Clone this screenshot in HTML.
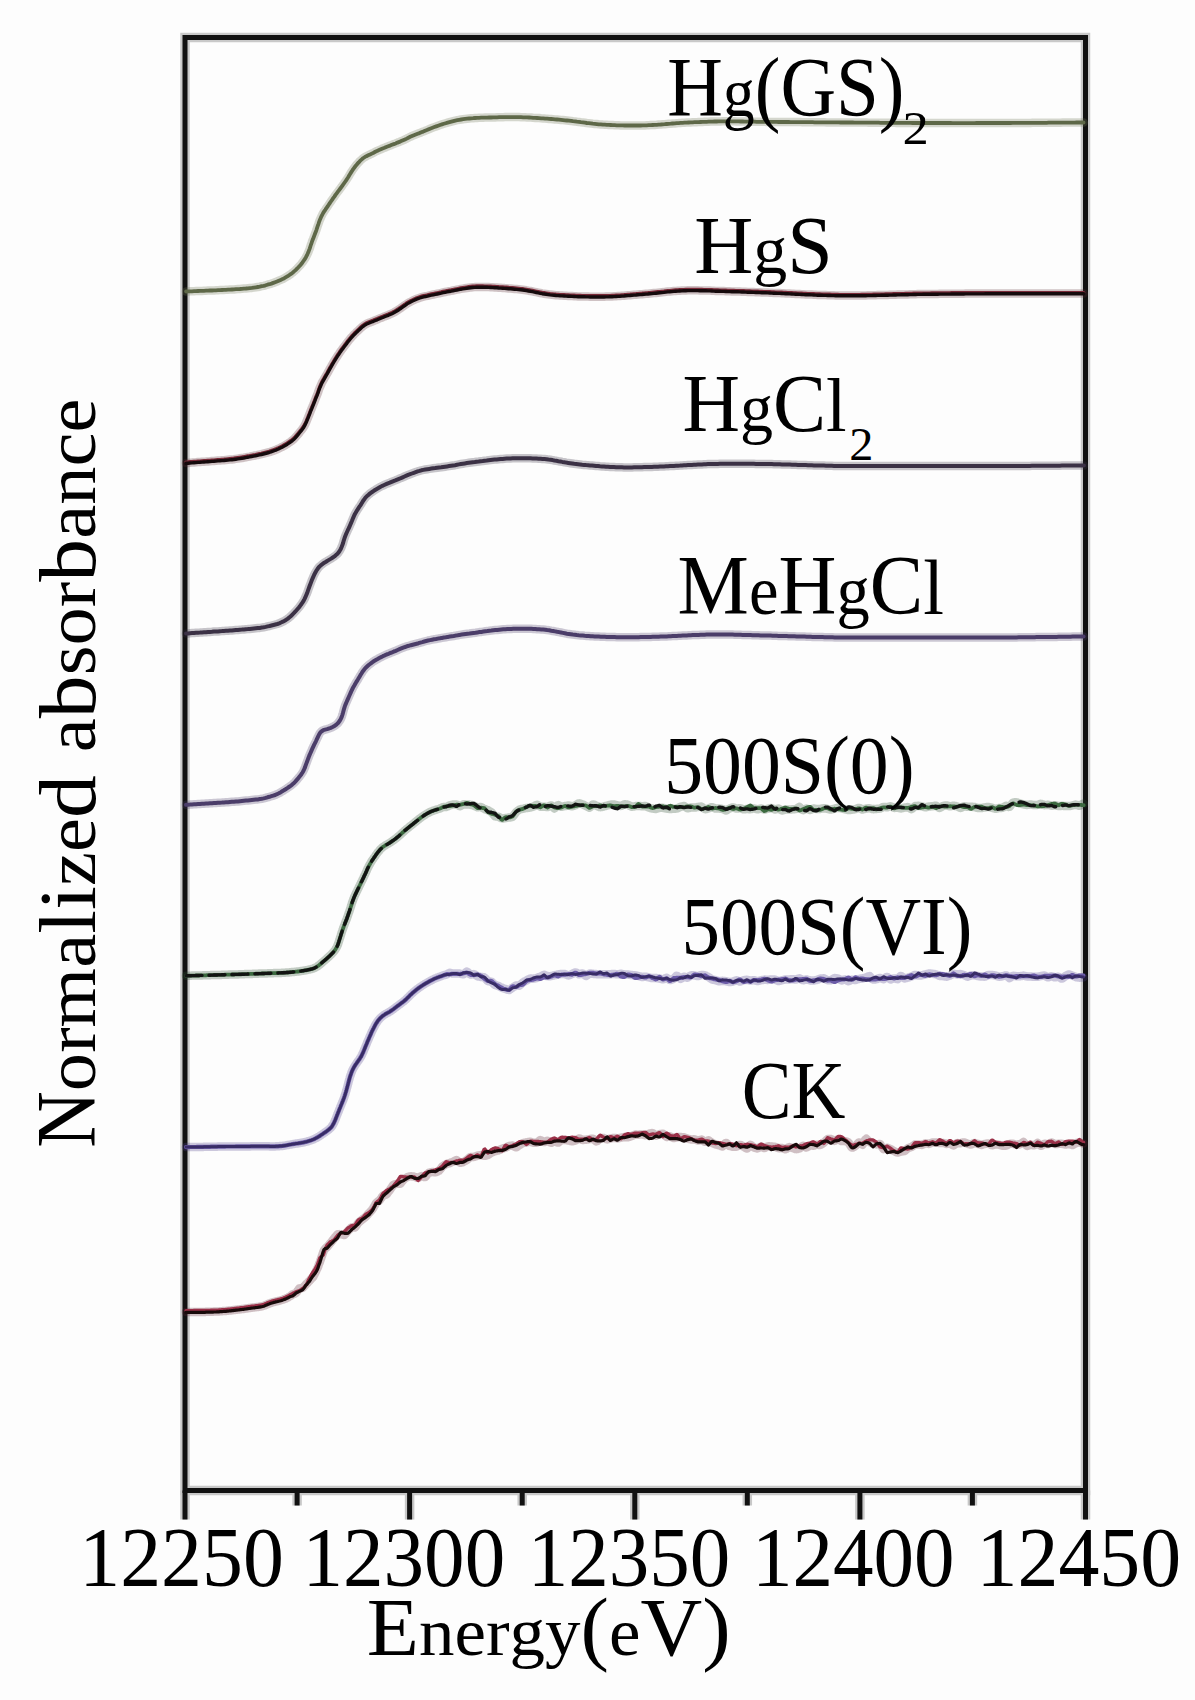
<!DOCTYPE html>
<html><head><meta charset="utf-8"><style>
html,body{margin:0;padding:0;background:#fff;}
svg{display:block;}
text{font-family:"Liberation Serif",serif;font-kerning:none;}
</style></head><body>
<svg width="1195" height="1700" viewBox="0 0 1195 1700">
<rect width="1195" height="1700" fill="#fdfdfd"/>
<g stroke="#111" stroke-width="9.5" opacity="0.22"><rect x="185" y="37.5" width="900.5" height="1453.0" fill="none"/><line x1="185.0" y1="1490.5" x2="185.0" y2="1519.5"/><line x1="297.1" y1="1490.5" x2="297.1" y2="1505.5"/><line x1="409.6" y1="1490.5" x2="409.6" y2="1519.5"/><line x1="522.2" y1="1490.5" x2="522.2" y2="1505.5"/><line x1="634.8" y1="1490.5" x2="634.8" y2="1519.5"/><line x1="747.3" y1="1490.5" x2="747.3" y2="1505.5"/><line x1="859.9" y1="1490.5" x2="859.9" y2="1519.5"/><line x1="972.4" y1="1490.5" x2="972.4" y2="1505.5"/><line x1="1085.5" y1="1490.5" x2="1085.5" y2="1519.5"/></g>
<g stroke="#111" stroke-width="5.0" opacity="1.0"><rect x="185" y="37.5" width="900.5" height="1453.0" fill="none"/><line x1="185.0" y1="1490.5" x2="185.0" y2="1519.5"/><line x1="297.1" y1="1490.5" x2="297.1" y2="1505.5"/><line x1="409.6" y1="1490.5" x2="409.6" y2="1519.5"/><line x1="522.2" y1="1490.5" x2="522.2" y2="1505.5"/><line x1="634.8" y1="1490.5" x2="634.8" y2="1519.5"/><line x1="747.3" y1="1490.5" x2="747.3" y2="1505.5"/><line x1="859.9" y1="1490.5" x2="859.9" y2="1519.5"/><line x1="972.4" y1="1490.5" x2="972.4" y2="1505.5"/><line x1="1085.5" y1="1490.5" x2="1085.5" y2="1519.5"/></g>
<path d="M186.0,291.5 L188.0,291.4 L190.0,291.3 L192.0,291.3 L194.0,291.2 L196.0,291.1 L198.0,291.0 L200.0,290.9 L202.0,290.9 L204.0,290.8 L206.0,290.7 L208.0,290.6 L210.0,290.5 L212.0,290.5 L214.0,290.4 L216.0,290.3 L218.0,290.2 L220.0,290.1 L222.0,290.0 L224.0,289.9 L226.0,289.8 L228.0,289.7 L230.0,289.6 L232.0,289.5 L234.0,289.4 L235.9,289.2 L237.9,289.1 L239.9,289.0 L241.9,288.8 L243.9,288.6 L245.9,288.5 L247.9,288.3 L249.9,288.1 L251.9,287.9 L253.9,287.6 L255.9,287.3 L257.8,287.0 L259.8,286.7 L261.7,286.2 L263.7,285.8 L265.6,285.3 L267.5,284.7 L269.5,284.2 L271.4,283.6 L273.3,282.9 L275.1,282.2 L277.0,281.5 L278.8,280.7 L280.7,279.9 L282.5,279.1 L284.3,278.2 L286.0,277.2 L287.7,276.2 L289.4,275.0 L291.0,273.9 L292.6,272.7 L294.1,271.4 L295.6,270.1 L297.0,268.7 L298.4,267.2 L299.8,265.7 L301.1,264.2 L302.3,262.7 L303.5,261.0 L304.6,259.4 L305.7,257.7 L306.6,255.9 L307.5,254.1 L308.3,252.3 L309.0,250.4 L309.7,248.6 L310.3,246.7 L310.9,244.8 L311.6,242.9 L312.2,241.0 L313.0,239.1 L313.7,237.3 L314.4,235.4 L315.1,233.5 L315.8,231.7 L316.5,229.8 L317.1,227.9 L317.7,226.0 L318.4,224.1 L319.0,222.2 L319.7,220.3 L320.5,218.5 L321.3,216.6 L322.2,214.8 L323.1,213.1 L324.2,211.4 L325.3,209.8 L326.4,208.1 L327.6,206.5 L328.7,204.8 L329.8,203.1 L330.9,201.5 L332.1,199.8 L333.2,198.2 L334.4,196.6 L335.5,194.9 L336.7,193.3 L337.9,191.7 L339.1,190.1 L340.3,188.5 L341.5,186.9 L342.6,185.3 L343.8,183.7 L345.0,182.0 L346.1,180.4 L347.2,178.7 L348.3,177.0 L349.3,175.3 L350.3,173.6 L351.4,171.9 L352.5,170.2 L353.6,168.6 L354.8,167.0 L356.0,165.4 L357.3,163.9 L358.7,162.4 L360.0,160.9 L361.5,159.6 L363.0,158.3 L364.6,157.2 L366.4,156.2 L368.2,155.3 L370.0,154.5 L371.8,153.6 L373.6,152.7 L375.3,151.8 L377.1,150.9 L379.0,150.1 L380.8,149.3 L382.6,148.5 L384.5,147.8 L386.3,147.0 L388.2,146.3 L390.1,145.6 L391.9,144.8 L393.8,144.1 L395.6,143.4 L397.5,142.6 L399.4,141.9 L401.2,141.1 L403.1,140.3 L404.9,139.5 L406.7,138.6 L408.4,137.7 L410.2,136.8 L412.0,136.0 L413.9,135.2 L415.7,134.5 L417.6,133.8 L419.5,133.1 L421.3,132.3 L423.2,131.6 L425.1,130.8 L426.9,130.1 L428.7,129.3 L430.6,128.5 L432.5,127.8 L434.3,127.1 L436.2,126.4 L438.1,125.7 L440.0,125.0 L441.9,124.4 L443.8,123.8 L445.7,123.2 L447.6,122.6 L449.5,122.1 L451.4,121.6 L453.4,121.1 L455.3,120.6 L457.3,120.2 L459.3,119.8 L461.2,119.5 L463.2,119.2 L465.2,118.9 L467.2,118.7 L469.2,118.5 L471.1,118.3 L473.1,118.2 L475.1,118.0 L477.1,117.9 L479.1,117.8 L481.1,117.7 L483.1,117.7 L485.1,117.6 L487.1,117.6 L489.1,117.5 L491.1,117.5 L493.1,117.4 L495.1,117.4 L497.1,117.3 L499.1,117.2 L501.1,117.2 L503.1,117.2 L505.1,117.1 L507.1,117.1 L509.1,117.1 L511.1,117.1 L513.1,117.1 L515.1,117.1 L517.1,117.1 L519.1,117.1 L521.1,117.2 L523.1,117.3 L525.1,117.3 L527.1,117.4 L529.1,117.5 L531.1,117.6 L533.1,117.8 L535.1,117.9 L537.1,118.0 L539.1,118.1 L541.1,118.3 L543.1,118.4 L545.1,118.6 L547.1,118.7 L549.1,118.9 L551.1,119.0 L553.1,119.2 L555.0,119.4 L557.0,119.5 L559.0,119.7 L561.0,119.9 L563.0,120.1 L565.0,120.3 L567.0,120.5 L569.0,120.7 L571.0,120.9 L573.0,121.2 L574.9,121.4 L576.9,121.7 L578.9,121.9 L580.9,122.2 L582.9,122.4 L584.9,122.7 L586.8,123.0 L588.8,123.2 L590.8,123.4 L592.8,123.7 L594.8,123.9 L596.8,124.1 L598.8,124.3 L600.8,124.4 L602.8,124.6 L604.8,124.7 L606.7,124.8 L608.7,124.9 L610.7,125.0 L612.7,125.1 L614.7,125.2 L616.7,125.3 L618.7,125.3 L620.7,125.4 L622.7,125.4 L624.7,125.5 L626.7,125.5 L628.7,125.5 L630.7,125.5 L632.7,125.5 L634.7,125.5 L636.7,125.5 L638.7,125.5 L640.7,125.5 L642.7,125.4 L644.7,125.4 L646.7,125.3 L648.7,125.2 L650.7,125.1 L652.7,125.0 L654.7,124.9 L656.7,124.8 L658.7,124.6 L660.7,124.5 L662.7,124.3 L664.7,124.2 L666.7,124.0 L668.7,123.8 L670.7,123.7 L672.7,123.5 L674.7,123.4 L676.7,123.2 L678.6,123.1 L680.6,122.9 L682.6,122.8 L684.6,122.7 L686.6,122.6 L688.6,122.5 L690.6,122.4 L692.6,122.3 L694.6,122.2 L696.6,122.2 L698.6,122.1 L700.6,122.0 L702.6,121.9 L704.6,121.8 L706.6,121.8 L708.6,121.7 L710.6,121.6 L712.6,121.6 L714.6,121.5 L716.6,121.5 L718.6,121.4 L720.6,121.4 L722.6,121.3 L724.6,121.3 L726.6,121.3 L728.6,121.3 L730.6,121.3 L732.6,121.3 L734.6,121.3 L736.6,121.4 L738.6,121.4 L740.6,121.5 L742.6,121.5 L744.6,121.6 L746.6,121.6 L748.6,121.6 L750.6,121.7 L752.6,121.7 L754.6,121.7 L756.6,121.8 L758.6,121.8 L760.6,121.8 L762.6,121.8 L764.6,121.8 L766.6,121.9 L768.6,121.9 L770.6,121.9 L772.6,121.9 L774.6,121.9 L776.6,121.9 L778.6,122.0 L780.6,122.0 L782.6,122.0 L784.6,122.0 L786.6,122.0 L788.6,122.0 L790.6,122.1 L792.6,122.1 L794.6,122.1 L796.6,122.1 L798.6,122.1 L800.6,122.1 L802.6,122.2 L804.6,122.2 L806.6,122.2 L808.6,122.2 L810.6,122.2 L812.6,122.2 L814.6,122.3 L816.6,122.3 L818.6,122.3 L820.6,122.3 L822.6,122.3 L824.6,122.3 L826.6,122.4 L828.6,122.4 L830.6,122.4 L832.6,122.4 L834.6,122.4 L836.6,122.4 L838.6,122.4 L840.6,122.5 L842.6,122.5 L844.6,122.5 L846.6,122.5 L848.6,122.5 L850.6,122.5 L852.6,122.5 L854.6,122.6 L856.6,122.6 L858.6,122.6 L860.6,122.6 L862.6,122.6 L864.6,122.6 L866.6,122.6 L868.6,122.7 L870.6,122.7 L872.6,122.7 L874.6,122.7 L876.6,122.7 L878.6,122.7 L880.6,122.8 L882.6,122.8 L884.6,122.8 L886.6,122.8 L888.6,122.8 L890.6,122.8 L892.6,122.8 L894.6,122.8 L896.6,122.9 L898.6,122.9 L900.6,122.9 L902.6,122.9 L904.6,122.9 L906.6,122.9 L908.6,122.9 L910.6,122.9 L912.6,123.0 L914.6,123.0 L916.6,123.0 L918.6,123.0 L920.6,123.0 L922.6,123.0 L924.6,123.0 L926.6,123.0 L928.6,123.0 L930.6,123.0 L932.6,123.0 L934.6,123.0 L936.6,123.0 L938.6,123.0 L940.6,123.0 L942.6,123.0 L944.6,123.0 L946.6,123.0 L948.6,123.0 L950.6,123.0 L952.6,123.1 L954.6,123.1 L956.6,123.1 L958.6,123.1 L960.6,123.1 L962.6,123.1 L964.6,123.1 L966.6,123.1 L968.6,123.1 L970.6,123.1 L972.6,123.1 L974.6,123.1 L976.6,123.0 L978.6,123.0 L980.6,123.0 L982.6,123.0 L984.6,123.0 L986.6,123.0 L988.6,123.0 L990.6,123.0 L992.6,123.0 L994.6,123.0 L996.6,123.0 L998.6,123.0 L1000.6,123.0 L1002.6,123.0 L1004.6,123.0 L1006.6,123.0 L1008.6,123.0 L1010.6,123.0 L1012.6,122.9 L1014.6,122.9 L1016.6,122.9 L1018.6,122.9 L1020.6,122.9 L1022.6,122.9 L1024.6,122.9 L1026.6,122.9 L1028.6,122.9 L1030.6,122.9 L1032.6,122.8 L1034.6,122.8 L1036.6,122.8 L1038.6,122.8 L1040.6,122.8 L1042.6,122.8 L1044.6,122.8 L1046.6,122.8 L1048.6,122.7 L1050.6,122.7 L1052.6,122.7 L1054.6,122.7 L1056.6,122.7 L1058.6,122.7 L1060.6,122.7 L1062.6,122.6 L1064.6,122.6 L1066.6,122.6 L1068.6,122.6 L1070.6,122.6 L1072.6,122.6 L1074.6,122.6 L1076.6,122.5 L1078.6,122.5 L1080.6,122.5 L1082.6,122.5 L1083.6,122.5" fill="none" stroke="#6a7452" stroke-width="8.5" stroke-linejoin="round" stroke-linecap="round" stroke-opacity="0.28"/>
<path d="M186.0,291.5 L188.0,291.4 L190.0,291.3 L192.0,291.3 L194.0,291.2 L196.0,291.1 L198.0,291.0 L200.0,290.9 L202.0,290.9 L204.0,290.8 L206.0,290.7 L208.0,290.6 L210.0,290.5 L212.0,290.5 L214.0,290.4 L216.0,290.3 L218.0,290.2 L220.0,290.1 L222.0,290.0 L224.0,289.9 L226.0,289.8 L228.0,289.7 L230.0,289.6 L232.0,289.5 L234.0,289.4 L235.9,289.2 L237.9,289.1 L239.9,289.0 L241.9,288.8 L243.9,288.6 L245.9,288.5 L247.9,288.3 L249.9,288.1 L251.9,287.9 L253.9,287.6 L255.9,287.3 L257.8,287.0 L259.8,286.7 L261.7,286.2 L263.7,285.8 L265.6,285.3 L267.5,284.7 L269.5,284.2 L271.4,283.6 L273.3,282.9 L275.1,282.2 L277.0,281.5 L278.8,280.7 L280.7,279.9 L282.5,279.1 L284.3,278.2 L286.0,277.2 L287.7,276.2 L289.4,275.0 L291.0,273.9 L292.6,272.7 L294.1,271.4 L295.6,270.1 L297.0,268.7 L298.4,267.2 L299.8,265.7 L301.1,264.2 L302.3,262.7 L303.5,261.0 L304.6,259.4 L305.7,257.7 L306.6,255.9 L307.5,254.1 L308.3,252.3 L309.0,250.4 L309.7,248.6 L310.3,246.7 L310.9,244.8 L311.6,242.9 L312.2,241.0 L313.0,239.1 L313.7,237.3 L314.4,235.4 L315.1,233.5 L315.8,231.7 L316.5,229.8 L317.1,227.9 L317.7,226.0 L318.4,224.1 L319.0,222.2 L319.7,220.3 L320.5,218.5 L321.3,216.6 L322.2,214.8 L323.1,213.1 L324.2,211.4 L325.3,209.8 L326.4,208.1 L327.6,206.5 L328.7,204.8 L329.8,203.1 L330.9,201.5 L332.1,199.8 L333.2,198.2 L334.4,196.6 L335.5,194.9 L336.7,193.3 L337.9,191.7 L339.1,190.1 L340.3,188.5 L341.5,186.9 L342.6,185.3 L343.8,183.7 L345.0,182.0 L346.1,180.4 L347.2,178.7 L348.3,177.0 L349.3,175.3 L350.3,173.6 L351.4,171.9 L352.5,170.2 L353.6,168.6 L354.8,167.0 L356.0,165.4 L357.3,163.9 L358.7,162.4 L360.0,160.9 L361.5,159.6 L363.0,158.3 L364.6,157.2 L366.4,156.2 L368.2,155.3 L370.0,154.5 L371.8,153.6 L373.6,152.7 L375.3,151.8 L377.1,150.9 L379.0,150.1 L380.8,149.3 L382.6,148.5 L384.5,147.8 L386.3,147.0 L388.2,146.3 L390.1,145.6 L391.9,144.8 L393.8,144.1 L395.6,143.4 L397.5,142.6 L399.4,141.9 L401.2,141.1 L403.1,140.3 L404.9,139.5 L406.7,138.6 L408.4,137.7 L410.2,136.8 L412.0,136.0 L413.9,135.2 L415.7,134.5 L417.6,133.8 L419.5,133.1 L421.3,132.3 L423.2,131.6 L425.1,130.8 L426.9,130.1 L428.7,129.3 L430.6,128.5 L432.5,127.8 L434.3,127.1 L436.2,126.4 L438.1,125.7 L440.0,125.0 L441.9,124.4 L443.8,123.8 L445.7,123.2 L447.6,122.6 L449.5,122.1 L451.4,121.6 L453.4,121.1 L455.3,120.6 L457.3,120.2 L459.3,119.8 L461.2,119.5 L463.2,119.2 L465.2,118.9 L467.2,118.7 L469.2,118.5 L471.1,118.3 L473.1,118.2 L475.1,118.0 L477.1,117.9 L479.1,117.8 L481.1,117.7 L483.1,117.7 L485.1,117.6 L487.1,117.6 L489.1,117.5 L491.1,117.5 L493.1,117.4 L495.1,117.4 L497.1,117.3 L499.1,117.2 L501.1,117.2 L503.1,117.2 L505.1,117.1 L507.1,117.1 L509.1,117.1 L511.1,117.1 L513.1,117.1 L515.1,117.1 L517.1,117.1 L519.1,117.1 L521.1,117.2 L523.1,117.3 L525.1,117.3 L527.1,117.4 L529.1,117.5 L531.1,117.6 L533.1,117.8 L535.1,117.9 L537.1,118.0 L539.1,118.1 L541.1,118.3 L543.1,118.4 L545.1,118.6 L547.1,118.7 L549.1,118.9 L551.1,119.0 L553.1,119.2 L555.0,119.4 L557.0,119.5 L559.0,119.7 L561.0,119.9 L563.0,120.1 L565.0,120.3 L567.0,120.5 L569.0,120.7 L571.0,120.9 L573.0,121.2 L574.9,121.4 L576.9,121.7 L578.9,121.9 L580.9,122.2 L582.9,122.4 L584.9,122.7 L586.8,123.0 L588.8,123.2 L590.8,123.4 L592.8,123.7 L594.8,123.9 L596.8,124.1 L598.8,124.3 L600.8,124.4 L602.8,124.6 L604.8,124.7 L606.7,124.8 L608.7,124.9 L610.7,125.0 L612.7,125.1 L614.7,125.2 L616.7,125.3 L618.7,125.3 L620.7,125.4 L622.7,125.4 L624.7,125.5 L626.7,125.5 L628.7,125.5 L630.7,125.5 L632.7,125.5 L634.7,125.5 L636.7,125.5 L638.7,125.5 L640.7,125.5 L642.7,125.4 L644.7,125.4 L646.7,125.3 L648.7,125.2 L650.7,125.1 L652.7,125.0 L654.7,124.9 L656.7,124.8 L658.7,124.6 L660.7,124.5 L662.7,124.3 L664.7,124.2 L666.7,124.0 L668.7,123.8 L670.7,123.7 L672.7,123.5 L674.7,123.4 L676.7,123.2 L678.6,123.1 L680.6,122.9 L682.6,122.8 L684.6,122.7 L686.6,122.6 L688.6,122.5 L690.6,122.4 L692.6,122.3 L694.6,122.2 L696.6,122.2 L698.6,122.1 L700.6,122.0 L702.6,121.9 L704.6,121.8 L706.6,121.8 L708.6,121.7 L710.6,121.6 L712.6,121.6 L714.6,121.5 L716.6,121.5 L718.6,121.4 L720.6,121.4 L722.6,121.3 L724.6,121.3 L726.6,121.3 L728.6,121.3 L730.6,121.3 L732.6,121.3 L734.6,121.3 L736.6,121.4 L738.6,121.4 L740.6,121.5 L742.6,121.5 L744.6,121.6 L746.6,121.6 L748.6,121.6 L750.6,121.7 L752.6,121.7 L754.6,121.7 L756.6,121.8 L758.6,121.8 L760.6,121.8 L762.6,121.8 L764.6,121.8 L766.6,121.9 L768.6,121.9 L770.6,121.9 L772.6,121.9 L774.6,121.9 L776.6,121.9 L778.6,122.0 L780.6,122.0 L782.6,122.0 L784.6,122.0 L786.6,122.0 L788.6,122.0 L790.6,122.1 L792.6,122.1 L794.6,122.1 L796.6,122.1 L798.6,122.1 L800.6,122.1 L802.6,122.2 L804.6,122.2 L806.6,122.2 L808.6,122.2 L810.6,122.2 L812.6,122.2 L814.6,122.3 L816.6,122.3 L818.6,122.3 L820.6,122.3 L822.6,122.3 L824.6,122.3 L826.6,122.4 L828.6,122.4 L830.6,122.4 L832.6,122.4 L834.6,122.4 L836.6,122.4 L838.6,122.4 L840.6,122.5 L842.6,122.5 L844.6,122.5 L846.6,122.5 L848.6,122.5 L850.6,122.5 L852.6,122.5 L854.6,122.6 L856.6,122.6 L858.6,122.6 L860.6,122.6 L862.6,122.6 L864.6,122.6 L866.6,122.6 L868.6,122.7 L870.6,122.7 L872.6,122.7 L874.6,122.7 L876.6,122.7 L878.6,122.7 L880.6,122.8 L882.6,122.8 L884.6,122.8 L886.6,122.8 L888.6,122.8 L890.6,122.8 L892.6,122.8 L894.6,122.8 L896.6,122.9 L898.6,122.9 L900.6,122.9 L902.6,122.9 L904.6,122.9 L906.6,122.9 L908.6,122.9 L910.6,122.9 L912.6,123.0 L914.6,123.0 L916.6,123.0 L918.6,123.0 L920.6,123.0 L922.6,123.0 L924.6,123.0 L926.6,123.0 L928.6,123.0 L930.6,123.0 L932.6,123.0 L934.6,123.0 L936.6,123.0 L938.6,123.0 L940.6,123.0 L942.6,123.0 L944.6,123.0 L946.6,123.0 L948.6,123.0 L950.6,123.0 L952.6,123.1 L954.6,123.1 L956.6,123.1 L958.6,123.1 L960.6,123.1 L962.6,123.1 L964.6,123.1 L966.6,123.1 L968.6,123.1 L970.6,123.1 L972.6,123.1 L974.6,123.1 L976.6,123.0 L978.6,123.0 L980.6,123.0 L982.6,123.0 L984.6,123.0 L986.6,123.0 L988.6,123.0 L990.6,123.0 L992.6,123.0 L994.6,123.0 L996.6,123.0 L998.6,123.0 L1000.6,123.0 L1002.6,123.0 L1004.6,123.0 L1006.6,123.0 L1008.6,123.0 L1010.6,123.0 L1012.6,122.9 L1014.6,122.9 L1016.6,122.9 L1018.6,122.9 L1020.6,122.9 L1022.6,122.9 L1024.6,122.9 L1026.6,122.9 L1028.6,122.9 L1030.6,122.9 L1032.6,122.8 L1034.6,122.8 L1036.6,122.8 L1038.6,122.8 L1040.6,122.8 L1042.6,122.8 L1044.6,122.8 L1046.6,122.8 L1048.6,122.7 L1050.6,122.7 L1052.6,122.7 L1054.6,122.7 L1056.6,122.7 L1058.6,122.7 L1060.6,122.7 L1062.6,122.6 L1064.6,122.6 L1066.6,122.6 L1068.6,122.6 L1070.6,122.6 L1072.6,122.6 L1074.6,122.6 L1076.6,122.5 L1078.6,122.5 L1080.6,122.5 L1082.6,122.5 L1083.6,122.5" fill="none" stroke="#5e6848" stroke-width="3.8" stroke-linejoin="round" stroke-linecap="round"/>
<path d="M186.0,463.0 L188.0,462.9 L190.0,462.7 L192.0,462.6 L194.0,462.4 L196.0,462.3 L198.0,462.1 L200.0,462.0 L202.0,461.8 L204.0,461.7 L205.9,461.6 L207.9,461.4 L209.9,461.3 L211.9,461.1 L213.9,461.0 L215.9,460.8 L217.9,460.6 L219.9,460.5 L221.9,460.3 L223.9,460.2 L225.9,460.0 L227.9,459.8 L229.9,459.6 L231.9,459.4 L233.8,459.2 L235.8,458.9 L237.8,458.6 L239.8,458.3 L241.8,458.0 L243.7,457.7 L245.7,457.3 L247.7,456.9 L249.6,456.6 L251.6,456.2 L253.6,455.8 L255.5,455.5 L257.5,455.0 L259.4,454.6 L261.4,454.2 L263.3,453.7 L265.3,453.2 L267.2,452.7 L269.1,452.2 L271.0,451.6 L272.9,450.9 L274.8,450.2 L276.6,449.5 L278.5,448.7 L280.3,447.8 L282.1,446.9 L283.8,446.0 L285.6,445.0 L287.3,443.9 L288.9,442.8 L290.6,441.7 L292.2,440.5 L293.7,439.2 L295.1,437.8 L296.4,436.3 L297.7,434.8 L299.0,433.2 L300.2,431.7 L301.5,430.1 L302.7,428.5 L303.8,426.9 L304.8,425.1 L305.7,423.3 L306.5,421.5 L307.2,419.7 L308.0,417.8 L308.7,416.0 L309.5,414.1 L310.2,412.2 L310.9,410.4 L311.7,408.5 L312.4,406.7 L313.2,404.8 L313.9,403.0 L314.7,401.1 L315.4,399.2 L316.1,397.4 L316.9,395.5 L317.6,393.7 L318.3,391.8 L318.9,389.9 L319.6,388.0 L320.4,386.2 L321.2,384.3 L322.0,382.5 L323.0,380.8 L324.0,379.1 L325.0,377.3 L326.0,375.6 L327.0,373.9 L328.0,372.1 L328.9,370.4 L329.9,368.6 L330.9,366.9 L331.9,365.1 L332.9,363.4 L333.9,361.7 L334.9,360.0 L336.0,358.3 L337.1,356.6 L338.2,354.9 L339.3,353.3 L340.4,351.6 L341.6,350.0 L342.8,348.4 L344.0,346.8 L345.2,345.2 L346.4,343.6 L347.6,342.0 L348.9,340.4 L350.1,338.9 L351.4,337.4 L352.8,335.9 L354.1,334.4 L355.6,333.0 L357.0,331.6 L358.4,330.3 L359.9,328.9 L361.4,327.5 L362.9,326.2 L364.5,325.1 L366.2,324.0 L368.0,323.2 L369.8,322.4 L371.7,321.7 L373.5,321.0 L375.4,320.2 L377.2,319.5 L379.1,318.7 L380.9,317.9 L382.8,317.2 L384.6,316.4 L386.5,315.7 L388.4,315.0 L390.2,314.2 L392.0,313.4 L393.8,312.5 L395.5,311.5 L397.3,310.4 L398.9,309.4 L400.6,308.2 L402.2,307.1 L403.8,305.9 L405.5,304.8 L407.1,303.6 L408.8,302.6 L410.6,301.7 L412.4,300.8 L414.2,299.9 L416.0,299.1 L417.9,298.4 L419.8,297.7 L421.7,297.1 L423.6,296.6 L425.6,296.2 L427.5,295.8 L429.5,295.3 L431.4,294.9 L433.4,294.5 L435.3,294.1 L437.3,293.7 L439.3,293.3 L441.2,292.9 L443.2,292.4 L445.1,292.0 L447.1,291.6 L449.0,291.2 L451.0,290.9 L453.0,290.5 L454.9,290.1 L456.9,289.7 L458.9,289.3 L460.8,288.9 L462.8,288.6 L464.8,288.3 L466.7,288.0 L468.7,287.7 L470.7,287.4 L472.7,287.2 L474.7,287.1 L476.7,286.9 L478.7,286.9 L480.7,286.9 L482.7,286.9 L484.7,287.0 L486.7,287.0 L488.7,287.1 L490.7,287.2 L492.7,287.3 L494.7,287.4 L496.7,287.5 L498.7,287.7 L500.7,287.8 L502.6,287.9 L504.6,288.1 L506.6,288.2 L508.6,288.4 L510.6,288.5 L512.6,288.7 L514.6,288.9 L516.6,289.1 L518.6,289.3 L520.6,289.5 L522.6,289.7 L524.5,290.0 L526.5,290.3 L528.5,290.7 L530.5,291.0 L532.4,291.4 L534.4,291.8 L536.3,292.2 L538.3,292.6 L540.3,293.0 L542.2,293.4 L544.2,293.7 L546.2,294.0 L548.1,294.3 L550.1,294.6 L552.1,294.8 L554.1,295.0 L556.1,295.2 L558.1,295.3 L560.1,295.5 L562.1,295.6 L564.1,295.7 L566.1,295.8 L568.1,295.9 L570.1,296.0 L572.1,296.1 L574.1,296.2 L576.1,296.3 L578.1,296.4 L580.1,296.4 L582.1,296.5 L584.1,296.5 L586.1,296.6 L588.1,296.6 L590.1,296.7 L592.1,296.7 L594.1,296.7 L596.1,296.7 L598.1,296.7 L600.1,296.7 L602.1,296.7 L604.1,296.7 L606.1,296.6 L608.1,296.6 L610.1,296.5 L612.1,296.4 L614.1,296.3 L616.1,296.2 L618.0,296.1 L620.0,296.0 L622.0,295.8 L624.0,295.7 L626.0,295.5 L628.0,295.3 L630.0,295.2 L632.0,295.0 L634.0,294.8 L636.0,294.7 L638.0,294.5 L640.0,294.3 L642.0,294.2 L644.0,294.0 L646.0,293.8 L647.9,293.7 L649.9,293.5 L651.9,293.3 L653.9,293.1 L655.9,292.9 L657.9,292.7 L659.9,292.5 L661.9,292.3 L663.9,292.1 L665.9,291.8 L667.8,291.6 L669.8,291.5 L671.8,291.3 L673.8,291.1 L675.8,290.9 L677.8,290.8 L679.8,290.7 L681.8,290.6 L683.8,290.5 L685.8,290.4 L687.8,290.3 L689.8,290.3 L691.8,290.3 L693.8,290.3 L695.8,290.3 L697.8,290.3 L699.8,290.4 L701.8,290.4 L703.8,290.5 L705.8,290.5 L707.8,290.6 L709.8,290.6 L711.8,290.7 L713.8,290.8 L715.8,290.9 L717.8,290.9 L719.8,291.0 L721.8,291.1 L723.8,291.1 L725.8,291.2 L727.8,291.3 L729.8,291.3 L731.8,291.4 L733.8,291.4 L735.8,291.5 L737.8,291.5 L739.8,291.6 L741.8,291.7 L743.8,291.7 L745.8,291.8 L747.8,291.9 L749.8,291.9 L751.8,292.0 L753.8,292.1 L755.8,292.2 L757.8,292.2 L759.8,292.3 L761.8,292.4 L763.8,292.5 L765.8,292.5 L767.8,292.6 L769.8,292.7 L771.8,292.8 L773.8,292.9 L775.7,293.0 L777.7,293.1 L779.7,293.1 L781.7,293.2 L783.7,293.3 L785.7,293.4 L787.7,293.5 L789.7,293.6 L791.7,293.7 L793.7,293.8 L795.7,293.9 L797.7,294.0 L799.7,294.1 L801.7,294.2 L803.7,294.3 L805.7,294.4 L807.7,294.5 L809.7,294.5 L811.7,294.6 L813.7,294.7 L815.7,294.8 L817.7,294.9 L819.7,294.9 L821.7,295.0 L823.7,295.1 L825.7,295.1 L827.7,295.2 L829.7,295.2 L831.7,295.3 L833.7,295.3 L835.7,295.4 L837.7,295.4 L839.7,295.5 L841.7,295.5 L843.7,295.5 L845.7,295.5 L847.7,295.5 L849.7,295.5 L851.7,295.5 L853.7,295.5 L855.7,295.5 L857.7,295.5 L859.7,295.5 L861.7,295.4 L863.7,295.4 L865.7,295.4 L867.7,295.3 L869.7,295.3 L871.7,295.3 L873.7,295.2 L875.7,295.2 L877.7,295.1 L879.7,295.1 L881.7,295.0 L883.7,295.0 L885.7,294.9 L887.7,294.9 L889.7,294.8 L891.7,294.8 L893.7,294.7 L895.7,294.7 L897.7,294.6 L899.7,294.6 L901.7,294.5 L903.7,294.5 L905.7,294.4 L907.7,294.4 L909.7,294.3 L911.7,294.3 L913.7,294.2 L915.7,294.2 L917.7,294.1 L919.7,294.1 L921.7,294.1 L923.7,294.0 L925.7,294.0 L927.7,294.0 L929.7,294.0 L931.7,293.9 L933.7,293.9 L935.7,293.9 L937.7,293.9 L939.7,293.8 L941.7,293.8 L943.7,293.8 L945.7,293.8 L947.7,293.8 L949.7,293.8 L951.7,293.7 L953.7,293.7 L955.7,293.7 L957.7,293.7 L959.7,293.7 L961.7,293.7 L963.7,293.7 L965.7,293.6 L967.7,293.6 L969.7,293.6 L971.7,293.6 L973.7,293.6 L975.7,293.6 L977.7,293.6 L979.7,293.6 L981.7,293.6 L983.7,293.6 L985.7,293.5 L987.7,293.5 L989.7,293.5 L991.7,293.5 L993.7,293.5 L995.7,293.5 L997.7,293.5 L999.7,293.5 L1001.7,293.5 L1003.7,293.5 L1005.7,293.5 L1007.7,293.5 L1009.7,293.5 L1011.7,293.5 L1013.7,293.5 L1015.7,293.5 L1017.7,293.5 L1019.7,293.5 L1021.7,293.5 L1023.7,293.5 L1025.7,293.5 L1027.7,293.5 L1029.7,293.5 L1031.7,293.5 L1033.7,293.5 L1035.7,293.5 L1037.7,293.5 L1039.7,293.5 L1041.7,293.5 L1043.7,293.5 L1045.7,293.5 L1047.7,293.5 L1049.7,293.5 L1051.7,293.5 L1053.7,293.5 L1055.7,293.5 L1057.7,293.5 L1059.7,293.5 L1061.7,293.5 L1063.7,293.5 L1065.7,293.5 L1067.7,293.5 L1069.7,293.5 L1071.7,293.5 L1073.7,293.5 L1075.7,293.5 L1077.7,293.5 L1079.7,293.5 L1081.7,293.5 L1083.7,293.5 L1083.7,293.5" fill="none" stroke="#5a2a34" stroke-width="8.5" stroke-linejoin="round" stroke-linecap="round" stroke-opacity="0.28"/>
<path d="M186.0,462.1 L188.0,462.0 L190.0,461.8 L192.0,461.7 L194.0,461.5 L196.0,461.4 L198.0,461.2 L200.0,461.1 L202.0,460.9 L204.0,460.8 L205.9,460.7 L207.9,460.5 L209.9,460.4 L211.9,460.2 L213.9,460.1 L215.9,459.9 L217.9,459.7 L219.9,459.6 L221.9,459.4 L223.9,459.3 L225.9,459.1 L227.9,458.9 L229.9,458.7 L231.9,458.5 L233.8,458.3 L235.8,458.0 L237.8,457.7 L239.8,457.4 L241.8,457.1 L243.7,456.8 L245.7,456.4 L247.7,456.0 L249.6,455.7 L251.6,455.3 L253.6,454.9 L255.5,454.6 L257.5,454.1 L259.4,453.7 L261.4,453.3 L263.3,452.8 L265.3,452.3 L267.2,451.8 L269.1,451.3 L271.0,450.7 L272.9,450.0 L274.8,449.3 L276.6,448.6 L278.5,447.8 L280.3,446.9 L282.1,446.0 L283.8,445.1 L285.6,444.1 L287.3,443.0 L288.9,441.9 L290.6,440.8 L292.2,439.6 L293.7,438.3 L295.1,436.9 L296.4,435.4 L297.7,433.9 L299.0,432.3 L300.2,430.8 L301.5,429.2 L302.7,427.6 L303.8,426.0 L304.8,424.2 L305.7,422.4 L306.5,420.6 L307.2,418.8 L308.0,416.9 L308.7,415.1 L309.5,413.2 L310.2,411.3 L310.9,409.5 L311.7,407.6 L312.4,405.8 L313.2,403.9 L313.9,402.1 L314.7,400.2 L315.4,398.3 L316.1,396.5 L316.9,394.6 L317.6,392.8 L318.3,390.9 L318.9,389.0 L319.6,387.1 L320.4,385.3 L321.2,383.4 L322.0,381.6 L323.0,379.9 L324.0,378.2 L325.0,376.4 L326.0,374.7 L327.0,373.0 L328.0,371.2 L328.9,369.5 L329.9,367.7 L330.9,366.0 L331.9,364.2 L332.9,362.5 L333.9,360.8 L334.9,359.1 L336.0,357.4 L337.1,355.7 L338.2,354.0 L339.3,352.4 L340.4,350.7 L341.6,349.1 L342.8,347.5 L344.0,345.9 L345.2,344.3 L346.4,342.7 L347.6,341.1 L348.9,339.5 L350.1,338.0 L351.4,336.5 L352.8,335.0 L354.1,333.5 L355.6,332.1 L357.0,330.7 L358.4,329.4 L359.9,328.0 L361.4,326.6 L362.9,325.3 L364.5,324.2 L366.2,323.1 L368.0,322.3 L369.8,321.5 L371.7,320.8 L373.5,320.1 L375.4,319.3 L377.2,318.6 L379.1,317.8 L380.9,317.0 L382.8,316.3 L384.6,315.5 L386.5,314.8 L388.4,314.1 L390.2,313.3 L392.0,312.5 L393.8,311.6 L395.5,310.6 L397.3,309.5 L398.9,308.5 L400.6,307.3 L402.2,306.2 L403.8,305.0 L405.5,303.9 L407.1,302.7 L408.8,301.7 L410.6,300.8 L412.4,299.9 L414.2,299.0 L416.0,298.2 L417.9,297.5 L419.8,296.8 L421.7,296.2 L423.6,295.7 L425.6,295.3 L427.5,294.9 L429.5,294.4 L431.4,294.0 L433.4,293.6 L435.3,293.2 L437.3,292.8 L439.3,292.4 L441.2,292.0 L443.2,291.5 L445.1,291.1 L447.1,290.7 L449.0,290.3 L451.0,290.0 L453.0,289.6 L454.9,289.2 L456.9,288.8 L458.9,288.4 L460.8,288.0 L462.8,287.7 L464.8,287.4 L466.7,287.1 L468.7,286.8 L470.7,286.5 L472.7,286.3 L474.7,286.2 L476.7,286.0 L478.7,286.0 L480.7,286.0 L482.7,286.0 L484.7,286.1 L486.7,286.1 L488.7,286.2 L490.7,286.3 L492.7,286.4 L494.7,286.5 L496.7,286.6 L498.7,286.8 L500.7,286.9 L502.6,287.0 L504.6,287.2 L506.6,287.3 L508.6,287.5 L510.6,287.6 L512.6,287.8 L514.6,288.0 L516.6,288.2 L518.6,288.4 L520.6,288.6 L522.6,288.8 L524.5,289.1 L526.5,289.4 L528.5,289.8 L530.5,290.1 L532.4,290.5 L534.4,290.9 L536.3,291.3 L538.3,291.7 L540.3,292.1 L542.2,292.5 L544.2,292.8 L546.2,293.1 L548.1,293.4 L550.1,293.7 L552.1,293.9 L554.1,294.1 L556.1,294.3 L558.1,294.4 L560.1,294.6 L562.1,294.7 L564.1,294.8 L566.1,294.9 L568.1,295.0 L570.1,295.1 L572.1,295.2 L574.1,295.3 L576.1,295.4 L578.1,295.5 L580.1,295.5 L582.1,295.6 L584.1,295.6 L586.1,295.7 L588.1,295.7 L590.1,295.8 L592.1,295.8 L594.1,295.8 L596.1,295.8 L598.1,295.8 L600.1,295.8 L602.1,295.8 L604.1,295.8 L606.1,295.7 L608.1,295.7 L610.1,295.6 L612.1,295.5 L614.1,295.4 L616.1,295.3 L618.0,295.2 L620.0,295.1 L622.0,294.9 L624.0,294.8 L626.0,294.6 L628.0,294.4 L630.0,294.3 L632.0,294.1 L634.0,293.9 L636.0,293.8 L638.0,293.6 L640.0,293.4 L642.0,293.3 L644.0,293.1 L646.0,292.9 L647.9,292.8 L649.9,292.6 L651.9,292.4 L653.9,292.2 L655.9,292.0 L657.9,291.8 L659.9,291.6 L661.9,291.4 L663.9,291.2 L665.9,290.9 L667.8,290.7 L669.8,290.6 L671.8,290.4 L673.8,290.2 L675.8,290.0 L677.8,289.9 L679.8,289.8 L681.8,289.7 L683.8,289.6 L685.8,289.5 L687.8,289.4 L689.8,289.4 L691.8,289.4 L693.8,289.4 L695.8,289.4 L697.8,289.4 L699.8,289.5 L701.8,289.5 L703.8,289.6 L705.8,289.6 L707.8,289.7 L709.8,289.7 L711.8,289.8 L713.8,289.9 L715.8,290.0 L717.8,290.0 L719.8,290.1 L721.8,290.2 L723.8,290.2 L725.8,290.3 L727.8,290.4 L729.8,290.4 L731.8,290.5 L733.8,290.5 L735.8,290.6 L737.8,290.6 L739.8,290.7 L741.8,290.8 L743.8,290.8 L745.8,290.9 L747.8,291.0 L749.8,291.0 L751.8,291.1 L753.8,291.2 L755.8,291.3 L757.8,291.3 L759.8,291.4 L761.8,291.5 L763.8,291.6 L765.8,291.6 L767.8,291.7 L769.8,291.8 L771.8,291.9 L773.8,292.0 L775.7,292.1 L777.7,292.2 L779.7,292.2 L781.7,292.3 L783.7,292.4 L785.7,292.5 L787.7,292.6 L789.7,292.7 L791.7,292.8 L793.7,292.9 L795.7,293.0 L797.7,293.1 L799.7,293.2 L801.7,293.3 L803.7,293.4 L805.7,293.5 L807.7,293.6 L809.7,293.6 L811.7,293.7 L813.7,293.8 L815.7,293.9 L817.7,294.0 L819.7,294.0 L821.7,294.1 L823.7,294.2 L825.7,294.2 L827.7,294.3 L829.7,294.3 L831.7,294.4 L833.7,294.4 L835.7,294.5 L837.7,294.5 L839.7,294.6 L841.7,294.6 L843.7,294.6 L845.7,294.6 L847.7,294.6 L849.7,294.6 L851.7,294.6 L853.7,294.6 L855.7,294.6 L857.7,294.6 L859.7,294.6 L861.7,294.5 L863.7,294.5 L865.7,294.5 L867.7,294.4 L869.7,294.4 L871.7,294.4 L873.7,294.3 L875.7,294.3 L877.7,294.2 L879.7,294.2 L881.7,294.1 L883.7,294.1 L885.7,294.0 L887.7,294.0 L889.7,293.9 L891.7,293.9 L893.7,293.8 L895.7,293.8 L897.7,293.7 L899.7,293.7 L901.7,293.6 L903.7,293.6 L905.7,293.5 L907.7,293.5 L909.7,293.4 L911.7,293.4 L913.7,293.3 L915.7,293.3 L917.7,293.2 L919.7,293.2 L921.7,293.2 L923.7,293.1 L925.7,293.1 L927.7,293.1 L929.7,293.1 L931.7,293.0 L933.7,293.0 L935.7,293.0 L937.7,293.0 L939.7,292.9 L941.7,292.9 L943.7,292.9 L945.7,292.9 L947.7,292.9 L949.7,292.9 L951.7,292.8 L953.7,292.8 L955.7,292.8 L957.7,292.8 L959.7,292.8 L961.7,292.8 L963.7,292.8 L965.7,292.7 L967.7,292.7 L969.7,292.7 L971.7,292.7 L973.7,292.7 L975.7,292.7 L977.7,292.7 L979.7,292.7 L981.7,292.7 L983.7,292.7 L985.7,292.6 L987.7,292.6 L989.7,292.6 L991.7,292.6 L993.7,292.6 L995.7,292.6 L997.7,292.6 L999.7,292.6 L1001.7,292.6 L1003.7,292.6 L1005.7,292.6 L1007.7,292.6 L1009.7,292.6 L1011.7,292.6 L1013.7,292.6 L1015.7,292.6 L1017.7,292.6 L1019.7,292.6 L1021.7,292.6 L1023.7,292.6 L1025.7,292.6 L1027.7,292.6 L1029.7,292.6 L1031.7,292.6 L1033.7,292.6 L1035.7,292.6 L1037.7,292.6 L1039.7,292.6 L1041.7,292.6 L1043.7,292.6 L1045.7,292.6 L1047.7,292.6 L1049.7,292.6 L1051.7,292.6 L1053.7,292.6 L1055.7,292.6 L1057.7,292.6 L1059.7,292.6 L1061.7,292.6 L1063.7,292.6 L1065.7,292.6 L1067.7,292.6 L1069.7,292.6 L1071.7,292.6 L1073.7,292.6 L1075.7,292.6 L1077.7,292.6 L1079.7,292.6 L1081.7,292.6 L1083.7,292.6 L1083.7,292.6" fill="none" stroke="#7a2a38" stroke-width="3.4" stroke-linejoin="round" stroke-linecap="round"/>
<path d="M186.0,463.3 L188.0,463.2 L190.0,463.0 L192.0,462.9 L194.0,462.7 L196.0,462.6 L198.0,462.4 L200.0,462.3 L202.0,462.1 L204.0,462.0 L205.9,461.9 L207.9,461.7 L209.9,461.6 L211.9,461.4 L213.9,461.3 L215.9,461.1 L217.9,460.9 L219.9,460.8 L221.9,460.6 L223.9,460.5 L225.9,460.3 L227.9,460.1 L229.9,459.9 L231.9,459.7 L233.8,459.5 L235.8,459.2 L237.8,458.9 L239.8,458.6 L241.8,458.3 L243.7,458.0 L245.7,457.6 L247.7,457.2 L249.6,456.9 L251.6,456.5 L253.6,456.1 L255.5,455.8 L257.5,455.3 L259.4,454.9 L261.4,454.5 L263.3,454.0 L265.3,453.5 L267.2,453.0 L269.1,452.5 L271.0,451.9 L272.9,451.2 L274.8,450.5 L276.6,449.8 L278.5,449.0 L280.3,448.1 L282.1,447.2 L283.8,446.3 L285.6,445.3 L287.3,444.2 L288.9,443.1 L290.6,442.0 L292.2,440.8 L293.7,439.5 L295.1,438.1 L296.4,436.6 L297.7,435.1 L299.0,433.5 L300.2,432.0 L301.5,430.4 L302.7,428.8 L303.8,427.2 L304.8,425.4 L305.7,423.6 L306.5,421.8 L307.2,420.0 L308.0,418.1 L308.7,416.3 L309.5,414.4 L310.2,412.5 L310.9,410.7 L311.7,408.8 L312.4,407.0 L313.2,405.1 L313.9,403.3 L314.7,401.4 L315.4,399.5 L316.1,397.7 L316.9,395.8 L317.6,394.0 L318.3,392.1 L318.9,390.2 L319.6,388.3 L320.4,386.5 L321.2,384.6 L322.0,382.8 L323.0,381.1 L324.0,379.4 L325.0,377.6 L326.0,375.9 L327.0,374.2 L328.0,372.4 L328.9,370.7 L329.9,368.9 L330.9,367.2 L331.9,365.4 L332.9,363.7 L333.9,362.0 L334.9,360.3 L336.0,358.6 L337.1,356.9 L338.2,355.2 L339.3,353.6 L340.4,351.9 L341.6,350.3 L342.8,348.7 L344.0,347.1 L345.2,345.5 L346.4,343.9 L347.6,342.3 L348.9,340.7 L350.1,339.2 L351.4,337.7 L352.8,336.2 L354.1,334.7 L355.6,333.3 L357.0,331.9 L358.4,330.6 L359.9,329.2 L361.4,327.8 L362.9,326.5 L364.5,325.4 L366.2,324.3 L368.0,323.5 L369.8,322.7 L371.7,322.0 L373.5,321.3 L375.4,320.5 L377.2,319.8 L379.1,319.0 L380.9,318.2 L382.8,317.5 L384.6,316.7 L386.5,316.0 L388.4,315.3 L390.2,314.5 L392.0,313.7 L393.8,312.8 L395.5,311.8 L397.3,310.7 L398.9,309.7 L400.6,308.5 L402.2,307.4 L403.8,306.2 L405.5,305.1 L407.1,303.9 L408.8,302.9 L410.6,302.0 L412.4,301.1 L414.2,300.2 L416.0,299.4 L417.9,298.7 L419.8,298.0 L421.7,297.4 L423.6,296.9 L425.6,296.5 L427.5,296.1 L429.5,295.6 L431.4,295.2 L433.4,294.8 L435.3,294.4 L437.3,294.0 L439.3,293.6 L441.2,293.2 L443.2,292.7 L445.1,292.3 L447.1,291.9 L449.0,291.5 L451.0,291.2 L453.0,290.8 L454.9,290.4 L456.9,290.0 L458.9,289.6 L460.8,289.2 L462.8,288.9 L464.8,288.6 L466.7,288.3 L468.7,288.0 L470.7,287.7 L472.7,287.5 L474.7,287.4 L476.7,287.2 L478.7,287.2 L480.7,287.2 L482.7,287.2 L484.7,287.3 L486.7,287.3 L488.7,287.4 L490.7,287.5 L492.7,287.6 L494.7,287.7 L496.7,287.8 L498.7,288.0 L500.7,288.1 L502.6,288.2 L504.6,288.4 L506.6,288.5 L508.6,288.7 L510.6,288.8 L512.6,289.0 L514.6,289.2 L516.6,289.4 L518.6,289.6 L520.6,289.8 L522.6,290.0 L524.5,290.3 L526.5,290.6 L528.5,291.0 L530.5,291.3 L532.4,291.7 L534.4,292.1 L536.3,292.5 L538.3,292.9 L540.3,293.3 L542.2,293.7 L544.2,294.0 L546.2,294.3 L548.1,294.6 L550.1,294.9 L552.1,295.1 L554.1,295.3 L556.1,295.5 L558.1,295.6 L560.1,295.8 L562.1,295.9 L564.1,296.0 L566.1,296.1 L568.1,296.2 L570.1,296.3 L572.1,296.4 L574.1,296.5 L576.1,296.6 L578.1,296.7 L580.1,296.7 L582.1,296.8 L584.1,296.8 L586.1,296.9 L588.1,296.9 L590.1,297.0 L592.1,297.0 L594.1,297.0 L596.1,297.0 L598.1,297.0 L600.1,297.0 L602.1,297.0 L604.1,297.0 L606.1,296.9 L608.1,296.9 L610.1,296.8 L612.1,296.7 L614.1,296.6 L616.1,296.5 L618.0,296.4 L620.0,296.3 L622.0,296.1 L624.0,296.0 L626.0,295.8 L628.0,295.6 L630.0,295.5 L632.0,295.3 L634.0,295.1 L636.0,295.0 L638.0,294.8 L640.0,294.6 L642.0,294.5 L644.0,294.3 L646.0,294.1 L647.9,294.0 L649.9,293.8 L651.9,293.6 L653.9,293.4 L655.9,293.2 L657.9,293.0 L659.9,292.8 L661.9,292.6 L663.9,292.4 L665.9,292.1 L667.8,291.9 L669.8,291.8 L671.8,291.6 L673.8,291.4 L675.8,291.2 L677.8,291.1 L679.8,291.0 L681.8,290.9 L683.8,290.8 L685.8,290.7 L687.8,290.6 L689.8,290.6 L691.8,290.6 L693.8,290.6 L695.8,290.6 L697.8,290.6 L699.8,290.7 L701.8,290.7 L703.8,290.8 L705.8,290.8 L707.8,290.9 L709.8,290.9 L711.8,291.0 L713.8,291.1 L715.8,291.2 L717.8,291.2 L719.8,291.3 L721.8,291.4 L723.8,291.4 L725.8,291.5 L727.8,291.6 L729.8,291.6 L731.8,291.7 L733.8,291.7 L735.8,291.8 L737.8,291.8 L739.8,291.9 L741.8,292.0 L743.8,292.0 L745.8,292.1 L747.8,292.2 L749.8,292.2 L751.8,292.3 L753.8,292.4 L755.8,292.5 L757.8,292.5 L759.8,292.6 L761.8,292.7 L763.8,292.8 L765.8,292.8 L767.8,292.9 L769.8,293.0 L771.8,293.1 L773.8,293.2 L775.7,293.3 L777.7,293.4 L779.7,293.4 L781.7,293.5 L783.7,293.6 L785.7,293.7 L787.7,293.8 L789.7,293.9 L791.7,294.0 L793.7,294.1 L795.7,294.2 L797.7,294.3 L799.7,294.4 L801.7,294.5 L803.7,294.6 L805.7,294.7 L807.7,294.8 L809.7,294.8 L811.7,294.9 L813.7,295.0 L815.7,295.1 L817.7,295.2 L819.7,295.2 L821.7,295.3 L823.7,295.4 L825.7,295.4 L827.7,295.5 L829.7,295.5 L831.7,295.6 L833.7,295.6 L835.7,295.7 L837.7,295.7 L839.7,295.8 L841.7,295.8 L843.7,295.8 L845.7,295.8 L847.7,295.8 L849.7,295.8 L851.7,295.8 L853.7,295.8 L855.7,295.8 L857.7,295.8 L859.7,295.8 L861.7,295.7 L863.7,295.7 L865.7,295.7 L867.7,295.6 L869.7,295.6 L871.7,295.6 L873.7,295.5 L875.7,295.5 L877.7,295.4 L879.7,295.4 L881.7,295.3 L883.7,295.3 L885.7,295.2 L887.7,295.2 L889.7,295.1 L891.7,295.1 L893.7,295.0 L895.7,295.0 L897.7,294.9 L899.7,294.9 L901.7,294.8 L903.7,294.8 L905.7,294.7 L907.7,294.7 L909.7,294.6 L911.7,294.6 L913.7,294.5 L915.7,294.5 L917.7,294.4 L919.7,294.4 L921.7,294.4 L923.7,294.3 L925.7,294.3 L927.7,294.3 L929.7,294.3 L931.7,294.2 L933.7,294.2 L935.7,294.2 L937.7,294.2 L939.7,294.1 L941.7,294.1 L943.7,294.1 L945.7,294.1 L947.7,294.1 L949.7,294.1 L951.7,294.0 L953.7,294.0 L955.7,294.0 L957.7,294.0 L959.7,294.0 L961.7,294.0 L963.7,294.0 L965.7,293.9 L967.7,293.9 L969.7,293.9 L971.7,293.9 L973.7,293.9 L975.7,293.9 L977.7,293.9 L979.7,293.9 L981.7,293.9 L983.7,293.9 L985.7,293.8 L987.7,293.8 L989.7,293.8 L991.7,293.8 L993.7,293.8 L995.7,293.8 L997.7,293.8 L999.7,293.8 L1001.7,293.8 L1003.7,293.8 L1005.7,293.8 L1007.7,293.8 L1009.7,293.8 L1011.7,293.8 L1013.7,293.8 L1015.7,293.8 L1017.7,293.8 L1019.7,293.8 L1021.7,293.8 L1023.7,293.8 L1025.7,293.8 L1027.7,293.8 L1029.7,293.8 L1031.7,293.8 L1033.7,293.8 L1035.7,293.8 L1037.7,293.8 L1039.7,293.8 L1041.7,293.8 L1043.7,293.8 L1045.7,293.8 L1047.7,293.8 L1049.7,293.8 L1051.7,293.8 L1053.7,293.8 L1055.7,293.8 L1057.7,293.8 L1059.7,293.8 L1061.7,293.8 L1063.7,293.8 L1065.7,293.8 L1067.7,293.8 L1069.7,293.8 L1071.7,293.8 L1073.7,293.8 L1075.7,293.8 L1077.7,293.8 L1079.7,293.8 L1081.7,293.8 L1083.7,293.8 L1083.7,293.8" fill="none" stroke="#150a0c" stroke-width="3.4" stroke-linejoin="round" stroke-linecap="round"/>
<path d="M186.0,633.5 L188.0,633.4 L190.0,633.2 L192.0,633.1 L194.0,633.0 L196.0,632.8 L198.0,632.7 L200.0,632.6 L202.0,632.4 L204.0,632.3 L206.0,632.2 L208.0,632.0 L209.9,631.9 L211.9,631.8 L213.9,631.6 L215.9,631.5 L217.9,631.4 L219.9,631.2 L221.9,631.1 L223.9,630.9 L225.9,630.8 L227.9,630.7 L229.9,630.5 L231.9,630.4 L233.9,630.2 L235.9,630.0 L237.9,629.9 L239.9,629.7 L241.9,629.6 L243.9,629.4 L245.8,629.2 L247.8,629.1 L249.8,628.9 L251.8,628.7 L253.8,628.5 L255.8,628.3 L257.8,628.1 L259.8,627.9 L261.8,627.6 L263.7,627.3 L265.7,626.9 L267.6,626.4 L269.6,626.0 L271.5,625.5 L273.5,625.0 L275.4,624.5 L277.3,624.0 L279.2,623.3 L281.0,622.5 L282.8,621.7 L284.6,620.7 L286.3,619.7 L287.9,618.6 L289.5,617.3 L291.0,616.0 L292.4,614.6 L293.8,613.2 L295.2,611.7 L296.5,610.2 L297.8,608.7 L299.1,607.2 L300.3,605.6 L301.5,604.0 L302.6,602.3 L303.7,600.6 L304.6,598.9 L305.4,597.1 L306.2,595.2 L307.0,593.4 L307.7,591.5 L308.3,589.6 L309.0,587.7 L309.7,585.8 L310.4,584.0 L311.1,582.1 L311.8,580.2 L312.6,578.4 L313.4,576.6 L314.2,574.7 L315.1,573.0 L316.1,571.2 L317.2,569.5 L318.3,567.9 L319.6,566.4 L321.1,565.1 L322.7,563.9 L324.3,562.7 L326.0,561.7 L327.7,560.6 L329.4,559.6 L331.1,558.6 L332.8,557.5 L334.5,556.4 L336.0,555.1 L337.5,553.8 L338.7,552.3 L339.8,550.6 L340.8,548.9 L341.6,547.0 L342.3,545.2 L343.0,543.3 L343.5,541.4 L344.1,539.5 L344.7,537.6 L345.4,535.7 L346.2,533.8 L347.0,532.0 L347.8,530.2 L348.7,528.4 L349.5,526.6 L350.3,524.7 L351.1,522.9 L351.9,521.0 L352.6,519.2 L353.4,517.4 L354.2,515.5 L355.1,513.7 L356.1,512.0 L357.1,510.3 L358.2,508.6 L359.3,506.9 L360.4,505.3 L361.5,503.6 L362.5,501.9 L363.6,500.2 L364.8,498.6 L366.0,497.1 L367.4,495.7 L368.9,494.4 L370.5,493.1 L372.1,492.0 L373.8,490.8 L375.5,489.7 L377.2,488.7 L378.9,487.7 L380.6,486.7 L382.4,485.8 L384.2,485.0 L386.1,484.2 L387.9,483.4 L389.8,482.7 L391.6,481.9 L393.5,481.1 L395.3,480.4 L397.2,479.6 L399.0,478.8 L400.9,478.1 L402.7,477.3 L404.5,476.5 L406.4,475.7 L408.2,474.9 L410.1,474.2 L411.9,473.5 L413.8,472.8 L415.7,472.1 L417.6,471.4 L419.5,470.9 L421.4,470.3 L423.4,469.9 L425.3,469.5 L427.3,469.2 L429.3,468.9 L431.3,468.6 L433.2,468.3 L435.2,468.1 L437.2,467.8 L439.2,467.5 L441.2,467.3 L443.2,467.0 L445.1,466.7 L447.1,466.4 L449.1,466.1 L451.1,465.8 L453.0,465.5 L455.0,465.2 L457.0,464.8 L458.9,464.4 L460.9,464.0 L462.9,463.7 L464.8,463.4 L466.8,463.1 L468.8,462.8 L470.8,462.5 L472.8,462.2 L474.8,462.0 L476.7,461.7 L478.7,461.5 L480.7,461.2 L482.7,461.0 L484.7,460.7 L486.7,460.5 L488.6,460.2 L490.6,460.0 L492.6,459.8 L494.6,459.6 L496.6,459.4 L498.6,459.2 L500.6,459.0 L502.6,458.9 L504.6,458.7 L506.6,458.6 L508.6,458.5 L510.6,458.4 L512.6,458.3 L514.6,458.3 L516.6,458.2 L518.6,458.2 L520.6,458.2 L522.6,458.2 L524.6,458.2 L526.6,458.2 L528.6,458.2 L530.6,458.3 L532.6,458.4 L534.5,458.5 L536.5,458.6 L538.5,458.7 L540.5,458.8 L542.5,459.0 L544.5,459.1 L546.5,459.3 L548.5,459.6 L550.5,459.8 L552.5,460.1 L554.4,460.5 L556.4,460.8 L558.4,461.2 L560.3,461.5 L562.3,461.9 L564.3,462.2 L566.2,462.6 L568.2,462.9 L570.2,463.2 L572.2,463.5 L574.2,463.8 L576.1,464.0 L578.1,464.2 L580.1,464.4 L582.1,464.7 L584.1,464.9 L586.1,465.1 L588.1,465.2 L590.1,465.4 L592.1,465.6 L594.1,465.8 L596.0,466.0 L598.0,466.1 L600.0,466.3 L602.0,466.4 L604.0,466.5 L606.0,466.7 L608.0,466.8 L610.0,466.9 L612.0,467.0 L614.0,467.1 L616.0,467.2 L618.0,467.2 L620.0,467.3 L622.0,467.3 L624.0,467.4 L626.0,467.4 L628.0,467.4 L630.0,467.4 L632.0,467.4 L634.0,467.3 L636.0,467.3 L638.0,467.3 L640.0,467.2 L642.0,467.2 L644.0,467.1 L646.0,467.1 L648.0,467.0 L650.0,467.0 L652.0,466.9 L654.0,466.8 L656.0,466.8 L658.0,466.7 L660.0,466.6 L662.0,466.5 L664.0,466.4 L666.0,466.3 L668.0,466.2 L670.0,466.1 L672.0,466.0 L674.0,465.9 L676.0,465.8 L678.0,465.7 L680.0,465.6 L682.0,465.4 L684.0,465.3 L686.0,465.2 L687.9,465.1 L689.9,465.0 L691.9,464.9 L693.9,464.8 L695.9,464.7 L697.9,464.6 L699.9,464.5 L701.9,464.4 L703.9,464.3 L705.9,464.2 L707.9,464.1 L709.9,464.1 L711.9,464.0 L713.9,464.0 L715.9,463.9 L717.9,463.9 L719.9,463.8 L721.9,463.8 L723.9,463.8 L725.9,463.8 L727.9,463.7 L729.9,463.7 L731.9,463.7 L733.9,463.7 L735.9,463.7 L737.9,463.7 L739.9,463.7 L741.9,463.7 L743.9,463.7 L745.9,463.8 L747.9,463.8 L749.9,463.8 L751.9,463.8 L753.9,463.8 L755.9,463.9 L757.9,463.9 L759.9,463.9 L761.9,464.0 L763.9,464.0 L765.9,464.0 L767.9,464.1 L769.9,464.1 L771.9,464.1 L773.9,464.2 L775.9,464.2 L777.9,464.3 L779.9,464.3 L781.9,464.4 L783.9,464.4 L785.9,464.5 L787.9,464.6 L789.9,464.6 L791.9,464.7 L793.9,464.7 L795.9,464.8 L797.9,464.9 L799.9,464.9 L801.9,465.0 L803.9,465.1 L805.9,465.1 L807.9,465.2 L809.9,465.2 L811.9,465.3 L813.9,465.4 L815.9,465.4 L817.9,465.5 L819.9,465.5 L821.9,465.6 L823.9,465.6 L825.9,465.7 L827.9,465.7 L829.9,465.8 L831.9,465.8 L833.9,465.9 L835.9,465.9 L837.9,465.9 L839.9,466.0 L841.9,466.0 L843.9,466.0 L845.9,466.0 L847.9,466.1 L849.9,466.1 L851.9,466.1 L853.9,466.1 L855.9,466.1 L857.9,466.1 L859.9,466.1 L861.9,466.1 L863.9,466.1 L865.9,466.1 L867.9,466.1 L869.9,466.1 L871.9,466.1 L873.9,466.1 L875.9,466.1 L877.9,466.1 L879.9,466.1 L881.9,466.1 L883.9,466.1 L885.9,466.1 L887.9,466.1 L889.9,466.1 L891.9,466.1 L893.9,466.1 L895.9,466.1 L897.9,466.1 L899.9,466.1 L901.9,466.1 L903.9,466.1 L905.9,466.0 L907.9,466.0 L909.9,466.0 L911.9,466.0 L913.9,466.0 L915.9,466.0 L917.9,466.0 L919.9,466.0 L921.9,466.0 L923.9,466.0 L925.9,466.0 L927.9,466.0 L929.9,466.0 L931.9,466.0 L933.9,466.0 L935.9,466.0 L937.9,466.0 L939.9,466.0 L941.9,466.0 L943.9,466.0 L945.9,466.0 L947.9,466.0 L949.9,466.0 L951.9,466.0 L953.9,466.0 L955.9,466.0 L957.9,466.0 L959.9,466.0 L961.9,466.0 L963.9,466.0 L965.9,466.0 L967.9,466.0 L969.9,466.0 L971.9,466.0 L973.9,466.0 L975.9,466.0 L977.9,466.0 L979.9,466.0 L981.9,466.0 L983.9,466.0 L985.9,466.0 L987.9,466.0 L989.9,466.0 L991.9,466.0 L993.9,466.0 L995.9,466.0 L997.9,466.0 L999.9,466.0 L1001.9,466.0 L1003.9,466.0 L1005.9,466.0 L1007.9,466.0 L1009.9,466.0 L1011.9,466.0 L1013.9,465.9 L1015.9,465.9 L1017.9,465.9 L1019.9,465.9 L1021.9,465.9 L1023.9,465.9 L1025.9,465.9 L1027.9,465.9 L1029.9,465.9 L1031.9,465.8 L1033.9,465.8 L1035.9,465.8 L1037.9,465.8 L1039.9,465.8 L1041.9,465.8 L1043.9,465.8 L1045.9,465.8 L1047.9,465.7 L1049.9,465.7 L1051.9,465.7 L1053.9,465.7 L1055.9,465.7 L1057.9,465.7 L1059.9,465.7 L1061.9,465.6 L1063.9,465.6 L1065.9,465.6 L1067.9,465.6 L1069.9,465.6 L1071.9,465.6 L1073.9,465.6 L1075.9,465.6 L1077.9,465.5 L1079.9,465.5 L1081.9,465.5 L1083.9,465.5 L1083.9,465.5" fill="none" stroke="#3b3145" stroke-width="8.5" stroke-linejoin="round" stroke-linecap="round" stroke-opacity="0.28"/>
<path d="M186.0,633.5 L188.0,633.4 L190.0,633.2 L192.0,633.1 L194.0,633.0 L196.0,632.8 L198.0,632.7 L200.0,632.6 L202.0,632.4 L204.0,632.3 L206.0,632.2 L208.0,632.0 L209.9,631.9 L211.9,631.8 L213.9,631.6 L215.9,631.5 L217.9,631.4 L219.9,631.2 L221.9,631.1 L223.9,630.9 L225.9,630.8 L227.9,630.7 L229.9,630.5 L231.9,630.4 L233.9,630.2 L235.9,630.0 L237.9,629.9 L239.9,629.7 L241.9,629.6 L243.9,629.4 L245.8,629.2 L247.8,629.1 L249.8,628.9 L251.8,628.7 L253.8,628.5 L255.8,628.3 L257.8,628.1 L259.8,627.9 L261.8,627.6 L263.7,627.3 L265.7,626.9 L267.6,626.4 L269.6,626.0 L271.5,625.5 L273.5,625.0 L275.4,624.5 L277.3,624.0 L279.2,623.3 L281.0,622.5 L282.8,621.7 L284.6,620.7 L286.3,619.7 L287.9,618.6 L289.5,617.3 L291.0,616.0 L292.4,614.6 L293.8,613.2 L295.2,611.7 L296.5,610.2 L297.8,608.7 L299.1,607.2 L300.3,605.6 L301.5,604.0 L302.6,602.3 L303.7,600.6 L304.6,598.9 L305.4,597.1 L306.2,595.2 L307.0,593.4 L307.7,591.5 L308.3,589.6 L309.0,587.7 L309.7,585.8 L310.4,584.0 L311.1,582.1 L311.8,580.2 L312.6,578.4 L313.4,576.6 L314.2,574.7 L315.1,573.0 L316.1,571.2 L317.2,569.5 L318.3,567.9 L319.6,566.4 L321.1,565.1 L322.7,563.9 L324.3,562.7 L326.0,561.7 L327.7,560.6 L329.4,559.6 L331.1,558.6 L332.8,557.5 L334.5,556.4 L336.0,555.1 L337.5,553.8 L338.7,552.3 L339.8,550.6 L340.8,548.9 L341.6,547.0 L342.3,545.2 L343.0,543.3 L343.5,541.4 L344.1,539.5 L344.7,537.6 L345.4,535.7 L346.2,533.8 L347.0,532.0 L347.8,530.2 L348.7,528.4 L349.5,526.6 L350.3,524.7 L351.1,522.9 L351.9,521.0 L352.6,519.2 L353.4,517.4 L354.2,515.5 L355.1,513.7 L356.1,512.0 L357.1,510.3 L358.2,508.6 L359.3,506.9 L360.4,505.3 L361.5,503.6 L362.5,501.9 L363.6,500.2 L364.8,498.6 L366.0,497.1 L367.4,495.7 L368.9,494.4 L370.5,493.1 L372.1,492.0 L373.8,490.8 L375.5,489.7 L377.2,488.7 L378.9,487.7 L380.6,486.7 L382.4,485.8 L384.2,485.0 L386.1,484.2 L387.9,483.4 L389.8,482.7 L391.6,481.9 L393.5,481.1 L395.3,480.4 L397.2,479.6 L399.0,478.8 L400.9,478.1 L402.7,477.3 L404.5,476.5 L406.4,475.7 L408.2,474.9 L410.1,474.2 L411.9,473.5 L413.8,472.8 L415.7,472.1 L417.6,471.4 L419.5,470.9 L421.4,470.3 L423.4,469.9 L425.3,469.5 L427.3,469.2 L429.3,468.9 L431.3,468.6 L433.2,468.3 L435.2,468.1 L437.2,467.8 L439.2,467.5 L441.2,467.3 L443.2,467.0 L445.1,466.7 L447.1,466.4 L449.1,466.1 L451.1,465.8 L453.0,465.5 L455.0,465.2 L457.0,464.8 L458.9,464.4 L460.9,464.0 L462.9,463.7 L464.8,463.4 L466.8,463.1 L468.8,462.8 L470.8,462.5 L472.8,462.2 L474.8,462.0 L476.7,461.7 L478.7,461.5 L480.7,461.2 L482.7,461.0 L484.7,460.7 L486.7,460.5 L488.6,460.2 L490.6,460.0 L492.6,459.8 L494.6,459.6 L496.6,459.4 L498.6,459.2 L500.6,459.0 L502.6,458.9 L504.6,458.7 L506.6,458.6 L508.6,458.5 L510.6,458.4 L512.6,458.3 L514.6,458.3 L516.6,458.2 L518.6,458.2 L520.6,458.2 L522.6,458.2 L524.6,458.2 L526.6,458.2 L528.6,458.2 L530.6,458.3 L532.6,458.4 L534.5,458.5 L536.5,458.6 L538.5,458.7 L540.5,458.8 L542.5,459.0 L544.5,459.1 L546.5,459.3 L548.5,459.6 L550.5,459.8 L552.5,460.1 L554.4,460.5 L556.4,460.8 L558.4,461.2 L560.3,461.5 L562.3,461.9 L564.3,462.2 L566.2,462.6 L568.2,462.9 L570.2,463.2 L572.2,463.5 L574.2,463.8 L576.1,464.0 L578.1,464.2 L580.1,464.4 L582.1,464.7 L584.1,464.9 L586.1,465.1 L588.1,465.2 L590.1,465.4 L592.1,465.6 L594.1,465.8 L596.0,466.0 L598.0,466.1 L600.0,466.3 L602.0,466.4 L604.0,466.5 L606.0,466.7 L608.0,466.8 L610.0,466.9 L612.0,467.0 L614.0,467.1 L616.0,467.2 L618.0,467.2 L620.0,467.3 L622.0,467.3 L624.0,467.4 L626.0,467.4 L628.0,467.4 L630.0,467.4 L632.0,467.4 L634.0,467.3 L636.0,467.3 L638.0,467.3 L640.0,467.2 L642.0,467.2 L644.0,467.1 L646.0,467.1 L648.0,467.0 L650.0,467.0 L652.0,466.9 L654.0,466.8 L656.0,466.8 L658.0,466.7 L660.0,466.6 L662.0,466.5 L664.0,466.4 L666.0,466.3 L668.0,466.2 L670.0,466.1 L672.0,466.0 L674.0,465.9 L676.0,465.8 L678.0,465.7 L680.0,465.6 L682.0,465.4 L684.0,465.3 L686.0,465.2 L687.9,465.1 L689.9,465.0 L691.9,464.9 L693.9,464.8 L695.9,464.7 L697.9,464.6 L699.9,464.5 L701.9,464.4 L703.9,464.3 L705.9,464.2 L707.9,464.1 L709.9,464.1 L711.9,464.0 L713.9,464.0 L715.9,463.9 L717.9,463.9 L719.9,463.8 L721.9,463.8 L723.9,463.8 L725.9,463.8 L727.9,463.7 L729.9,463.7 L731.9,463.7 L733.9,463.7 L735.9,463.7 L737.9,463.7 L739.9,463.7 L741.9,463.7 L743.9,463.7 L745.9,463.8 L747.9,463.8 L749.9,463.8 L751.9,463.8 L753.9,463.8 L755.9,463.9 L757.9,463.9 L759.9,463.9 L761.9,464.0 L763.9,464.0 L765.9,464.0 L767.9,464.1 L769.9,464.1 L771.9,464.1 L773.9,464.2 L775.9,464.2 L777.9,464.3 L779.9,464.3 L781.9,464.4 L783.9,464.4 L785.9,464.5 L787.9,464.6 L789.9,464.6 L791.9,464.7 L793.9,464.7 L795.9,464.8 L797.9,464.9 L799.9,464.9 L801.9,465.0 L803.9,465.1 L805.9,465.1 L807.9,465.2 L809.9,465.2 L811.9,465.3 L813.9,465.4 L815.9,465.4 L817.9,465.5 L819.9,465.5 L821.9,465.6 L823.9,465.6 L825.9,465.7 L827.9,465.7 L829.9,465.8 L831.9,465.8 L833.9,465.9 L835.9,465.9 L837.9,465.9 L839.9,466.0 L841.9,466.0 L843.9,466.0 L845.9,466.0 L847.9,466.1 L849.9,466.1 L851.9,466.1 L853.9,466.1 L855.9,466.1 L857.9,466.1 L859.9,466.1 L861.9,466.1 L863.9,466.1 L865.9,466.1 L867.9,466.1 L869.9,466.1 L871.9,466.1 L873.9,466.1 L875.9,466.1 L877.9,466.1 L879.9,466.1 L881.9,466.1 L883.9,466.1 L885.9,466.1 L887.9,466.1 L889.9,466.1 L891.9,466.1 L893.9,466.1 L895.9,466.1 L897.9,466.1 L899.9,466.1 L901.9,466.1 L903.9,466.1 L905.9,466.0 L907.9,466.0 L909.9,466.0 L911.9,466.0 L913.9,466.0 L915.9,466.0 L917.9,466.0 L919.9,466.0 L921.9,466.0 L923.9,466.0 L925.9,466.0 L927.9,466.0 L929.9,466.0 L931.9,466.0 L933.9,466.0 L935.9,466.0 L937.9,466.0 L939.9,466.0 L941.9,466.0 L943.9,466.0 L945.9,466.0 L947.9,466.0 L949.9,466.0 L951.9,466.0 L953.9,466.0 L955.9,466.0 L957.9,466.0 L959.9,466.0 L961.9,466.0 L963.9,466.0 L965.9,466.0 L967.9,466.0 L969.9,466.0 L971.9,466.0 L973.9,466.0 L975.9,466.0 L977.9,466.0 L979.9,466.0 L981.9,466.0 L983.9,466.0 L985.9,466.0 L987.9,466.0 L989.9,466.0 L991.9,466.0 L993.9,466.0 L995.9,466.0 L997.9,466.0 L999.9,466.0 L1001.9,466.0 L1003.9,466.0 L1005.9,466.0 L1007.9,466.0 L1009.9,466.0 L1011.9,466.0 L1013.9,465.9 L1015.9,465.9 L1017.9,465.9 L1019.9,465.9 L1021.9,465.9 L1023.9,465.9 L1025.9,465.9 L1027.9,465.9 L1029.9,465.9 L1031.9,465.8 L1033.9,465.8 L1035.9,465.8 L1037.9,465.8 L1039.9,465.8 L1041.9,465.8 L1043.9,465.8 L1045.9,465.8 L1047.9,465.7 L1049.9,465.7 L1051.9,465.7 L1053.9,465.7 L1055.9,465.7 L1057.9,465.7 L1059.9,465.7 L1061.9,465.6 L1063.9,465.6 L1065.9,465.6 L1067.9,465.6 L1069.9,465.6 L1071.9,465.6 L1073.9,465.6 L1075.9,465.6 L1077.9,465.5 L1079.9,465.5 L1081.9,465.5 L1083.9,465.5 L1083.9,465.5" fill="none" stroke="#3b3145" stroke-width="4.0" stroke-linejoin="round" stroke-linecap="round"/>
<path d="M186.0,804.8 L188.0,804.7 L190.0,804.6 L192.0,804.4 L194.0,804.3 L196.0,804.2 L198.0,804.1 L200.0,804.0 L202.0,803.8 L204.0,803.7 L206.0,803.6 L208.0,803.5 L210.0,803.3 L212.0,803.2 L213.9,803.1 L215.9,803.0 L217.9,802.8 L219.9,802.7 L221.9,802.6 L223.9,802.4 L225.9,802.3 L227.9,802.2 L229.9,802.0 L231.9,801.8 L233.9,801.7 L235.9,801.5 L237.9,801.4 L239.9,801.2 L241.9,801.0 L243.9,800.8 L245.9,800.6 L247.8,800.4 L249.8,800.2 L251.8,800.0 L253.8,799.8 L255.8,799.6 L257.8,799.4 L259.8,799.1 L261.7,798.8 L263.7,798.4 L265.6,797.9 L267.5,797.3 L269.5,796.8 L271.4,796.2 L273.3,795.6 L275.2,795.0 L277.0,794.2 L278.8,793.3 L280.5,792.4 L282.2,791.3 L283.9,790.3 L285.6,789.2 L287.3,788.1 L288.9,787.0 L290.6,785.8 L292.2,784.6 L293.7,783.3 L295.1,781.9 L296.4,780.4 L297.7,778.9 L299.0,777.3 L300.2,775.8 L301.4,774.2 L302.5,772.5 L303.5,770.8 L304.3,769.0 L305.1,767.1 L305.7,765.2 L306.4,763.4 L307.1,761.5 L307.8,759.6 L308.5,757.7 L309.2,755.9 L310.0,754.0 L310.8,752.2 L311.6,750.4 L312.4,748.5 L313.3,746.7 L314.1,744.9 L315.0,743.1 L315.9,741.3 L316.7,739.5 L317.6,737.7 L318.4,735.9 L319.3,734.1 L320.3,732.5 L321.7,731.2 L323.3,730.2 L325.1,729.6 L327.0,729.1 L329.0,728.5 L330.8,727.8 L332.6,727.0 L334.4,726.0 L336.0,724.9 L337.5,723.6 L338.8,722.1 L339.9,720.5 L340.9,718.8 L341.7,716.9 L342.3,715.1 L342.9,713.1 L343.4,711.2 L343.9,709.3 L344.5,707.4 L345.1,705.5 L345.9,703.6 L346.7,701.8 L347.5,699.9 L348.3,698.1 L349.1,696.3 L349.9,694.5 L350.7,692.6 L351.5,690.8 L352.4,689.0 L353.3,687.2 L354.3,685.5 L355.3,683.7 L356.3,682.0 L357.4,680.4 L358.4,678.6 L359.4,676.9 L360.4,675.2 L361.5,673.5 L362.5,671.8 L363.7,670.2 L364.9,668.6 L366.3,667.2 L367.8,665.8 L369.3,664.5 L370.9,663.3 L372.5,662.1 L374.1,661.0 L375.8,660.0 L377.6,659.0 L379.3,658.0 L381.1,657.1 L382.9,656.2 L384.7,655.4 L386.5,654.5 L388.4,653.8 L390.2,653.0 L392.1,652.3 L393.9,651.5 L395.8,650.8 L397.6,650.0 L399.5,649.2 L401.3,648.4 L403.2,647.6 L405.0,647.0 L406.9,646.3 L408.8,645.8 L410.8,645.2 L412.7,644.7 L414.6,644.2 L416.6,643.7 L418.5,643.2 L420.4,642.6 L422.3,642.1 L424.3,641.5 L426.2,641.0 L428.1,640.5 L430.1,640.1 L432.1,639.7 L434.0,639.3 L436.0,639.0 L438.0,638.6 L439.9,638.3 L441.9,637.9 L443.9,637.6 L445.8,637.3 L447.8,636.9 L449.8,636.6 L451.8,636.3 L453.7,636.0 L455.7,635.6 L457.7,635.3 L459.6,634.9 L461.6,634.6 L463.6,634.3 L465.6,634.0 L467.6,633.7 L469.5,633.5 L471.5,633.2 L473.5,632.9 L475.5,632.7 L477.5,632.4 L479.4,632.1 L481.4,631.9 L483.4,631.6 L485.4,631.3 L487.4,631.1 L489.4,630.8 L491.3,630.6 L493.3,630.3 L495.3,630.1 L497.3,629.9 L499.3,629.7 L501.3,629.5 L503.3,629.3 L505.3,629.2 L507.3,629.1 L509.3,629.0 L511.3,628.9 L513.3,628.8 L515.3,628.7 L517.3,628.7 L519.3,628.7 L521.3,628.7 L523.3,628.7 L525.3,628.7 L527.3,628.7 L529.3,628.8 L531.3,628.8 L533.3,628.9 L535.3,629.0 L537.2,629.2 L539.2,629.3 L541.2,629.4 L543.2,629.6 L545.2,629.8 L547.2,630.1 L549.2,630.3 L551.2,630.7 L553.1,631.0 L555.1,631.4 L557.1,631.8 L559.0,632.1 L561.0,632.5 L562.9,632.9 L564.9,633.3 L566.9,633.7 L568.8,634.0 L570.8,634.3 L572.8,634.6 L574.8,634.8 L576.8,635.1 L578.8,635.3 L580.8,635.4 L582.7,635.6 L584.7,635.8 L586.7,635.9 L588.7,636.0 L590.7,636.2 L592.7,636.3 L594.7,636.4 L596.7,636.5 L598.7,636.6 L600.7,636.7 L602.7,636.8 L604.7,636.8 L606.7,636.9 L608.7,637.0 L610.7,637.0 L612.7,637.1 L614.7,637.1 L616.7,637.2 L618.7,637.2 L620.7,637.3 L622.7,637.3 L624.7,637.3 L626.7,637.3 L628.7,637.3 L630.7,637.3 L632.7,637.3 L634.7,637.2 L636.7,637.2 L638.7,637.2 L640.7,637.1 L642.7,637.1 L644.7,637.0 L646.7,637.0 L648.7,636.9 L650.7,636.9 L652.7,636.8 L654.7,636.8 L656.7,636.7 L658.7,636.7 L660.7,636.6 L662.7,636.5 L664.7,636.4 L666.7,636.4 L668.7,636.3 L670.7,636.2 L672.7,636.1 L674.7,636.0 L676.7,635.9 L678.7,635.8 L680.7,635.7 L682.7,635.6 L684.7,635.5 L686.7,635.4 L688.7,635.3 L690.7,635.2 L692.7,635.1 L694.7,635.0 L696.7,634.9 L698.7,634.9 L700.6,634.8 L702.6,634.7 L704.6,634.7 L706.6,634.6 L708.6,634.6 L710.6,634.5 L712.6,634.5 L714.6,634.5 L716.6,634.5 L718.6,634.5 L720.6,634.5 L722.6,634.5 L724.6,634.5 L726.6,634.5 L728.6,634.6 L730.6,634.6 L732.6,634.6 L734.6,634.7 L736.6,634.7 L738.6,634.8 L740.6,634.8 L742.6,634.9 L744.6,634.9 L746.6,635.0 L748.6,635.1 L750.6,635.1 L752.6,635.2 L754.6,635.2 L756.6,635.3 L758.6,635.3 L760.6,635.4 L762.6,635.4 L764.6,635.5 L766.6,635.5 L768.6,635.6 L770.6,635.6 L772.6,635.7 L774.6,635.7 L776.6,635.8 L778.6,635.9 L780.6,635.9 L782.6,636.0 L784.6,636.0 L786.6,636.1 L788.6,636.2 L790.6,636.2 L792.6,636.3 L794.6,636.3 L796.6,636.4 L798.6,636.5 L800.6,636.5 L802.6,636.6 L804.6,636.6 L806.6,636.7 L808.6,636.7 L810.6,636.8 L812.6,636.9 L814.6,636.9 L816.6,637.0 L818.6,637.0 L820.6,637.1 L822.6,637.1 L824.6,637.2 L826.6,637.2 L828.6,637.3 L830.6,637.3 L832.6,637.3 L834.6,637.4 L836.6,637.4 L838.6,637.4 L840.6,637.5 L842.6,637.5 L844.6,637.5 L846.6,637.5 L848.6,637.6 L850.6,637.6 L852.6,637.6 L854.6,637.6 L856.6,637.6 L858.6,637.6 L860.6,637.6 L862.6,637.6 L864.6,637.6 L866.6,637.6 L868.6,637.6 L870.6,637.6 L872.6,637.6 L874.6,637.6 L876.6,637.6 L878.6,637.6 L880.6,637.6 L882.6,637.6 L884.6,637.6 L886.6,637.6 L888.6,637.6 L890.6,637.6 L892.6,637.6 L894.6,637.6 L896.6,637.6 L898.6,637.6 L900.6,637.6 L902.6,637.6 L904.6,637.6 L906.6,637.5 L908.6,637.5 L910.6,637.5 L912.6,637.5 L914.6,637.5 L916.6,637.5 L918.6,637.5 L920.6,637.5 L922.6,637.5 L924.6,637.5 L926.6,637.5 L928.6,637.5 L930.6,637.5 L932.6,637.5 L934.6,637.5 L936.6,637.5 L938.6,637.5 L940.6,637.5 L942.6,637.5 L944.6,637.5 L946.6,637.5 L948.6,637.5 L950.6,637.5 L952.6,637.5 L954.6,637.5 L956.6,637.5 L958.6,637.6 L960.6,637.6 L962.6,637.6 L964.6,637.6 L966.6,637.6 L968.6,637.6 L970.6,637.6 L972.6,637.6 L974.6,637.6 L976.6,637.6 L978.6,637.6 L980.6,637.6 L982.6,637.6 L984.6,637.6 L986.6,637.6 L988.6,637.6 L990.6,637.5 L992.6,637.5 L994.6,637.5 L996.6,637.5 L998.6,637.5 L1000.6,637.5 L1002.6,637.5 L1004.6,637.5 L1006.6,637.5 L1008.6,637.4 L1010.6,637.4 L1012.6,637.4 L1014.6,637.4 L1016.6,637.4 L1018.6,637.3 L1020.6,637.3 L1022.6,637.3 L1024.6,637.3 L1026.6,637.2 L1028.6,637.2 L1030.6,637.2 L1032.6,637.2 L1034.6,637.2 L1036.6,637.1 L1038.6,637.1 L1040.6,637.1 L1042.6,637.1 L1044.6,637.0 L1046.6,637.0 L1048.6,637.0 L1050.6,636.9 L1052.6,636.9 L1054.6,636.9 L1056.6,636.9 L1058.6,636.8 L1060.6,636.8 L1062.6,636.8 L1064.6,636.8 L1066.6,636.7 L1068.6,636.7 L1070.6,636.7 L1072.6,636.6 L1074.6,636.6 L1076.6,636.6 L1078.6,636.6 L1080.6,636.5 L1082.6,636.5 L1083.6,636.5" fill="none" stroke="#4b3d69" stroke-width="8.5" stroke-linejoin="round" stroke-linecap="round" stroke-opacity="0.28"/>
<path d="M186.0,804.8 L188.0,804.7 L190.0,804.6 L192.0,804.4 L194.0,804.3 L196.0,804.2 L198.0,804.1 L200.0,804.0 L202.0,803.8 L204.0,803.7 L206.0,803.6 L208.0,803.5 L210.0,803.3 L212.0,803.2 L213.9,803.1 L215.9,803.0 L217.9,802.8 L219.9,802.7 L221.9,802.6 L223.9,802.4 L225.9,802.3 L227.9,802.2 L229.9,802.0 L231.9,801.8 L233.9,801.7 L235.9,801.5 L237.9,801.4 L239.9,801.2 L241.9,801.0 L243.9,800.8 L245.9,800.6 L247.8,800.4 L249.8,800.2 L251.8,800.0 L253.8,799.8 L255.8,799.6 L257.8,799.4 L259.8,799.1 L261.7,798.8 L263.7,798.4 L265.6,797.9 L267.5,797.3 L269.5,796.8 L271.4,796.2 L273.3,795.6 L275.2,795.0 L277.0,794.2 L278.8,793.3 L280.5,792.4 L282.2,791.3 L283.9,790.3 L285.6,789.2 L287.3,788.1 L288.9,787.0 L290.6,785.8 L292.2,784.6 L293.7,783.3 L295.1,781.9 L296.4,780.4 L297.7,778.9 L299.0,777.3 L300.2,775.8 L301.4,774.2 L302.5,772.5 L303.5,770.8 L304.3,769.0 L305.1,767.1 L305.7,765.2 L306.4,763.4 L307.1,761.5 L307.8,759.6 L308.5,757.7 L309.2,755.9 L310.0,754.0 L310.8,752.2 L311.6,750.4 L312.4,748.5 L313.3,746.7 L314.1,744.9 L315.0,743.1 L315.9,741.3 L316.7,739.5 L317.6,737.7 L318.4,735.9 L319.3,734.1 L320.3,732.5 L321.7,731.2 L323.3,730.2 L325.1,729.6 L327.0,729.1 L329.0,728.5 L330.8,727.8 L332.6,727.0 L334.4,726.0 L336.0,724.9 L337.5,723.6 L338.8,722.1 L339.9,720.5 L340.9,718.8 L341.7,716.9 L342.3,715.1 L342.9,713.1 L343.4,711.2 L343.9,709.3 L344.5,707.4 L345.1,705.5 L345.9,703.6 L346.7,701.8 L347.5,699.9 L348.3,698.1 L349.1,696.3 L349.9,694.5 L350.7,692.6 L351.5,690.8 L352.4,689.0 L353.3,687.2 L354.3,685.5 L355.3,683.7 L356.3,682.0 L357.4,680.4 L358.4,678.6 L359.4,676.9 L360.4,675.2 L361.5,673.5 L362.5,671.8 L363.7,670.2 L364.9,668.6 L366.3,667.2 L367.8,665.8 L369.3,664.5 L370.9,663.3 L372.5,662.1 L374.1,661.0 L375.8,660.0 L377.6,659.0 L379.3,658.0 L381.1,657.1 L382.9,656.2 L384.7,655.4 L386.5,654.5 L388.4,653.8 L390.2,653.0 L392.1,652.3 L393.9,651.5 L395.8,650.8 L397.6,650.0 L399.5,649.2 L401.3,648.4 L403.2,647.6 L405.0,647.0 L406.9,646.3 L408.8,645.8 L410.8,645.2 L412.7,644.7 L414.6,644.2 L416.6,643.7 L418.5,643.2 L420.4,642.6 L422.3,642.1 L424.3,641.5 L426.2,641.0 L428.1,640.5 L430.1,640.1 L432.1,639.7 L434.0,639.3 L436.0,639.0 L438.0,638.6 L439.9,638.3 L441.9,637.9 L443.9,637.6 L445.8,637.3 L447.8,636.9 L449.8,636.6 L451.8,636.3 L453.7,636.0 L455.7,635.6 L457.7,635.3 L459.6,634.9 L461.6,634.6 L463.6,634.3 L465.6,634.0 L467.6,633.7 L469.5,633.5 L471.5,633.2 L473.5,632.9 L475.5,632.7 L477.5,632.4 L479.4,632.1 L481.4,631.9 L483.4,631.6 L485.4,631.3 L487.4,631.1 L489.4,630.8 L491.3,630.6 L493.3,630.3 L495.3,630.1 L497.3,629.9 L499.3,629.7 L501.3,629.5 L503.3,629.3 L505.3,629.2 L507.3,629.1 L509.3,629.0 L511.3,628.9 L513.3,628.8 L515.3,628.7 L517.3,628.7 L519.3,628.7 L521.3,628.7 L523.3,628.7 L525.3,628.7 L527.3,628.7 L529.3,628.8 L531.3,628.8 L533.3,628.9 L535.3,629.0 L537.2,629.2 L539.2,629.3 L541.2,629.4 L543.2,629.6 L545.2,629.8 L547.2,630.1 L549.2,630.3 L551.2,630.7 L553.1,631.0 L555.1,631.4 L557.1,631.8 L559.0,632.1 L561.0,632.5 L562.9,632.9 L564.9,633.3 L566.9,633.7 L568.8,634.0 L570.8,634.3 L572.8,634.6 L574.8,634.8 L576.8,635.1 L578.8,635.3 L580.8,635.4 L582.7,635.6 L584.7,635.8 L586.7,635.9 L588.7,636.0 L590.7,636.2 L592.7,636.3 L594.7,636.4 L596.7,636.5 L598.7,636.6 L600.7,636.7 L602.7,636.8 L604.7,636.8 L606.7,636.9 L608.7,637.0 L610.7,637.0 L612.7,637.1 L614.7,637.1 L616.7,637.2 L618.7,637.2 L620.7,637.3 L622.7,637.3 L624.7,637.3 L626.7,637.3 L628.7,637.3 L630.7,637.3 L632.7,637.3 L634.7,637.2 L636.7,637.2 L638.7,637.2 L640.7,637.1 L642.7,637.1 L644.7,637.0 L646.7,637.0 L648.7,636.9 L650.7,636.9 L652.7,636.8 L654.7,636.8 L656.7,636.7 L658.7,636.7 L660.7,636.6 L662.7,636.5 L664.7,636.4 L666.7,636.4 L668.7,636.3 L670.7,636.2 L672.7,636.1 L674.7,636.0 L676.7,635.9 L678.7,635.8 L680.7,635.7 L682.7,635.6 L684.7,635.5 L686.7,635.4 L688.7,635.3 L690.7,635.2 L692.7,635.1 L694.7,635.0 L696.7,634.9 L698.7,634.9 L700.6,634.8 L702.6,634.7 L704.6,634.7 L706.6,634.6 L708.6,634.6 L710.6,634.5 L712.6,634.5 L714.6,634.5 L716.6,634.5 L718.6,634.5 L720.6,634.5 L722.6,634.5 L724.6,634.5 L726.6,634.5 L728.6,634.6 L730.6,634.6 L732.6,634.6 L734.6,634.7 L736.6,634.7 L738.6,634.8 L740.6,634.8 L742.6,634.9 L744.6,634.9 L746.6,635.0 L748.6,635.1 L750.6,635.1 L752.6,635.2 L754.6,635.2 L756.6,635.3 L758.6,635.3 L760.6,635.4 L762.6,635.4 L764.6,635.5 L766.6,635.5 L768.6,635.6 L770.6,635.6 L772.6,635.7 L774.6,635.7 L776.6,635.8 L778.6,635.9 L780.6,635.9 L782.6,636.0 L784.6,636.0 L786.6,636.1 L788.6,636.2 L790.6,636.2 L792.6,636.3 L794.6,636.3 L796.6,636.4 L798.6,636.5 L800.6,636.5 L802.6,636.6 L804.6,636.6 L806.6,636.7 L808.6,636.7 L810.6,636.8 L812.6,636.9 L814.6,636.9 L816.6,637.0 L818.6,637.0 L820.6,637.1 L822.6,637.1 L824.6,637.2 L826.6,637.2 L828.6,637.3 L830.6,637.3 L832.6,637.3 L834.6,637.4 L836.6,637.4 L838.6,637.4 L840.6,637.5 L842.6,637.5 L844.6,637.5 L846.6,637.5 L848.6,637.6 L850.6,637.6 L852.6,637.6 L854.6,637.6 L856.6,637.6 L858.6,637.6 L860.6,637.6 L862.6,637.6 L864.6,637.6 L866.6,637.6 L868.6,637.6 L870.6,637.6 L872.6,637.6 L874.6,637.6 L876.6,637.6 L878.6,637.6 L880.6,637.6 L882.6,637.6 L884.6,637.6 L886.6,637.6 L888.6,637.6 L890.6,637.6 L892.6,637.6 L894.6,637.6 L896.6,637.6 L898.6,637.6 L900.6,637.6 L902.6,637.6 L904.6,637.6 L906.6,637.5 L908.6,637.5 L910.6,637.5 L912.6,637.5 L914.6,637.5 L916.6,637.5 L918.6,637.5 L920.6,637.5 L922.6,637.5 L924.6,637.5 L926.6,637.5 L928.6,637.5 L930.6,637.5 L932.6,637.5 L934.6,637.5 L936.6,637.5 L938.6,637.5 L940.6,637.5 L942.6,637.5 L944.6,637.5 L946.6,637.5 L948.6,637.5 L950.6,637.5 L952.6,637.5 L954.6,637.5 L956.6,637.5 L958.6,637.6 L960.6,637.6 L962.6,637.6 L964.6,637.6 L966.6,637.6 L968.6,637.6 L970.6,637.6 L972.6,637.6 L974.6,637.6 L976.6,637.6 L978.6,637.6 L980.6,637.6 L982.6,637.6 L984.6,637.6 L986.6,637.6 L988.6,637.6 L990.6,637.5 L992.6,637.5 L994.6,637.5 L996.6,637.5 L998.6,637.5 L1000.6,637.5 L1002.6,637.5 L1004.6,637.5 L1006.6,637.5 L1008.6,637.4 L1010.6,637.4 L1012.6,637.4 L1014.6,637.4 L1016.6,637.4 L1018.6,637.3 L1020.6,637.3 L1022.6,637.3 L1024.6,637.3 L1026.6,637.2 L1028.6,637.2 L1030.6,637.2 L1032.6,637.2 L1034.6,637.2 L1036.6,637.1 L1038.6,637.1 L1040.6,637.1 L1042.6,637.1 L1044.6,637.0 L1046.6,637.0 L1048.6,637.0 L1050.6,636.9 L1052.6,636.9 L1054.6,636.9 L1056.6,636.9 L1058.6,636.8 L1060.6,636.8 L1062.6,636.8 L1064.6,636.8 L1066.6,636.7 L1068.6,636.7 L1070.6,636.7 L1072.6,636.6 L1074.6,636.6 L1076.6,636.6 L1078.6,636.6 L1080.6,636.5 L1082.6,636.5 L1083.6,636.5" fill="none" stroke="#4b3d69" stroke-width="4.0" stroke-linejoin="round" stroke-linecap="round"/>
<path d="M186.0,975.8 L187.0,975.8 L188.0,975.7 L189.0,975.7 L190.0,975.7 L191.0,975.7 L192.0,975.6 L193.0,975.6 L194.0,975.6 L195.0,975.6 L196.0,975.5 L197.0,975.5 L198.0,975.5 L199.0,975.5 L200.0,975.4 L201.0,975.4 L202.0,975.4 L203.0,975.3 L204.0,975.3 L205.0,975.3 L206.0,975.3 L207.0,975.2 L208.0,975.2 L209.0,975.2 L210.0,975.2 L211.0,975.1 L212.0,975.1 L213.0,975.1 L214.0,975.0 L215.0,975.0 L216.0,975.0 L217.0,975.0 L218.0,974.9 L219.0,974.9 L220.0,974.9 L221.0,974.9 L222.0,974.8 L223.0,974.8 L224.0,974.8 L225.0,974.7 L226.0,974.7 L227.0,974.7 L228.0,974.7 L229.0,974.6 L230.0,974.6 L231.0,974.6 L232.0,974.5 L233.0,974.5 L234.0,974.5 L235.0,974.4 L236.0,974.4 L237.0,974.4 L238.0,974.4 L239.0,974.3 L240.0,974.3 L241.0,974.3 L242.0,974.2 L243.0,974.2 L244.0,974.2 L245.0,974.1 L246.0,974.1 L247.0,974.1 L248.0,974.0 L249.0,974.0 L250.0,973.9 L251.0,973.9 L252.0,973.9 L253.0,973.8 L254.0,973.8 L255.0,973.8 L256.0,973.7 L257.0,973.7 L258.0,973.7 L259.0,973.6 L260.0,973.6 L261.0,973.6 L262.0,973.5 L263.0,973.5 L264.0,973.5 L265.0,973.4 L266.0,973.4 L267.0,973.4 L268.0,973.3 L269.0,973.3 L270.0,973.3 L271.0,973.2 L272.0,973.2 L273.0,973.2 L274.0,973.1 L275.0,973.1 L276.0,973.1 L277.0,973.0 L278.0,973.0 L279.0,972.9 L280.0,972.9 L281.0,972.9 L282.0,972.8 L283.0,972.8 L283.9,972.7 L284.9,972.7 L285.9,972.6 L286.9,972.5 L287.9,972.5 L288.9,972.4 L289.9,972.3 L290.9,972.2 L291.9,972.1 L292.9,972.0 L293.9,971.9 L294.9,971.8 L295.9,971.7 L296.9,971.6 L297.9,971.5 L298.9,971.4 L299.9,971.2 L300.9,971.1 L301.9,970.9 L302.8,970.8 L303.8,970.6 L304.8,970.4 L305.8,970.3 L306.8,970.1 L307.8,969.9 L308.7,969.7 L309.7,969.5 L310.7,969.2 L311.6,969.0 L312.6,968.7 L313.5,968.4 L314.5,968.0 L315.3,967.6 L316.2,967.1 L317.1,966.6 L317.9,966.0 L318.7,965.4 L319.5,964.8 L320.2,964.2 L321.0,963.5 L321.8,962.9 L322.5,962.2 L323.3,961.6 L324.0,960.9 L324.8,960.3 L325.6,959.6 L326.3,959.0 L327.1,958.3 L327.8,957.6 L328.5,957.0 L329.3,956.3 L330.0,955.6 L330.7,954.9 L331.4,954.2 L332.1,953.5 L332.8,952.8 L333.5,952.0 L334.1,951.3 L334.7,950.5 L335.3,949.6 L335.8,948.8 L336.3,947.9 L336.8,947.1 L337.2,946.2 L337.6,945.3 L338.0,944.3 L338.3,943.4 L338.6,942.4 L338.9,941.5 L339.2,940.5 L339.5,939.6 L339.8,938.6 L340.1,937.7 L340.4,936.7 L340.7,935.8 L341.0,934.8 L341.3,933.8 L341.6,932.9 L341.9,931.9 L342.2,931.0 L342.5,930.0 L342.9,929.1 L343.2,928.2 L343.5,927.2 L343.9,926.3 L344.2,925.3 L344.6,924.4 L344.9,923.5 L345.3,922.5 L345.7,921.6 L346.0,920.7 L346.4,919.8 L346.8,918.8 L347.1,917.9 L347.4,916.9 L347.8,916.0 L348.1,915.0 L348.4,914.1 L348.7,913.2 L349.1,912.2 L349.4,911.3 L349.7,910.3 L350.0,909.4 L350.3,908.4 L350.6,907.5 L350.9,906.5 L351.2,905.6 L351.5,904.6 L351.8,903.6 L352.1,902.7 L352.4,901.7 L352.8,900.8 L353.1,899.9 L353.5,898.9 L353.8,898.0 L354.2,897.1 L354.6,896.1 L355.0,895.2 L355.4,894.3 L355.9,893.4 L356.3,892.5 L356.7,891.6 L357.2,890.7 L357.6,889.8 L358.0,888.9 L358.5,888.0 L358.9,887.1 L359.3,886.2 L359.8,885.3 L360.2,884.4 L360.7,883.5 L361.1,882.6 L361.5,881.7 L362.0,880.8 L362.4,879.9 L362.8,879.0 L363.3,878.1 L363.7,877.2 L364.1,876.3 L364.5,875.4 L365.0,874.5 L365.4,873.6 L365.8,872.7 L366.2,871.8 L366.6,870.9 L367.0,869.9 L367.4,869.0 L367.8,868.1 L368.3,867.2 L368.7,866.3 L369.2,865.4 L369.7,864.6 L370.2,863.7 L370.7,862.8 L371.2,862.0 L371.7,861.1 L372.2,860.3 L372.8,859.5 L373.4,858.6 L373.9,857.8 L374.5,857.0 L375.1,856.2 L375.6,855.4 L376.2,854.5 L376.8,853.7 L377.4,852.9 L378.0,852.1 L378.6,851.4 L379.3,850.6 L379.9,849.8 L380.6,849.1 L381.3,848.4 L382.0,847.7 L382.8,847.1 L383.6,846.5 L384.4,846.0 L385.3,845.4 L386.1,844.9 L387.0,844.4 L387.9,843.9 L388.7,843.4 L389.6,842.9 L390.4,842.3 L391.2,841.8 L392.1,841.2 L392.9,840.6 L393.7,840.1 L394.5,839.5 L395.3,838.9 L396.1,838.3 L396.9,837.6 L397.6,837.0 L398.4,836.4 L399.2,835.7 L399.9,835.0 L400.6,834.4 L401.4,833.7 L402.1,833.0 L402.9,832.3 L403.6,831.7 L404.3,831.0 L405.1,830.3 L405.9,829.7 L406.6,829.1 L407.4,828.4 L408.2,827.8 L409.0,827.2 L409.7,826.5 L410.5,825.9 L411.3,825.3 L412.1,824.7 L412.9,824.1 L413.7,823.4 L414.4,822.8 L415.2,822.2 L416.0,821.5 L416.8,820.9 L417.5,820.3 L418.3,819.7 L419.1,819.0 L419.9,818.4 L420.7,817.8 L421.5,817.2 L422.3,816.6 L423.1,816.1 L423.9,815.5 L424.8,815.0 L425.6,814.4 L426.5,813.9 L427.3,813.4 L428.2,812.9 L429.1,812.5 L430.0,812.0 L430.9,811.6 L431.8,811.2 L432.8,810.9 L433.7,810.5 L434.6,810.2 L435.6,809.9 L436.5,809.6 L437.5,809.3 L438.5,809.0 L439.4,808.7 L440.4,808.3 L441.3,807.9 L442.2,807.4 L443.2,807.1 L444.1,806.9 L445.1,806.9 L446.0,807.0 L447.0,806.6 L448.0,806.2 L448.9,805.7 L449.9,805.3 L450.9,805.0 L451.9,804.8 L452.9,804.5 L453.9,804.4 L454.9,804.4 L455.9,804.4 L456.8,804.6 L457.8,805.1 L458.8,805.7 L459.8,806.2 L460.8,805.8 L461.8,805.2 L462.8,804.7 L463.8,804.3 L464.8,804.3 L465.8,804.4 L466.8,804.5 L467.8,804.5 L468.8,804.6 L469.8,804.6 L470.8,804.8 L471.8,805.0 L472.7,805.3 L473.7,805.6 L474.6,806.0 L475.5,806.4 L476.5,806.7 L477.4,807.2 L478.3,807.2 L479.2,807.1 L480.1,807.0 L481.0,807.0 L482.0,807.5 L482.9,808.1 L483.8,808.6 L484.7,809.1 L485.6,809.4 L486.5,809.7 L487.4,810.0 L488.3,810.4 L489.1,810.9 L490.0,811.4 L490.9,811.9 L491.7,812.5 L492.6,813.5 L493.4,814.5 L494.3,815.5 L495.1,816.4 L495.9,816.5 L496.8,816.6 L497.6,816.7 L498.5,816.8 L499.4,817.3 L500.3,817.8 L501.3,818.2 L502.2,818.4 L503.2,818.4 L504.2,818.3 L505.2,818.1 L506.2,818.0 L507.1,817.9 L508.1,817.7 L509.0,817.5 L510.0,817.5 L510.8,817.4 L511.7,817.2 L512.5,817.0 L513.2,816.1 L513.9,815.2 L514.6,814.2 L515.3,813.2 L516.0,812.3 L516.7,811.6 L517.5,810.9 L518.3,810.3 L519.1,809.8 L519.9,809.4 L520.8,809.2 L521.7,809.0 L522.6,808.9 L523.6,808.7 L524.5,808.4 L525.5,808.2 L526.5,808.0 L527.5,807.9 L528.4,807.8 L529.4,807.7 L530.4,807.5 L531.4,807.2 L532.4,806.9 L533.4,806.7 L534.4,806.1 L535.4,805.5 L536.4,804.9 L537.4,804.8 L538.4,805.4 L539.4,806.1 L540.4,806.7 L541.4,806.8 L542.4,806.7 L543.4,806.7 L544.4,806.7 L545.4,806.8 L546.4,806.9 L547.4,807.1 L548.4,806.6 L549.4,806.1 L550.4,805.6 L551.4,805.6 L552.4,806.6 L553.4,807.5 L554.4,808.5 L555.4,807.7 L556.4,806.6 L557.4,805.5 L558.4,805.1 L559.4,805.7 L560.4,806.2 L561.4,806.8 L562.4,806.6 L563.4,806.4 L564.4,806.2 L565.4,806.0 L566.4,805.8 L567.4,805.6 L568.4,805.4 L569.4,805.6 L570.4,805.9 L571.4,806.2 L572.4,806.3 L573.4,806.0 L574.4,805.6 L575.4,805.3 L576.4,804.7 L577.4,804.1 L578.4,803.5 L579.4,803.3 L580.4,803.6 L581.4,804.0 L582.4,804.3 L583.4,804.8 L584.4,805.2 L585.4,805.7 L586.4,806.2 L587.4,806.7 L588.4,807.3 L589.4,807.8 L590.4,807.0 L591.4,805.9 L592.4,804.9 L593.4,804.4 L594.4,804.8 L595.4,805.2 L596.4,805.7 L597.4,806.1 L598.4,806.6 L599.4,807.0 L600.4,807.2 L601.4,807.0 L602.4,806.8 L603.4,806.6 L604.4,806.3 L605.4,806.0 L606.4,805.8 L607.4,805.5 L608.4,805.2 L609.4,805.0 L610.4,804.7 L611.4,804.6 L612.4,804.5 L613.4,804.4 L614.4,804.5 L615.4,804.8 L616.4,805.1 L617.4,805.4 L618.4,805.6 L619.4,805.7 L620.4,805.9 L621.4,805.8 L622.4,805.2 L623.4,804.7 L624.4,804.2 L625.4,804.3 L626.4,804.5 L627.4,804.6 L628.4,805.0 L629.4,805.6 L630.4,806.1 L631.4,806.7 L632.4,806.7 L633.4,806.5 L634.4,806.3 L635.4,806.1 L636.4,806.1 L637.4,806.0 L638.4,805.9 L639.4,806.0 L640.4,806.1 L641.4,806.2 L642.4,806.3 L643.4,806.2 L644.4,806.1 L645.4,806.0 L646.4,806.4 L647.4,806.9 L648.4,807.4 L649.4,807.8 L650.4,808.1 L651.4,808.3 L652.4,808.5 L653.4,808.7 L654.4,808.8 L655.4,808.9 L656.4,808.9 L657.4,808.5 L658.4,808.2 L659.4,807.8 L660.4,807.8 L661.4,807.8 L662.4,807.8 L663.4,807.9 L664.4,808.1 L665.4,808.4 L666.4,808.6 L667.4,808.7 L668.4,808.8 L669.4,808.9 L670.4,808.9 L671.4,808.9 L672.4,808.8 L673.3,808.8 L674.3,808.7 L675.3,808.7 L676.3,808.6 L677.3,808.4 L678.3,807.9 L679.3,807.4 L680.3,806.9 L681.3,806.6 L682.3,806.3 L683.3,806.1 L684.3,806.1 L685.3,806.9 L686.3,807.6 L687.3,808.3 L688.3,808.2 L689.3,808.0 L690.3,807.7 L691.3,807.5 L692.3,807.6 L693.3,807.6 L694.3,807.6 L695.3,807.5 L696.3,807.3 L697.3,807.0 L698.3,806.9 L699.3,806.8 L700.3,806.7 L701.3,806.6 L702.3,807.2 L703.3,808.0 L704.3,808.8 L705.3,809.3 L706.3,809.0 L707.3,808.8 L708.3,808.5 L709.3,808.1 L710.3,807.7 L711.3,807.3 L712.3,807.2 L713.3,807.6 L714.3,808.1 L715.3,808.5 L716.3,808.6 L717.3,808.6 L718.3,808.6 L719.3,808.6 L720.3,808.7 L721.3,808.8 L722.3,808.9 L723.3,809.3 L724.3,809.8 L725.3,810.3 L726.3,810.5 L727.3,809.8 L728.3,809.2 L729.3,808.6 L730.3,808.2 L731.3,807.9 L732.3,807.5 L733.3,807.4 L734.3,807.8 L735.3,808.2 L736.3,808.6 L737.3,808.5 L738.3,808.4 L739.3,808.2 L740.3,808.2 L741.3,808.5 L742.3,808.9 L743.3,809.3 L744.3,809.3 L745.3,809.2 L746.3,809.1 L747.3,809.1 L748.3,809.1 L749.3,809.2 L750.3,809.2 L751.3,809.0 L752.3,808.8 L753.3,808.5 L754.3,808.5 L755.3,808.8 L756.3,809.0 L757.3,809.3 L758.3,809.2 L759.3,808.9 L760.3,808.7 L761.3,808.6 L762.3,808.9 L763.3,809.2 L764.3,809.5 L765.3,809.4 L766.3,809.1 L767.3,808.9 L768.3,808.7 L769.3,808.5 L770.3,808.2 L771.3,808.0 L772.3,808.4 L773.3,808.8 L774.3,809.3 L775.3,809.5 L776.3,809.2 L777.3,808.8 L778.3,808.5 L779.3,808.9 L780.3,809.6 L781.3,810.2 L782.3,810.5 L783.3,810.2 L784.3,809.9 L785.3,809.6 L786.3,809.6 L787.3,809.6 L788.3,809.6 L789.3,809.6 L790.3,809.5 L791.3,809.4 L792.3,809.3 L793.3,809.2 L794.3,809.2 L795.3,809.1 L796.3,808.9 L797.3,808.2 L798.3,807.6 L799.3,806.9 L800.3,807.7 L801.3,808.7 L802.3,809.7 L803.3,810.2 L804.3,809.6 L805.3,809.0 L806.3,808.5 L807.3,808.8 L808.3,809.3 L809.3,809.8 L810.3,810.0 L811.3,809.5 L812.3,809.1 L813.3,808.6 L814.3,808.6 L815.3,808.8 L816.3,808.9 L817.3,809.0 L818.3,809.0 L819.3,809.0 L820.3,808.9 L821.3,808.7 L822.3,808.5 L823.3,808.3 L824.3,808.2 L825.3,808.4 L826.3,808.7 L827.3,808.9 L828.3,809.1 L829.3,809.3 L830.3,809.5 L831.3,809.5 L832.3,809.2 L833.3,809.0 L834.3,808.7 L835.3,808.4 L836.3,808.2 L837.3,807.9 L838.3,807.8 L839.3,808.0 L840.3,808.2 L841.3,808.4 L842.3,808.6 L843.3,808.8 L844.3,809.1 L845.3,809.3 L846.3,809.5 L847.3,809.8 L848.3,810.0 L849.3,810.0 L850.3,809.9 L851.3,809.8 L852.3,809.6 L853.3,809.5 L854.3,809.3 L855.3,809.1 L856.3,808.8 L857.3,808.4 L858.3,808.0 L859.3,807.9 L860.3,808.4 L861.3,808.9 L862.3,809.5 L863.3,809.3 L864.3,809.0 L865.3,808.8 L866.3,808.5 L867.3,808.4 L868.3,808.3 L869.3,808.2 L870.3,808.5 L871.3,808.8 L872.3,809.0 L873.3,809.2 L874.3,809.1 L875.3,809.0 L876.3,808.9 L877.3,808.8 L878.3,808.7 L879.3,808.7 L880.3,808.5 L881.3,808.0 L882.3,807.4 L883.3,806.9 L884.3,807.0 L885.3,807.1 L886.3,807.2 L887.3,807.2 L888.3,806.8 L889.3,806.5 L890.3,806.2 L891.3,806.5 L892.3,807.0 L893.3,807.5 L894.3,807.9 L895.3,807.8 L896.3,807.7 L897.3,807.7 L898.3,807.8 L899.3,808.1 L900.3,808.3 L901.3,808.4 L902.3,808.2 L903.3,807.9 L904.3,807.7 L905.3,807.5 L906.3,807.3 L907.3,807.1 L908.3,807.2 L909.3,807.9 L910.3,808.6 L911.3,809.2 L912.3,808.6 L913.3,807.7 L914.3,806.8 L915.3,806.1 L916.3,806.0 L917.3,805.9 L918.3,805.8 L919.3,805.9 L920.3,806.1 L921.3,806.2 L922.3,806.5 L923.3,806.8 L924.3,807.0 L925.3,807.3 L926.3,807.2 L927.3,806.9 L928.3,806.6 L929.3,806.4 L930.3,806.4 L931.3,806.3 L932.3,806.3 L933.3,806.1 L934.3,805.9 L935.3,805.7 L936.3,805.7 L937.3,806.5 L938.3,807.2 L939.3,807.9 L940.3,807.6 L941.3,807.0 L942.3,806.4 L943.3,805.9 L944.3,805.7 L945.3,805.6 L946.3,805.5 L947.3,805.6 L948.3,805.9 L949.3,806.2 L950.3,806.3 L951.3,806.1 L952.3,805.9 L953.3,805.7 L954.3,805.8 L955.3,806.0 L956.3,806.2 L957.3,806.5 L958.3,806.9 L959.3,807.4 L960.3,807.9 L961.3,807.6 L962.3,807.1 L963.3,806.6 L964.3,806.3 L965.3,806.5 L966.3,806.6 L967.3,806.8 L968.3,806.8 L969.3,806.7 L970.3,806.7 L971.3,806.7 L972.3,806.8 L973.3,806.9 L974.3,806.9 L975.3,807.2 L976.3,807.6 L977.3,807.9 L978.3,808.1 L979.3,808.1 L980.3,808.1 L981.3,808.0 L982.3,807.9 L983.3,807.7 L984.3,807.5 L985.3,807.3 L986.3,807.2 L987.3,807.0 L988.3,806.9 L989.3,807.1 L990.3,807.3 L991.3,807.6 L992.3,807.9 L993.3,808.2 L994.3,808.5 L995.3,808.8 L996.3,808.7 L997.3,808.5 L998.3,808.2 L999.3,808.0 L1000.3,808.0 L1001.3,807.9 L1002.3,807.8 L1003.3,807.4 L1004.2,806.8 L1005.2,806.2 L1006.2,805.8 L1007.1,806.3 L1008.0,806.6 L1008.9,806.9 L1009.7,806.8 L1010.5,805.7 L1011.3,804.6 L1012.2,803.5 L1013.0,802.6 L1014.0,802.4 L1014.9,802.3 L1015.9,802.3 L1016.9,802.4 L1017.8,802.7 L1018.8,803.1 L1019.8,803.5 L1020.8,803.7 L1021.8,804.0 L1022.8,804.2 L1023.8,804.5 L1024.8,804.6 L1025.8,804.8 L1026.8,804.9 L1027.8,804.8 L1028.7,804.7 L1029.7,804.6 L1030.7,804.5 L1031.7,804.7 L1032.7,804.9 L1033.7,805.1 L1034.7,805.1 L1035.7,805.0 L1036.7,804.9 L1037.7,804.8 L1038.7,804.5 L1039.7,804.1 L1040.7,803.8 L1041.7,804.0 L1042.7,804.5 L1043.7,804.9 L1044.7,805.2 L1045.7,805.0 L1046.7,804.9 L1047.7,804.8 L1048.7,804.9 L1049.7,805.2 L1050.7,805.5 L1051.7,805.7 L1052.7,805.6 L1053.7,805.4 L1054.7,805.2 L1055.7,805.3 L1056.7,805.6 L1057.7,805.9 L1058.7,806.1 L1059.7,806.0 L1060.7,805.9 L1061.7,805.8 L1062.7,805.8 L1063.7,805.9 L1064.7,805.9 L1065.7,805.9 L1066.7,806.0 L1067.7,806.0 L1068.7,806.1 L1069.7,806.0 L1070.7,805.8 L1071.7,805.6 L1072.7,805.4 L1073.7,805.2 L1074.7,804.9 L1075.7,804.6 L1076.7,804.8 L1077.7,805.2 L1078.7,805.7 L1079.7,805.8 L1080.7,805.1 L1081.7,804.5 L1082.7,803.8 L1083.7,803.8 L1083.7,803.8" fill="none" stroke="#2c4a30" stroke-width="8.5" stroke-linejoin="round" stroke-linecap="round" stroke-opacity="0.28"/>
<path d="M186.0,975.8 L187.0,975.8 L188.0,975.7 L189.0,975.7 L190.0,975.7 L191.0,975.7 L192.0,975.6 L193.0,975.6 L194.0,975.6 L195.0,975.6 L196.0,975.5 L197.0,975.5 L198.0,975.5 L199.0,975.5 L200.0,975.4 L201.0,975.4 L202.0,975.4 L203.0,975.3 L204.0,975.3 L205.0,975.3 L206.0,975.3 L207.0,975.2 L208.0,975.2 L209.0,975.2 L210.0,975.2 L211.0,975.1 L212.0,975.1 L213.0,975.1 L214.0,975.0 L215.0,975.0 L216.0,975.0 L217.0,975.0 L218.0,974.9 L219.0,974.9 L220.0,974.9 L221.0,974.9 L222.0,974.8 L223.0,974.8 L224.0,974.8 L225.0,974.7 L226.0,974.7 L227.0,974.7 L228.0,974.7 L229.0,974.6 L230.0,974.6 L231.0,974.6 L232.0,974.5 L233.0,974.5 L234.0,974.5 L235.0,974.4 L236.0,974.4 L237.0,974.4 L238.0,974.4 L239.0,974.3 L240.0,974.3 L241.0,974.3 L242.0,974.2 L243.0,974.2 L244.0,974.2 L245.0,974.1 L246.0,974.1 L247.0,974.1 L248.0,974.0 L249.0,974.0 L250.0,973.9 L251.0,973.9 L252.0,973.9 L253.0,973.8 L254.0,973.8 L255.0,973.8 L256.0,973.7 L257.0,973.7 L258.0,973.7 L259.0,973.6 L260.0,973.6 L261.0,973.6 L262.0,973.5 L263.0,973.5 L264.0,973.5 L265.0,973.4 L266.0,973.4 L267.0,973.4 L268.0,973.3 L269.0,973.3 L270.0,973.3 L271.0,973.2 L272.0,973.2 L273.0,973.2 L274.0,973.1 L275.0,973.1 L276.0,973.1 L277.0,973.0 L278.0,973.0 L279.0,972.9 L280.0,972.9 L281.0,972.9 L282.0,972.8 L283.0,972.8 L283.9,972.7 L284.9,972.7 L285.9,972.6 L286.9,972.5 L287.9,972.5 L288.9,972.4 L289.9,972.3 L290.9,972.2 L291.9,972.1 L292.9,972.0 L293.9,971.9 L294.9,971.8 L295.9,971.7 L296.9,971.6 L297.9,971.5 L298.9,971.4 L299.9,971.2 L300.9,971.1 L301.9,970.9 L302.8,970.8 L303.8,970.6 L304.8,970.4 L305.8,970.3 L306.8,970.1 L307.8,969.9 L308.7,969.7 L309.7,969.5 L310.7,969.2 L311.6,969.0 L312.6,968.7 L313.5,968.4 L314.5,968.0 L315.3,967.6 L316.2,967.1 L317.1,966.6 L317.9,966.0 L318.7,965.4 L319.5,964.8 L320.2,964.2 L321.0,963.5 L321.8,962.9 L322.5,962.2 L323.3,961.6 L324.0,960.9 L324.8,960.3 L325.6,959.6 L326.3,959.0 L327.1,958.3 L327.8,957.6 L328.5,957.0 L329.3,956.3 L330.0,955.6 L330.7,954.9 L331.4,954.2 L332.1,953.5 L332.8,952.8 L333.5,952.0 L334.1,951.3 L334.7,950.5 L335.3,949.6 L335.8,948.8 L336.3,947.9 L336.8,947.1 L337.2,946.2 L337.6,945.3 L338.0,944.3 L338.3,943.4 L338.6,942.4 L338.9,941.5 L339.2,940.5 L339.5,939.6 L339.8,938.6 L340.1,937.7 L340.4,936.7 L340.7,935.8 L341.0,934.8 L341.3,933.8 L341.6,932.9 L341.9,931.9 L342.2,931.0 L342.5,930.0 L342.9,929.1 L343.2,928.2 L343.5,927.2 L343.9,926.3 L344.2,925.3 L344.6,924.4 L344.9,923.5 L345.3,922.5 L345.7,921.6 L346.0,920.7 L346.4,919.8 L346.8,918.8 L347.1,917.9 L347.4,916.9 L347.8,916.0 L348.1,915.0 L348.4,914.1 L348.7,913.2 L349.1,912.2 L349.4,911.3 L349.7,910.3 L350.0,909.4 L350.3,908.4 L350.6,907.5 L350.9,906.5 L351.2,905.6 L351.5,904.6 L351.8,903.6 L352.1,902.7 L352.4,901.7 L352.8,900.8 L353.1,899.9 L353.5,898.9 L353.8,898.0 L354.2,897.1 L354.6,896.1 L355.0,895.2 L355.4,894.3 L355.9,893.4 L356.3,892.5 L356.7,891.6 L357.2,890.7 L357.6,889.8 L358.0,888.9 L358.5,888.0 L358.9,887.1 L359.3,886.2 L359.8,885.3 L360.2,884.4 L360.7,883.5 L361.1,882.6 L361.5,881.7 L362.0,880.8 L362.4,879.9 L362.8,879.0 L363.3,878.1 L363.7,877.2 L364.1,876.3 L364.5,875.4 L365.0,874.5 L365.4,873.6 L365.8,872.7 L366.2,871.8 L366.6,870.9 L367.0,869.9 L367.4,869.0 L367.8,868.1 L368.3,867.2 L368.7,866.3 L369.2,865.4 L369.7,864.6 L370.2,863.7 L370.7,862.8 L371.2,862.0 L371.7,861.1 L372.2,860.3 L372.8,859.5 L373.4,858.6 L373.9,857.8 L374.5,857.0 L375.1,856.2 L375.6,855.4 L376.2,854.5 L376.8,853.7 L377.4,852.9 L378.0,852.1 L378.6,851.4 L379.3,850.6 L379.9,849.8 L380.6,849.1 L381.3,848.4 L382.0,847.7 L382.8,847.1 L383.6,846.5 L384.4,846.0 L385.3,845.4 L386.1,844.9 L387.0,844.4 L387.9,843.9 L388.7,843.4 L389.6,842.9 L390.4,842.3 L391.2,841.8 L392.1,841.2 L392.9,840.6 L393.7,840.1 L394.5,839.5 L395.3,838.9 L396.1,838.3 L396.9,837.6 L397.6,837.0 L398.4,836.4 L399.2,835.7 L399.9,835.0 L400.6,834.4 L401.4,833.7 L402.1,833.0 L402.9,832.3 L403.6,831.7 L404.3,831.0 L405.1,830.3 L405.9,829.7 L406.6,829.1 L407.4,828.4 L408.2,827.8 L409.0,827.2 L409.7,826.5 L410.5,825.9 L411.3,825.3 L412.1,824.7 L412.9,824.1 L413.7,823.4 L414.4,822.8 L415.2,822.2 L416.0,821.5 L416.8,820.9 L417.5,820.3 L418.3,819.7 L419.1,819.0 L419.9,818.4 L420.7,817.8 L421.5,817.2 L422.3,816.6 L423.1,816.1 L423.9,815.5 L424.8,815.0 L425.6,814.4 L426.5,813.9 L427.3,813.4 L428.2,812.9 L429.1,812.5 L430.0,812.0 L430.9,811.6 L431.8,811.2 L432.8,810.9 L433.7,810.5 L434.6,810.2 L435.6,809.9 L436.5,809.6 L437.5,809.3 L438.5,809.0 L439.4,808.7 L440.4,808.3 L441.3,807.9 L442.2,807.4 L443.2,807.0 L444.1,806.7 L445.1,806.5 L446.0,806.4 L447.0,806.2 L448.0,806.2 L448.9,806.2 L449.9,806.1 L450.9,805.9 L451.9,805.7 L452.9,805.4 L453.9,805.2 L454.9,805.0 L455.9,804.8 L456.8,804.7 L457.8,804.7 L458.8,804.8 L459.8,804.8 L460.8,804.6 L461.8,804.4 L462.8,804.2 L463.8,804.0 L464.8,803.6 L465.8,803.2 L466.8,802.8 L467.8,803.0 L468.8,803.4 L469.8,803.9 L470.8,804.3 L471.8,804.5 L472.7,804.8 L473.7,805.1 L474.6,805.7 L475.5,806.4 L476.5,807.2 L477.4,808.0 L478.3,808.0 L479.2,807.9 L480.1,807.8 L481.0,807.7 L482.0,807.9 L482.9,808.0 L483.8,808.1 L484.7,808.4 L485.6,809.4 L486.5,810.4 L487.4,811.4 L488.3,812.3 L489.1,812.6 L490.0,813.0 L490.9,813.4 L491.7,813.8 L492.6,814.0 L493.4,814.2 L494.3,814.4 L495.1,814.7 L495.9,815.1 L496.8,815.4 L497.6,815.8 L498.5,816.1 L499.4,817.2 L500.3,818.3 L501.3,819.3 L502.2,819.9 L503.2,819.1 L504.2,818.2 L505.2,817.3 L506.2,817.2 L507.1,817.3 L508.1,817.4 L509.0,817.4 L510.0,817.3 L510.8,817.1 L511.7,816.8 L512.5,816.5 L513.2,815.6 L513.9,814.6 L514.6,813.6 L515.3,812.7 L516.0,811.7 L516.7,811.2 L517.5,810.7 L518.3,810.3 L519.1,809.9 L519.9,809.6 L520.8,809.4 L521.7,809.1 L522.6,809.0 L523.6,808.6 L524.5,808.0 L525.5,807.5 L526.5,807.1 L527.5,806.6 L528.4,806.2 L529.4,805.8 L530.4,805.6 L531.4,805.7 L532.4,805.8 L533.4,805.9 L534.4,805.9 L535.4,806.0 L536.4,806.1 L537.4,806.3 L538.4,806.6 L539.4,806.9 L540.4,807.3 L541.4,806.8 L542.4,806.1 L543.4,805.5 L544.4,805.4 L545.4,806.1 L546.4,806.8 L547.4,807.5 L548.4,807.0 L549.4,806.3 L550.4,805.6 L551.4,805.5 L552.4,806.1 L553.4,806.8 L554.4,807.4 L555.4,807.7 L556.4,807.9 L557.4,808.2 L558.4,808.2 L559.4,807.9 L560.4,807.7 L561.4,807.4 L562.4,807.0 L563.4,806.6 L564.4,806.1 L565.4,806.0 L566.4,806.5 L567.4,807.0 L568.4,807.4 L569.4,807.3 L570.4,807.1 L571.4,806.9 L572.4,806.7 L573.4,806.5 L574.4,806.3 L575.4,806.0 L576.4,805.8 L577.4,805.6 L578.4,805.4 L579.4,805.3 L580.4,805.3 L581.4,805.2 L582.4,805.1 L583.4,805.2 L584.4,805.3 L585.4,805.4 L586.4,805.7 L587.4,806.4 L588.4,807.2 L589.4,807.9 L590.4,807.5 L591.4,807.0 L592.4,806.5 L593.4,806.2 L594.4,806.2 L595.4,806.2 L596.4,806.2 L597.4,806.0 L598.4,805.8 L599.4,805.5 L600.4,805.5 L601.4,805.7 L602.4,806.0 L603.4,806.2 L604.4,806.1 L605.4,806.0 L606.4,805.8 L607.4,805.7 L608.4,805.6 L609.4,805.5 L610.4,805.4 L611.4,805.6 L612.4,805.8 L613.4,806.1 L614.4,806.2 L615.4,806.1 L616.4,805.9 L617.4,805.8 L618.4,805.9 L619.4,806.1 L620.4,806.3 L621.4,806.4 L622.4,806.4 L623.4,806.3 L624.4,806.3 L625.4,806.1 L626.4,806.0 L627.4,805.8 L628.4,805.9 L629.4,806.2 L630.4,806.6 L631.4,807.0 L632.4,807.1 L633.4,807.1 L634.4,807.1 L635.4,806.8 L636.4,805.9 L637.4,804.9 L638.4,804.0 L639.4,804.5 L640.4,805.2 L641.4,806.0 L642.4,806.5 L643.4,806.5 L644.4,806.6 L645.4,806.6 L646.4,806.6 L647.4,806.6 L648.4,806.6 L649.4,806.7 L650.4,807.2 L651.4,807.7 L652.4,808.1 L653.4,807.9 L654.4,807.6 L655.4,807.3 L656.4,807.0 L657.4,806.9 L658.4,806.8 L659.4,806.6 L660.4,806.5 L661.4,806.5 L662.4,806.4 L663.4,806.5 L664.4,806.9 L665.4,807.3 L666.4,807.7 L667.4,807.3 L668.4,806.6 L669.4,806.0 L670.4,805.7 L671.4,806.1 L672.4,806.5 L673.3,806.9 L674.3,806.9 L675.3,806.8 L676.3,806.8 L677.3,806.8 L678.3,806.8 L679.3,806.9 L680.3,807.0 L681.3,807.1 L682.3,807.1 L683.3,807.1 L684.3,807.1 L685.3,806.9 L686.3,806.6 L687.3,806.4 L688.3,806.4 L689.3,806.4 L690.3,806.4 L691.3,806.6 L692.3,806.9 L693.3,807.3 L694.3,807.6 L695.3,807.5 L696.3,807.3 L697.3,807.1 L698.3,807.2 L699.3,807.8 L700.3,808.5 L701.3,809.2 L702.3,809.0 L703.3,808.8 L704.3,808.5 L705.3,808.1 L706.3,807.8 L707.3,807.4 L708.3,807.0 L709.3,807.3 L710.3,807.8 L711.3,808.3 L712.3,808.6 L713.3,808.4 L714.3,808.2 L715.3,808.0 L716.3,808.1 L717.3,808.3 L718.3,808.4 L719.3,808.6 L720.3,809.0 L721.3,809.4 L722.3,809.8 L723.3,809.8 L724.3,809.6 L725.3,809.5 L726.3,809.2 L727.3,808.7 L728.3,808.2 L729.3,807.7 L730.3,807.9 L731.3,808.4 L732.3,808.8 L733.3,809.0 L734.3,808.8 L735.3,808.5 L736.3,808.3 L737.3,808.6 L738.3,809.0 L739.3,809.4 L740.3,809.6 L741.3,809.4 L742.3,809.1 L743.3,808.8 L744.3,808.4 L745.3,808.0 L746.3,807.5 L747.3,807.1 L748.3,806.5 L749.3,806.0 L750.3,805.5 L751.3,806.1 L752.3,806.9 L753.3,807.7 L754.3,808.2 L755.3,808.2 L756.3,808.2 L757.3,808.2 L758.3,808.2 L759.3,808.2 L760.3,808.2 L761.3,808.5 L762.3,809.4 L763.3,810.2 L764.3,811.1 L765.3,810.7 L766.3,810.2 L767.3,809.6 L768.3,809.3 L769.3,809.5 L770.3,809.7 L771.3,809.9 L772.3,809.5 L773.3,809.0 L774.3,808.5 L775.3,808.3 L776.3,808.8 L777.3,809.2 L778.3,809.7 L779.3,809.5 L780.3,809.2 L781.3,808.8 L782.3,808.5 L783.3,808.2 L784.3,807.9 L785.3,807.6 L786.3,807.9 L787.3,808.2 L788.3,808.6 L789.3,808.9 L790.3,808.9 L791.3,809.0 L792.3,809.1 L793.3,808.9 L794.3,808.6 L795.3,808.3 L796.3,808.3 L797.3,809.1 L798.3,809.8 L799.3,810.5 L800.3,810.3 L801.3,809.9 L802.3,809.5 L803.3,809.1 L804.3,808.6 L805.3,808.2 L806.3,807.7 L807.3,807.4 L808.3,807.2 L809.3,806.9 L810.3,807.0 L811.3,807.9 L812.3,808.9 L813.3,809.8 L814.3,809.9 L815.3,809.9 L816.3,809.9 L817.3,809.9 L818.3,809.9 L819.3,809.8 L820.3,809.8 L821.3,809.4 L822.3,809.0 L823.3,808.5 L824.3,808.2 L825.3,808.2 L826.3,808.2 L827.3,808.2 L828.3,808.6 L829.3,809.0 L830.3,809.4 L831.3,809.6 L832.3,809.3 L833.3,809.0 L834.3,808.7 L835.3,808.8 L836.3,808.9 L837.3,809.0 L838.3,809.1 L839.3,809.3 L840.3,809.5 L841.3,809.7 L842.3,809.8 L843.3,809.9 L844.3,810.0 L845.3,809.9 L846.3,809.4 L847.3,808.8 L848.3,808.3 L849.3,808.3 L850.3,808.5 L851.3,808.6 L852.3,808.8 L853.3,808.9 L854.3,809.0 L855.3,809.1 L856.3,808.8 L857.3,808.6 L858.3,808.3 L859.3,808.3 L860.3,808.7 L861.3,809.1 L862.3,809.6 L863.3,809.1 L864.3,808.5 L865.3,807.9 L866.3,807.6 L867.3,808.0 L868.3,808.4 L869.3,808.9 L870.3,808.7 L871.3,808.4 L872.3,808.1 L873.3,808.1 L874.3,808.5 L875.3,809.0 L876.3,809.4 L877.3,809.2 L878.3,808.9 L879.3,808.5 L880.3,808.2 L881.3,807.9 L882.3,807.7 L883.3,807.4 L884.3,807.4 L885.3,807.5 L886.3,807.6 L887.3,807.5 L888.3,807.2 L889.3,806.9 L890.3,806.6 L891.3,807.0 L892.3,807.5 L893.3,808.1 L894.3,808.3 L895.3,808.1 L896.3,807.8 L897.3,807.5 L898.3,807.4 L899.3,807.4 L900.3,807.4 L901.3,807.4 L902.3,807.5 L903.3,807.7 L904.3,807.9 L905.3,807.9 L906.3,807.9 L907.3,807.9 L908.3,807.8 L909.3,807.5 L910.3,807.2 L911.3,806.9 L912.3,806.7 L913.3,806.4 L914.3,806.2 L915.3,806.2 L916.3,806.9 L917.3,807.5 L918.3,808.1 L919.3,808.0 L920.3,807.8 L921.3,807.6 L922.3,807.4 L923.3,807.3 L924.3,807.2 L925.3,807.1 L926.3,807.2 L927.3,807.4 L928.3,807.6 L929.3,807.6 L930.3,807.2 L931.3,806.9 L932.3,806.5 L933.3,806.9 L934.3,807.4 L935.3,807.9 L936.3,808.1 L937.3,807.6 L938.3,807.1 L939.3,806.5 L940.3,806.4 L941.3,806.4 L942.3,806.4 L943.3,806.4 L944.3,806.5 L945.3,806.6 L946.3,806.7 L947.3,806.6 L948.3,806.4 L949.3,806.3 L950.3,806.2 L951.3,806.3 L952.3,806.3 L953.3,806.4 L954.3,806.5 L955.3,806.6 L956.3,806.7 L957.3,806.7 L958.3,806.4 L959.3,806.2 L960.3,806.0 L961.3,806.3 L962.3,806.6 L963.3,807.0 L964.3,807.2 L965.3,807.1 L966.3,807.0 L967.3,807.0 L968.3,807.4 L969.3,808.0 L970.3,808.6 L971.3,808.8 L972.3,808.2 L973.3,807.6 L974.3,807.0 L975.3,806.8 L976.3,806.7 L977.3,806.7 L978.3,806.6 L979.3,806.6 L980.3,806.6 L981.3,806.6 L982.3,807.0 L983.3,807.4 L984.3,807.8 L985.3,808.1 L986.3,808.1 L987.3,808.1 L988.3,808.1 L989.3,807.9 L990.3,807.6 L991.3,807.3 L992.3,807.2 L993.3,807.7 L994.3,808.3 L995.3,808.8 L996.3,808.4 L997.3,807.7 L998.3,807.0 L999.3,806.5 L1000.3,806.7 L1001.3,806.9 L1002.3,807.0 L1003.3,807.1 L1004.2,807.1 L1005.2,807.1 L1006.2,807.0 L1007.1,806.9 L1008.0,806.6 L1008.9,806.3 L1009.7,805.8 L1010.5,805.1 L1011.3,804.4 L1012.2,803.8 L1013.0,803.3 L1014.0,803.6 L1014.9,804.1 L1015.9,804.6 L1016.9,805.0 L1017.8,805.0 L1018.8,805.0 L1019.8,805.1 L1020.8,804.9 L1021.8,804.8 L1022.8,804.7 L1023.8,804.6 L1024.8,804.7 L1025.8,804.9 L1026.8,805.0 L1027.8,805.1 L1028.7,805.1 L1029.7,805.2 L1030.7,805.2 L1031.7,805.3 L1032.7,805.4 L1033.7,805.5 L1034.7,805.7 L1035.7,805.9 L1036.7,806.1 L1037.7,806.3 L1038.7,806.3 L1039.7,806.4 L1040.7,806.4 L1041.7,806.3 L1042.7,806.2 L1043.7,806.1 L1044.7,805.9 L1045.7,805.7 L1046.7,805.4 L1047.7,805.2 L1048.7,804.9 L1049.7,804.5 L1050.7,804.2 L1051.7,803.9 L1052.7,803.8 L1053.7,803.7 L1054.7,803.6 L1055.7,804.0 L1056.7,804.5 L1057.7,805.0 L1058.7,805.3 L1059.7,804.8 L1060.7,804.3 L1061.7,803.8 L1062.7,803.9 L1063.7,804.1 L1064.7,804.3 L1065.7,804.6 L1066.7,805.0 L1067.7,805.5 L1068.7,805.9 L1069.7,805.9 L1070.7,805.6 L1071.7,805.4 L1072.7,805.2 L1073.7,805.1 L1074.7,805.0 L1075.7,804.9 L1076.7,804.8 L1077.7,804.8 L1078.7,804.8 L1079.7,804.8 L1080.7,804.9 L1081.7,805.0 L1082.7,805.2 L1083.7,805.2 L1083.7,805.2" fill="none" stroke="#3c6a40" stroke-width="3.8" stroke-linejoin="round" stroke-linecap="round"/>
<path d="M186.0,975.8 L187.0,975.8 L188.0,975.7 L189.0,975.7 L190.0,975.7 L191.0,975.7 L192.0,975.6 L193.0,975.6 L194.0,975.6 L195.0,975.6 L196.0,975.5 L197.0,975.5 L198.0,975.5 L199.0,975.5 L200.0,975.4 L201.0,975.4 L202.0,975.4 L203.0,975.3 L204.0,975.3 L205.0,975.3 L206.0,975.3 L207.0,975.2 L208.0,975.2 L209.0,975.2 L210.0,975.2 L211.0,975.1 L212.0,975.1 L213.0,975.1 L214.0,975.0 L215.0,975.0 L216.0,975.0 L217.0,975.0 L218.0,974.9 L219.0,974.9 L220.0,974.9 L221.0,974.9 L222.0,974.8 L223.0,974.8 L224.0,974.8 L225.0,974.7 L226.0,974.7 L227.0,974.7 L228.0,974.7 L229.0,974.6 L230.0,974.6 L231.0,974.6 L232.0,974.5 L233.0,974.5 L234.0,974.5 L235.0,974.4 L236.0,974.4 L237.0,974.4 L238.0,974.4 L239.0,974.3 L240.0,974.3 L241.0,974.3 L242.0,974.2 L243.0,974.2 L244.0,974.2 L245.0,974.1 L246.0,974.1 L247.0,974.1 L248.0,974.0 L249.0,974.0 L250.0,973.9 L251.0,973.9 L252.0,973.9 L253.0,973.8 L254.0,973.8 L255.0,973.8 L256.0,973.7 L257.0,973.7 L258.0,973.7 L259.0,973.6 L260.0,973.6 L261.0,973.6 L262.0,973.5 L263.0,973.5 L264.0,973.5 L265.0,973.4 L266.0,973.4 L267.0,973.4 L268.0,973.3 L269.0,973.3 L270.0,973.3 L271.0,973.2 L272.0,973.2 L273.0,973.2 L274.0,973.1 L275.0,973.1 L276.0,973.1 L277.0,973.0 L278.0,973.0 L279.0,972.9 L280.0,972.9 L281.0,972.9 L282.0,972.8 L283.0,972.8 L283.9,972.7 L284.9,972.7 L285.9,972.6 L286.9,972.5 L287.9,972.5 L288.9,972.4 L289.9,972.3 L290.9,972.2 L291.9,972.1 L292.9,972.0 L293.9,971.9 L294.9,971.8 L295.9,971.7 L296.9,971.6 L297.9,971.5 L298.9,971.4 L299.9,971.2 L300.9,971.1 L301.9,970.9 L302.8,970.8 L303.8,970.6 L304.8,970.4 L305.8,970.3 L306.8,970.1 L307.8,969.9 L308.7,969.7 L309.7,969.5 L310.7,969.2 L311.6,969.0 L312.6,968.7 L313.5,968.4 L314.5,968.0 L315.3,967.6 L316.2,967.1 L317.1,966.6 L317.9,966.0 L318.7,965.4 L319.5,964.8 L320.2,964.2 L321.0,963.5 L321.8,962.9 L322.5,962.2 L323.3,961.6 L324.0,960.9 L324.8,960.3 L325.6,959.6 L326.3,959.0 L327.1,958.3 L327.8,957.6 L328.5,957.0 L329.3,956.3 L330.0,955.6 L330.7,954.9 L331.4,954.2 L332.1,953.5 L332.8,952.8 L333.5,952.0 L334.1,951.3 L334.7,950.5 L335.3,949.6 L335.8,948.8 L336.3,947.9 L336.8,947.1 L337.2,946.2 L337.6,945.3 L338.0,944.3 L338.3,943.4 L338.6,942.4 L338.9,941.5 L339.2,940.5 L339.5,939.6 L339.8,938.6 L340.1,937.7 L340.4,936.7 L340.7,935.8 L341.0,934.8 L341.3,933.8 L341.6,932.9 L341.9,931.9 L342.2,931.0 L342.5,930.0 L342.9,929.1 L343.2,928.2 L343.5,927.2 L343.9,926.3 L344.2,925.3 L344.6,924.4 L344.9,923.5 L345.3,922.5 L345.7,921.6 L346.0,920.7 L346.4,919.8 L346.8,918.8 L347.1,917.9 L347.4,916.9 L347.8,916.0 L348.1,915.0 L348.4,914.1 L348.7,913.2 L349.1,912.2 L349.4,911.3 L349.7,910.3 L350.0,909.4 L350.3,908.4 L350.6,907.5 L350.9,906.5 L351.2,905.6 L351.5,904.6 L351.8,903.6 L352.1,902.7 L352.4,901.7 L352.8,900.8 L353.1,899.9 L353.5,898.9 L353.8,898.0 L354.2,897.1 L354.6,896.1 L355.0,895.2 L355.4,894.3 L355.9,893.4 L356.3,892.5 L356.7,891.6 L357.2,890.7 L357.6,889.8 L358.0,888.9 L358.5,888.0 L358.9,887.1 L359.3,886.2 L359.8,885.3 L360.2,884.4 L360.7,883.5 L361.1,882.6 L361.5,881.7 L362.0,880.8 L362.4,879.9 L362.8,879.0 L363.3,878.1 L363.7,877.2 L364.1,876.3 L364.5,875.4 L365.0,874.5 L365.4,873.6 L365.8,872.7 L366.2,871.8 L366.6,870.9 L367.0,869.9 L367.4,869.0 L367.8,868.1 L368.3,867.2 L368.7,866.3 L369.2,865.4 L369.7,864.6 L370.2,863.7 L370.7,862.8 L371.2,862.0 L371.7,861.1 L372.2,860.3 L372.8,859.5 L373.4,858.6 L373.9,857.8 L374.5,857.0 L375.1,856.2 L375.6,855.4 L376.2,854.5 L376.8,853.7 L377.4,852.9 L378.0,852.1 L378.6,851.4 L379.3,850.6 L379.9,849.8 L380.6,849.1 L381.3,848.4 L382.0,847.7 L382.8,847.1 L383.6,846.5 L384.4,846.0 L385.3,845.4 L386.1,844.9 L387.0,844.4 L387.9,843.9 L388.7,843.4 L389.6,842.9 L390.4,842.3 L391.2,841.8 L392.1,841.2 L392.9,840.6 L393.7,840.1 L394.5,839.5 L395.3,838.9 L396.1,838.3 L396.9,837.6 L397.6,837.0 L398.4,836.4 L399.2,835.7 L399.9,835.0 L400.6,834.4 L401.4,833.7 L402.1,833.0 L402.9,832.3 L403.6,831.7 L404.3,831.0 L405.1,830.3 L405.9,829.7 L406.6,829.1 L407.4,828.4 L408.2,827.8 L409.0,827.2 L409.7,826.5 L410.5,825.9 L411.3,825.3 L412.1,824.7 L412.9,824.1 L413.7,823.4 L414.4,822.8 L415.2,822.2 L416.0,821.5 L416.8,820.9 L417.5,820.3 L418.3,819.7 L419.1,819.0 L419.9,818.4 L420.7,817.8 L421.5,817.2 L422.3,816.6 L423.1,816.1 L423.9,815.5 L424.8,815.0 L425.6,814.4 L426.5,813.9 L427.3,813.4 L428.2,812.9 L429.1,812.5 L430.0,812.0 L430.9,811.6 L431.8,811.2 L432.8,810.9 L433.7,810.5 L434.6,810.2 L435.6,809.9 L436.5,809.6 L437.5,809.3 L438.5,809.0 L439.4,808.7 L440.4,808.4 L441.3,808.0 L442.2,807.5 L443.2,807.2 L444.1,807.0 L445.1,806.8 L446.0,806.8 L447.0,806.4 L448.0,805.9 L448.9,805.4 L449.9,805.1 L450.9,805.0 L451.9,805.0 L452.9,805.0 L453.9,805.4 L454.9,805.8 L455.9,806.3 L456.8,806.3 L457.8,805.6 L458.8,804.9 L459.8,804.3 L460.8,803.9 L461.8,803.6 L462.8,803.3 L463.8,803.2 L464.8,803.5 L465.8,803.8 L466.8,804.1 L467.8,804.0 L468.8,803.9 L469.8,803.7 L470.8,803.6 L471.8,803.5 L472.7,803.4 L473.7,803.4 L474.6,803.8 L475.5,804.5 L476.5,805.2 L477.4,806.0 L478.3,806.6 L479.2,807.3 L480.1,807.9 L481.0,808.5 L482.0,808.5 L482.9,808.5 L483.8,808.5 L484.7,808.7 L485.6,809.6 L486.5,810.5 L487.4,811.4 L488.3,812.1 L489.1,812.1 L490.0,812.2 L490.9,812.2 L491.7,812.4 L492.6,812.6 L493.4,812.8 L494.3,813.1 L495.1,813.4 L495.9,814.4 L496.8,815.4 L497.6,816.3 L498.5,817.2 L499.4,817.3 L500.3,817.3 L501.3,817.2 L502.2,817.3 L503.2,818.0 L504.2,818.6 L505.2,819.1 L506.2,818.9 L507.1,818.3 L508.1,817.6 L509.0,816.9 L510.0,816.7 L510.8,816.4 L511.7,816.1 L512.5,815.6 L513.2,814.9 L513.9,814.2 L514.6,813.4 L515.3,812.6 L516.0,811.8 L516.7,811.3 L517.5,810.8 L518.3,810.3 L519.1,809.9 L519.9,809.6 L520.8,809.2 L521.7,808.9 L522.6,808.7 L523.6,808.3 L524.5,807.9 L525.5,807.5 L526.5,807.2 L527.5,806.6 L528.4,806.0 L529.4,805.4 L530.4,805.4 L531.4,806.0 L532.4,806.6 L533.4,807.2 L534.4,807.1 L535.4,806.9 L536.4,806.8 L537.4,806.4 L538.4,805.7 L539.4,804.9 L540.4,804.1 L541.4,804.8 L542.4,805.7 L543.4,806.6 L544.4,807.0 L545.4,806.5 L546.4,806.0 L547.4,805.6 L548.4,805.7 L549.4,805.8 L550.4,806.0 L551.4,806.2 L552.4,806.3 L553.4,806.5 L554.4,806.6 L555.4,806.9 L556.4,807.1 L557.4,807.4 L558.4,807.4 L559.4,807.0 L560.4,806.6 L561.4,806.1 L562.4,806.0 L563.4,805.9 L564.4,805.8 L565.4,805.7 L566.4,805.8 L567.4,805.9 L568.4,806.0 L569.4,806.1 L570.4,806.2 L571.4,806.2 L572.4,806.1 L573.4,805.5 L574.4,804.9 L575.4,804.3 L576.4,804.4 L577.4,804.6 L578.4,804.8 L579.4,805.0 L580.4,805.1 L581.4,805.2 L582.4,805.3 L583.4,805.2 L584.4,805.1 L585.4,805.0 L586.4,805.0 L587.4,805.1 L588.4,805.3 L589.4,805.4 L590.4,805.5 L591.4,805.7 L592.4,805.8 L593.4,805.9 L594.4,805.8 L595.4,805.8 L596.4,805.8 L597.4,806.1 L598.4,806.5 L599.4,806.9 L600.4,807.0 L601.4,806.5 L602.4,805.9 L603.4,805.4 L604.4,805.7 L605.4,806.0 L606.4,806.3 L607.4,806.5 L608.4,806.5 L609.4,806.5 L610.4,806.5 L611.4,806.8 L612.4,807.3 L613.4,807.7 L614.4,808.0 L615.4,808.3 L616.4,808.5 L617.4,808.7 L618.4,808.1 L619.4,807.3 L620.4,806.6 L621.4,806.1 L622.4,806.3 L623.4,806.4 L624.4,806.6 L625.4,806.5 L626.4,806.4 L627.4,806.2 L628.4,806.2 L629.4,806.4 L630.4,806.5 L631.4,806.7 L632.4,806.7 L633.4,806.6 L634.4,806.6 L635.4,806.6 L636.4,806.5 L637.4,806.4 L638.4,806.3 L639.4,806.2 L640.4,806.1 L641.4,806.0 L642.4,806.0 L643.4,806.1 L644.4,806.3 L645.4,806.4 L646.4,806.0 L647.4,805.6 L648.4,805.1 L649.4,805.2 L650.4,806.2 L651.4,807.2 L652.4,808.2 L653.4,807.8 L654.4,807.2 L655.4,806.6 L656.4,806.1 L657.4,805.9 L658.4,805.7 L659.4,805.5 L660.4,806.1 L661.4,806.8 L662.4,807.6 L663.4,808.0 L664.4,807.6 L665.4,807.3 L666.4,807.0 L667.4,807.5 L668.4,808.2 L669.4,808.8 L670.4,808.9 L671.4,808.1 L672.4,807.2 L673.3,806.3 L674.3,806.6 L675.3,807.0 L676.3,807.5 L677.3,807.7 L678.3,807.4 L679.3,807.0 L680.3,806.7 L681.3,806.9 L682.3,807.2 L683.3,807.5 L684.3,807.6 L685.3,807.4 L686.3,807.1 L687.3,806.9 L688.3,807.0 L689.3,807.2 L690.3,807.4 L691.3,807.4 L692.3,807.3 L693.3,807.3 L694.3,807.2 L695.3,807.2 L696.3,807.3 L697.3,807.4 L698.3,807.6 L699.3,808.2 L700.3,808.9 L701.3,809.5 L702.3,809.2 L703.3,808.8 L704.3,808.3 L705.3,808.1 L706.3,808.5 L707.3,808.8 L708.3,809.1 L709.3,808.8 L710.3,808.4 L711.3,807.9 L712.3,807.8 L713.3,808.2 L714.3,808.6 L715.3,809.0 L716.3,808.6 L717.3,808.1 L718.3,807.5 L719.3,807.2 L720.3,807.3 L721.3,807.4 L722.3,807.5 L723.3,807.9 L724.3,808.5 L725.3,809.0 L726.3,809.3 L727.3,809.0 L728.3,808.7 L729.3,808.4 L730.3,807.9 L731.3,807.3 L732.3,806.8 L733.3,806.6 L734.3,807.2 L735.3,807.7 L736.3,808.3 L737.3,808.2 L738.3,808.1 L739.3,807.9 L740.3,807.9 L741.3,808.4 L742.3,808.8 L743.3,809.2 L744.3,809.2 L745.3,809.0 L746.3,808.9 L747.3,808.9 L748.3,809.1 L749.3,809.3 L750.3,809.5 L751.3,809.4 L752.3,809.2 L753.3,809.1 L754.3,808.9 L755.3,808.6 L756.3,808.3 L757.3,808.0 L758.3,807.8 L759.3,807.5 L760.3,807.2 L761.3,807.1 L762.3,807.3 L763.3,807.5 L764.3,807.7 L765.3,807.8 L766.3,807.9 L767.3,808.0 L768.3,807.9 L769.3,807.3 L770.3,806.7 L771.3,806.1 L772.3,806.9 L773.3,807.9 L774.3,808.8 L775.3,809.3 L776.3,808.6 L777.3,808.0 L778.3,807.3 L779.3,807.8 L780.3,808.5 L781.3,809.2 L782.3,809.7 L783.3,809.6 L784.3,809.6 L785.3,809.5 L786.3,809.9 L787.3,810.4 L788.3,810.9 L789.3,811.0 L790.3,810.5 L791.3,810.1 L792.3,809.6 L793.3,809.2 L794.3,809.0 L795.3,808.7 L796.3,808.6 L797.3,808.7 L798.3,808.8 L799.3,809.0 L800.3,809.2 L801.3,809.6 L802.3,809.9 L803.3,810.2 L804.3,810.4 L805.3,810.6 L806.3,810.9 L807.3,810.3 L808.3,809.6 L809.3,808.9 L810.3,808.6 L811.3,809.2 L812.3,809.8 L813.3,810.4 L814.3,810.6 L815.3,810.7 L816.3,810.8 L817.3,810.6 L818.3,809.7 L819.3,808.9 L820.3,808.0 L821.3,807.7 L822.3,807.5 L823.3,807.3 L824.3,807.2 L825.3,807.1 L826.3,807.1 L827.3,807.1 L828.3,807.4 L829.3,807.9 L830.3,808.4 L831.3,808.9 L832.3,809.6 L833.3,810.2 L834.3,810.9 L835.3,810.4 L836.3,809.7 L837.3,809.0 L838.3,808.4 L839.3,808.1 L840.3,807.8 L841.3,807.5 L842.3,808.1 L843.3,809.0 L844.3,809.8 L845.3,810.0 L846.3,809.0 L847.3,808.0 L848.3,806.9 L849.3,807.0 L850.3,807.2 L851.3,807.4 L852.3,807.8 L853.3,808.4 L854.3,809.0 L855.3,809.6 L856.3,809.7 L857.3,809.6 L858.3,809.5 L859.3,809.3 L860.3,808.7 L861.3,808.1 L862.3,807.5 L863.3,807.9 L864.3,808.6 L865.3,809.3 L866.3,809.6 L867.3,809.1 L868.3,808.6 L869.3,808.2 L870.3,808.3 L871.3,808.7 L872.3,809.0 L873.3,809.2 L874.3,809.2 L875.3,809.1 L876.3,809.1 L877.3,809.2 L878.3,809.3 L879.3,809.4 L880.3,809.4 L881.3,809.3 L882.3,809.2 L883.3,809.1 L884.3,808.6 L885.3,807.9 L886.3,807.3 L887.3,806.9 L888.3,807.0 L889.3,807.2 L890.3,807.3 L891.3,807.4 L892.3,807.6 L893.3,807.7 L894.3,807.7 L895.3,807.5 L896.3,807.3 L897.3,807.1 L898.3,807.2 L899.3,807.3 L900.3,807.4 L901.3,807.5 L902.3,807.6 L903.3,807.6 L904.3,807.6 L905.3,807.8 L906.3,808.0 L907.3,808.2 L908.3,808.4 L909.3,808.6 L910.3,808.8 L911.3,809.1 L912.3,808.7 L913.3,808.2 L914.3,807.6 L915.3,807.3 L916.3,807.4 L917.3,807.6 L918.3,807.7 L919.3,806.9 L920.3,806.0 L921.3,805.1 L922.3,804.6 L923.3,805.2 L924.3,805.7 L925.3,806.3 L926.3,806.5 L927.3,806.6 L928.3,806.7 L929.3,806.7 L930.3,806.7 L931.3,806.7 L932.3,806.7 L933.3,806.6 L934.3,806.4 L935.3,806.3 L936.3,806.3 L937.3,806.5 L938.3,806.7 L939.3,807.0 L940.3,806.7 L941.3,806.4 L942.3,806.0 L943.3,805.8 L944.3,805.8 L945.3,805.8 L946.3,805.9 L947.3,806.0 L948.3,806.1 L949.3,806.2 L950.3,806.5 L951.3,806.9 L952.3,807.4 L953.3,807.8 L954.3,807.7 L955.3,807.3 L956.3,807.0 L957.3,806.7 L958.3,806.4 L959.3,806.0 L960.3,805.7 L961.3,805.5 L962.3,805.4 L963.3,805.2 L964.3,805.2 L965.3,805.6 L966.3,805.9 L967.3,806.2 L968.3,806.4 L969.3,806.5 L970.3,806.6 L971.3,806.7 L972.3,806.5 L973.3,806.3 L974.3,806.0 L975.3,806.3 L976.3,806.6 L977.3,806.9 L978.3,807.3 L979.3,807.7 L980.3,808.1 L981.3,808.5 L982.3,808.5 L983.3,808.4 L984.3,808.3 L985.3,808.3 L986.3,808.6 L987.3,808.8 L988.3,809.1 L989.3,808.9 L990.3,808.4 L991.3,808.0 L992.3,807.8 L993.3,808.4 L994.3,808.9 L995.3,809.5 L996.3,809.5 L997.3,809.3 L998.3,809.1 L999.3,809.0 L1000.3,808.9 L1001.3,808.9 L1002.3,808.8 L1003.3,808.4 L1004.2,807.9 L1005.2,807.4 L1006.2,806.9 L1007.1,806.5 L1008.0,806.0 L1008.9,805.5 L1009.7,805.0 L1010.5,804.6 L1011.3,804.2 L1012.2,803.9 L1013.0,803.7 L1014.0,803.5 L1014.9,803.5 L1015.9,803.6 L1016.9,803.4 L1017.8,802.9 L1018.8,802.4 L1019.8,801.9 L1020.8,802.0 L1021.8,802.2 L1022.8,802.4 L1023.8,802.7 L1024.8,803.0 L1025.8,803.4 L1026.8,803.8 L1027.8,804.3 L1028.7,804.8 L1029.7,805.3 L1030.7,805.6 L1031.7,805.6 L1032.7,805.5 L1033.7,805.3 L1034.7,805.6 L1035.7,806.1 L1036.7,806.5 L1037.7,806.7 L1038.7,806.0 L1039.7,805.3 L1040.7,804.6 L1041.7,804.4 L1042.7,804.4 L1043.7,804.4 L1044.7,804.5 L1045.7,805.0 L1046.7,805.4 L1047.7,805.9 L1048.7,805.9 L1049.7,805.7 L1050.7,805.6 L1051.7,805.5 L1052.7,806.0 L1053.7,806.4 L1054.7,806.8 L1055.7,806.7 L1056.7,806.2 L1057.7,805.8 L1058.7,805.5 L1059.7,805.6 L1060.7,805.6 L1061.7,805.7 L1062.7,805.5 L1063.7,805.3 L1064.7,805.0 L1065.7,804.9 L1066.7,805.1 L1067.7,805.4 L1068.7,805.6 L1069.7,805.5 L1070.7,805.3 L1071.7,805.1 L1072.7,804.9 L1073.7,804.8 L1074.7,804.7 L1075.7,804.6 L1076.7,804.6 L1077.7,804.7 L1078.7,804.8 L1079.7,804.8 L1080.7,804.7 L1081.7,804.5 L1082.7,804.3 L1083.7,804.2 L1083.7,804.2" fill="none" stroke="#121412" stroke-width="3.4" stroke-linejoin="round" stroke-linecap="round" stroke-dasharray="16 7"/>
<path d="M186.0,1147.1 L187.0,1147.1 L188.0,1147.1 L189.0,1147.1 L190.0,1147.0 L191.0,1147.0 L192.0,1147.0 L193.0,1147.0 L194.0,1147.0 L195.0,1147.0 L196.0,1147.0 L197.0,1146.9 L198.0,1146.9 L199.0,1146.9 L200.0,1146.9 L201.0,1146.9 L202.0,1146.9 L203.0,1146.9 L204.0,1146.8 L205.0,1146.8 L206.0,1146.8 L207.0,1146.8 L208.0,1146.8 L209.0,1146.8 L210.0,1146.8 L211.0,1146.7 L212.0,1146.7 L213.0,1146.7 L214.0,1146.7 L215.0,1146.7 L216.0,1146.7 L217.0,1146.7 L218.0,1146.6 L219.0,1146.6 L220.0,1146.6 L221.0,1146.6 L222.0,1146.6 L223.0,1146.6 L224.0,1146.6 L225.0,1146.6 L226.0,1146.5 L227.0,1146.5 L228.0,1146.5 L229.0,1146.5 L230.0,1146.5 L231.0,1146.5 L232.0,1146.5 L233.0,1146.5 L234.0,1146.5 L235.0,1146.5 L236.0,1146.4 L237.0,1146.4 L238.0,1146.4 L239.0,1146.4 L240.0,1146.4 L241.0,1146.4 L242.0,1146.4 L243.0,1146.4 L244.0,1146.4 L245.0,1146.4 L246.0,1146.4 L247.0,1146.4 L248.0,1146.4 L249.0,1146.4 L250.0,1146.4 L251.0,1146.3 L252.0,1146.3 L253.0,1146.3 L254.0,1146.3 L255.0,1146.3 L256.0,1146.3 L257.0,1146.3 L258.0,1146.3 L259.0,1146.3 L260.0,1146.3 L261.0,1146.3 L262.0,1146.3 L263.0,1146.3 L264.0,1146.3 L265.0,1146.3 L266.0,1146.3 L267.0,1146.3 L268.0,1146.3 L269.0,1146.3 L270.0,1146.4 L271.0,1146.4 L272.0,1146.4 L273.0,1146.4 L274.0,1146.4 L275.0,1146.4 L276.0,1146.3 L277.0,1146.3 L278.0,1146.3 L279.0,1146.2 L280.0,1146.1 L281.0,1146.1 L282.0,1146.0 L283.0,1145.8 L284.0,1145.7 L284.9,1145.6 L285.9,1145.4 L286.9,1145.2 L287.9,1145.0 L288.9,1144.8 L289.9,1144.6 L290.8,1144.5 L291.8,1144.3 L292.8,1144.1 L293.8,1143.9 L294.8,1143.8 L295.8,1143.6 L296.8,1143.5 L297.8,1143.4 L298.7,1143.2 L299.7,1143.1 L300.7,1142.9 L301.7,1142.7 L302.7,1142.6 L303.7,1142.4 L304.6,1142.1 L305.6,1141.9 L306.6,1141.7 L307.5,1141.4 L308.5,1141.1 L309.5,1140.8 L310.4,1140.5 L311.4,1140.2 L312.3,1139.8 L313.2,1139.5 L314.1,1139.1 L315.0,1138.6 L315.9,1138.2 L316.8,1137.7 L317.7,1137.2 L318.5,1136.7 L319.4,1136.2 L320.2,1135.6 L321.0,1135.1 L321.9,1134.5 L322.7,1134.0 L323.5,1133.4 L324.3,1132.8 L325.2,1132.3 L326.0,1131.7 L326.8,1131.1 L327.6,1130.5 L328.4,1129.9 L329.2,1129.3 L329.9,1128.6 L330.6,1127.9 L331.3,1127.2 L331.9,1126.4 L332.4,1125.6 L332.9,1124.7 L333.4,1123.9 L333.9,1123.0 L334.3,1122.1 L334.7,1121.2 L335.1,1120.3 L335.5,1119.3 L335.9,1118.4 L336.2,1117.5 L336.6,1116.5 L336.9,1115.6 L337.3,1114.7 L337.7,1113.7 L338.0,1112.8 L338.4,1111.9 L338.8,1111.0 L339.1,1110.0 L339.5,1109.1 L339.9,1108.2 L340.3,1107.2 L340.6,1106.3 L341.0,1105.4 L341.4,1104.5 L341.8,1103.5 L342.2,1102.6 L342.5,1101.7 L342.9,1100.8 L343.3,1099.8 L343.6,1098.9 L344.0,1098.0 L344.3,1097.0 L344.6,1096.1 L344.9,1095.1 L345.3,1094.2 L345.5,1093.2 L345.8,1092.3 L346.1,1091.3 L346.4,1090.3 L346.6,1089.4 L346.9,1088.4 L347.2,1087.4 L347.4,1086.5 L347.7,1085.5 L347.9,1084.5 L348.2,1083.6 L348.4,1082.6 L348.7,1081.6 L348.9,1080.7 L349.2,1079.7 L349.5,1078.7 L349.7,1077.8 L350.0,1076.8 L350.3,1075.9 L350.7,1074.9 L351.0,1074.0 L351.3,1073.0 L351.7,1072.1 L352.0,1071.2 L352.4,1070.3 L352.8,1069.4 L353.3,1068.5 L353.8,1067.6 L354.3,1066.7 L354.8,1065.9 L355.3,1065.0 L355.9,1064.2 L356.5,1063.4 L357.0,1062.6 L357.6,1061.8 L358.2,1060.9 L358.8,1060.1 L359.4,1059.3 L359.9,1058.5 L360.4,1057.6 L361.0,1056.8 L361.4,1055.9 L361.9,1055.0 L362.3,1054.1 L362.7,1053.2 L363.2,1052.3 L363.5,1051.4 L363.9,1050.5 L364.3,1049.5 L364.7,1048.6 L365.1,1047.7 L365.4,1046.8 L365.8,1045.8 L366.2,1044.9 L366.6,1044.0 L367.0,1043.1 L367.3,1042.1 L367.7,1041.2 L368.1,1040.3 L368.5,1039.4 L368.9,1038.4 L369.3,1037.5 L369.7,1036.6 L370.1,1035.7 L370.5,1034.8 L370.9,1033.9 L371.3,1032.9 L371.7,1032.0 L372.1,1031.1 L372.6,1030.2 L373.0,1029.3 L373.5,1028.4 L373.9,1027.6 L374.4,1026.7 L374.8,1025.8 L375.3,1024.9 L375.8,1024.0 L376.3,1023.2 L376.9,1022.4 L377.4,1021.5 L378.0,1020.7 L378.6,1019.9 L379.3,1019.2 L379.9,1018.4 L380.6,1017.7 L381.4,1017.1 L382.1,1016.4 L382.9,1015.8 L383.7,1015.2 L384.5,1014.7 L385.4,1014.1 L386.2,1013.6 L387.1,1013.1 L388.0,1012.7 L388.9,1012.2 L389.7,1011.7 L390.6,1011.1 L391.4,1010.6 L392.2,1010.0 L393.0,1009.5 L393.8,1008.9 L394.6,1008.2 L395.4,1007.6 L396.2,1007.0 L397.0,1006.4 L397.8,1005.8 L398.6,1005.2 L399.4,1004.6 L400.2,1004.0 L401.0,1003.4 L401.8,1002.8 L402.6,1002.2 L403.4,1001.6 L404.2,1001.0 L404.9,1000.3 L405.7,999.7 L406.4,999.0 L407.1,998.3 L407.8,997.6 L408.5,996.9 L409.2,996.2 L409.9,995.4 L410.7,994.7 L411.4,994.1 L412.1,993.4 L412.9,992.7 L413.6,992.1 L414.4,991.4 L415.1,990.8 L415.9,990.1 L416.7,989.5 L417.5,988.9 L418.3,988.3 L419.1,987.7 L419.9,987.1 L420.7,986.6 L421.6,986.0 L422.4,985.5 L423.2,984.9 L424.1,984.4 L424.9,983.9 L425.8,983.4 L426.7,982.9 L427.6,982.4 L428.4,981.9 L429.3,981.4 L430.2,980.9 L431.1,980.5 L431.9,980.0 L432.8,979.6 L433.7,979.1 L434.6,978.7 L435.5,978.3 L436.5,977.9 L437.4,977.5 L438.3,977.2 L439.3,976.8 L440.2,976.5 L441.2,976.1 L442.1,975.8 L443.1,975.4 L444.0,975.2 L445.0,974.9 L446.0,974.8 L446.9,974.3 L447.9,973.7 L448.9,973.1 L449.9,972.7 L450.9,973.0 L451.9,973.3 L452.8,973.6 L453.8,973.5 L454.8,973.5 L455.8,973.4 L456.8,973.4 L457.8,973.4 L458.8,973.5 L459.8,973.6 L460.8,973.8 L461.8,974.0 L462.8,974.3 L463.8,974.2 L464.8,973.3 L465.8,972.4 L466.8,971.6 L467.8,972.2 L468.8,973.1 L469.8,974.0 L470.8,974.6 L471.8,974.4 L472.8,974.2 L473.7,974.1 L474.7,974.5 L475.7,975.1 L476.6,975.7 L477.6,976.3 L478.5,976.5 L479.5,976.6 L480.4,976.8 L481.3,977.0 L482.3,977.1 L483.2,977.2 L484.1,977.3 L484.9,977.9 L485.8,978.8 L486.7,979.8 L487.5,980.8 L488.4,981.3 L489.3,981.4 L490.1,981.5 L491.0,981.6 L491.9,982.0 L492.7,982.9 L493.6,983.7 L494.5,984.5 L495.3,985.1 L496.2,985.3 L497.0,985.6 L497.9,985.8 L498.8,986.1 L499.6,986.6 L500.5,987.1 L501.5,987.5 L502.4,987.9 L503.3,988.3 L504.3,988.6 L505.3,988.8 L506.2,989.2 L507.2,989.6 L508.2,989.9 L509.1,990.0 L510.1,989.4 L511.0,988.8 L512.0,988.1 L512.9,987.4 L513.8,986.9 L514.7,986.3 L515.7,985.7 L516.6,985.5 L517.5,985.6 L518.4,985.6 L519.3,985.7 L520.2,985.0 L521.1,984.1 L522.0,983.3 L522.9,982.4 L523.8,981.9 L524.8,981.4 L525.7,980.9 L526.6,980.5 L527.5,979.9 L528.5,979.4 L529.4,978.9 L530.4,978.6 L531.3,978.6 L532.3,978.7 L533.2,978.7 L534.2,978.5 L535.2,978.3 L536.2,978.1 L537.1,977.8 L538.1,977.4 L539.1,977.0 L540.1,976.7 L541.1,976.2 L542.1,975.7 L543.1,975.3 L544.1,974.8 L545.1,975.2 L546.1,975.6 L547.0,976.0 L548.0,976.2 L549.0,976.2 L550.0,976.2 L551.0,976.1 L552.0,975.9 L553.0,975.7 L554.0,975.4 L555.0,975.2 L556.0,975.0 L557.0,974.7 L558.0,974.4 L559.0,974.3 L560.0,974.2 L561.0,974.0 L562.0,973.9 L563.0,974.0 L564.0,974.0 L565.0,974.1 L565.9,974.5 L566.9,974.9 L567.9,975.3 L568.9,975.4 L569.9,975.0 L570.9,974.5 L571.9,974.1 L572.9,973.6 L573.9,973.0 L574.9,972.5 L575.9,972.4 L576.9,973.0 L577.9,973.7 L578.9,974.3 L579.9,974.1 L580.9,973.8 L581.9,973.4 L582.9,973.6 L583.9,974.4 L584.9,975.2 L585.9,976.0 L586.9,975.4 L587.9,974.7 L588.9,973.9 L589.9,973.5 L590.9,973.6 L591.9,973.7 L592.9,973.8 L593.9,973.9 L594.9,974.0 L595.9,974.1 L596.9,974.2 L597.9,974.2 L598.9,974.3 L599.9,974.3 L600.9,974.3 L601.9,974.3 L602.9,974.2 L603.9,974.2 L604.9,974.3 L605.9,974.3 L606.9,974.3 L607.9,974.3 L608.9,974.3 L609.9,974.2 L610.9,974.2 L611.9,974.1 L612.9,974.1 L613.9,974.0 L614.9,974.1 L615.9,974.2 L616.9,974.3 L617.9,974.3 L618.9,974.1 L619.9,973.9 L620.9,973.7 L621.9,973.9 L622.9,974.1 L623.9,974.4 L624.9,974.5 L625.9,974.6 L626.9,974.6 L627.9,974.6 L628.9,974.7 L629.9,974.8 L630.9,975.0 L631.9,975.1 L632.9,975.2 L633.9,975.2 L634.9,975.3 L635.9,975.5 L636.9,975.7 L637.9,975.9 L638.8,976.1 L639.8,976.3 L640.8,976.6 L641.8,976.9 L642.8,976.9 L643.8,976.8 L644.8,976.7 L645.8,976.7 L646.8,976.9 L647.8,977.2 L648.8,977.4 L649.8,977.6 L650.8,977.8 L651.7,978.0 L652.7,978.1 L653.7,978.1 L654.7,978.0 L655.7,978.0 L656.7,978.1 L657.7,978.3 L658.7,978.4 L659.7,978.6 L660.7,978.9 L661.7,979.1 L662.7,979.3 L663.7,979.1 L664.7,978.6 L665.7,978.1 L666.7,977.7 L667.7,978.5 L668.7,979.2 L669.7,979.9 L670.7,979.9 L671.7,979.6 L672.7,979.2 L673.6,978.7 L674.6,977.8 L675.6,976.8 L676.6,975.7 L677.6,976.0 L678.6,977.1 L679.6,978.1 L680.6,978.9 L681.6,978.3 L682.5,977.6 L683.5,976.9 L684.5,976.7 L685.5,977.1 L686.4,977.4 L687.4,977.8 L688.4,977.1 L689.4,976.4 L690.3,975.7 L691.3,975.2 L692.3,975.2 L693.3,975.3 L694.3,975.4 L695.3,975.6 L696.3,975.8 L697.3,976.0 L698.3,976.1 L699.3,975.7 L700.3,975.3 L701.2,975.0 L702.2,975.0 L703.2,975.1 L704.2,975.2 L705.2,975.4 L706.2,975.9 L707.1,976.3 L708.1,976.8 L709.1,977.4 L710.0,978.1 L711.0,978.8 L712.0,979.4 L712.9,979.7 L713.9,979.8 L714.9,980.0 L715.8,980.2 L716.8,980.6 L717.8,980.9 L718.7,981.2 L719.7,981.2 L720.7,981.1 L721.7,980.9 L722.7,980.8 L723.7,981.0 L724.7,981.1 L725.7,981.2 L726.7,981.4 L727.7,981.7 L728.7,981.9 L729.7,982.0 L730.7,981.9 L731.7,981.8 L732.7,981.6 L733.7,981.3 L734.7,980.9 L735.7,980.5 L736.7,980.2 L737.7,980.7 L738.7,981.1 L739.7,981.5 L740.7,981.4 L741.7,981.0 L742.7,980.6 L743.7,980.2 L744.7,980.1 L745.7,979.9 L746.6,979.8 L747.6,979.9 L748.6,980.1 L749.6,980.4 L750.6,980.5 L751.6,980.4 L752.6,980.3 L753.6,980.2 L754.6,980.3 L755.6,980.6 L756.6,980.8 L757.6,981.0 L758.6,980.8 L759.6,980.6 L760.6,980.4 L761.6,980.2 L762.6,980.0 L763.6,979.8 L764.6,979.6 L765.6,979.7 L766.6,979.8 L767.6,979.9 L768.6,979.8 L769.6,979.7 L770.6,979.5 L771.6,979.4 L772.6,979.4 L773.6,979.5 L774.6,979.6 L775.6,979.9 L776.6,980.3 L777.6,980.8 L778.6,981.1 L779.6,980.8 L780.6,980.6 L781.6,980.3 L782.6,980.1 L783.6,979.9 L784.6,979.6 L785.6,979.4 L786.6,979.5 L787.6,979.5 L788.6,979.5 L789.6,979.4 L790.6,979.3 L791.6,979.3 L792.6,979.2 L793.6,979.3 L794.6,979.4 L795.6,979.5 L796.6,979.3 L797.6,978.9 L798.6,978.6 L799.6,978.3 L800.6,978.9 L801.6,979.5 L802.6,980.1 L803.6,980.2 L804.6,979.9 L805.6,979.6 L806.6,979.4 L807.6,979.7 L808.6,980.0 L809.6,980.3 L810.6,980.4 L811.6,980.5 L812.6,980.5 L813.6,980.6 L814.6,980.4 L815.6,980.2 L816.6,980.0 L817.6,979.7 L818.6,979.3 L819.6,978.9 L820.6,978.6 L821.6,978.5 L822.6,978.4 L823.6,978.3 L824.6,978.7 L825.6,979.3 L826.6,979.8 L827.6,980.3 L828.6,980.3 L829.6,980.3 L830.6,980.3 L831.6,979.9 L832.6,979.2 L833.6,978.6 L834.6,978.1 L835.6,978.2 L836.6,978.3 L837.6,978.4 L838.6,978.8 L839.6,979.4 L840.6,979.9 L841.6,980.4 L842.6,980.1 L843.6,979.8 L844.6,979.4 L845.6,979.7 L846.6,980.2 L847.6,980.8 L848.6,981.2 L849.6,980.7 L850.6,980.3 L851.6,979.8 L852.6,979.7 L853.6,979.8 L854.6,979.9 L855.6,979.9 L856.6,979.6 L857.6,979.3 L858.6,979.0 L859.6,978.8 L860.6,978.7 L861.6,978.5 L862.6,978.4 L863.6,978.1 L864.6,977.8 L865.6,977.5 L866.6,977.1 L867.6,976.7 L868.6,976.3 L869.6,976.1 L870.6,977.2 L871.6,978.2 L872.6,979.3 L873.6,979.6 L874.6,979.5 L875.6,979.4 L876.6,979.2 L877.6,978.8 L878.6,978.4 L879.6,978.0 L880.6,978.1 L881.6,978.5 L882.6,978.9 L883.6,979.2 L884.6,978.4 L885.6,977.7 L886.6,976.9 L887.6,977.1 L888.6,978.0 L889.6,978.8 L890.6,979.5 L891.6,979.1 L892.6,978.8 L893.6,978.4 L894.6,978.4 L895.6,978.7 L896.6,979.0 L897.6,979.2 L898.6,978.2 L899.6,977.1 L900.6,976.1 L901.6,976.2 L902.6,977.0 L903.6,977.8 L904.6,978.5 L905.6,978.2 L906.6,978.0 L907.6,977.7 L908.6,977.4 L909.5,977.1 L910.5,976.8 L911.5,976.5 L912.5,976.0 L913.5,975.5 L914.5,975.0 L915.5,974.9 L916.5,975.1 L917.5,975.4 L918.5,975.6 L919.5,975.5 L920.5,975.4 L921.5,975.4 L922.5,975.2 L923.5,974.9 L924.5,974.6 L925.5,974.3 L926.5,974.1 L927.5,973.8 L928.5,973.6 L929.5,973.5 L930.5,973.6 L931.5,973.7 L932.5,973.8 L933.5,973.9 L934.5,974.1 L935.5,974.2 L936.5,974.5 L937.5,975.0 L938.5,975.5 L939.5,976.0 L940.5,976.0 L941.5,976.1 L942.5,976.1 L943.5,976.2 L944.5,976.3 L945.5,976.5 L946.5,976.7 L947.5,976.4 L948.5,976.0 L949.5,975.7 L950.5,975.3 L951.5,974.8 L952.5,974.2 L953.5,973.7 L954.5,973.9 L955.5,974.1 L956.4,974.3 L957.4,974.4 L958.4,974.3 L959.4,974.2 L960.4,974.1 L961.4,974.4 L962.4,974.7 L963.4,974.9 L964.4,975.3 L965.4,975.8 L966.4,976.3 L967.4,976.8 L968.4,976.4 L969.4,976.0 L970.4,975.6 L971.4,975.3 L972.4,975.3 L973.4,975.2 L974.4,975.2 L975.4,975.4 L976.4,975.7 L977.4,976.0 L978.4,976.2 L979.4,976.3 L980.4,976.4 L981.4,976.4 L982.4,976.5 L983.4,976.6 L984.4,976.7 L985.4,976.5 L986.4,976.0 L987.4,975.4 L988.4,974.9 L989.4,974.9 L990.4,975.0 L991.4,975.0 L992.4,975.1 L993.4,975.2 L994.4,975.3 L995.4,975.5 L996.4,975.8 L997.4,976.2 L998.4,976.6 L999.4,976.7 L1000.4,976.6 L1001.4,976.4 L1002.4,976.3 L1003.4,976.0 L1004.4,975.7 L1005.4,975.4 L1006.4,975.5 L1007.4,976.4 L1008.4,977.2 L1009.4,978.1 L1010.4,977.5 L1011.4,976.8 L1012.4,976.1 L1013.4,975.8 L1014.4,975.9 L1015.4,976.1 L1016.4,976.2 L1017.4,976.2 L1018.4,976.2 L1019.4,976.3 L1020.4,976.2 L1021.4,976.0 L1022.4,975.8 L1023.4,975.6 L1024.4,975.8 L1025.4,976.1 L1026.4,976.3 L1027.4,976.4 L1028.4,976.5 L1029.4,976.5 L1030.4,976.5 L1031.4,976.6 L1032.4,976.7 L1033.4,976.7 L1034.4,976.8 L1035.4,976.8 L1036.4,976.8 L1037.4,976.8 L1038.4,976.6 L1039.4,976.3 L1040.4,976.1 L1041.4,975.9 L1042.4,975.8 L1043.4,975.7 L1044.4,975.5 L1045.4,976.1 L1046.4,976.6 L1047.4,977.2 L1048.4,977.3 L1049.4,976.9 L1050.4,976.6 L1051.4,976.2 L1052.4,976.5 L1053.4,976.8 L1054.4,977.2 L1055.4,977.3 L1056.4,977.1 L1057.4,976.9 L1058.4,976.7 L1059.4,977.3 L1060.4,977.9 L1061.4,978.5 L1062.4,978.5 L1063.4,977.7 L1064.4,976.9 L1065.4,976.1 L1066.4,975.6 L1067.4,975.1 L1068.4,974.6 L1069.4,974.5 L1070.4,974.9 L1071.4,975.3 L1072.4,975.6 L1073.4,976.0 L1074.4,976.4 L1075.4,976.8 L1076.4,977.2 L1077.4,977.3 L1078.4,977.5 L1079.4,977.7 L1080.4,977.6 L1081.4,977.6 L1082.4,977.5 L1083.4,977.3 L1083.4,977.3" fill="none" stroke="#4c3c88" stroke-width="8.5" stroke-linejoin="round" stroke-linecap="round" stroke-opacity="0.28"/>
<path d="M186.0,1147.1 L187.0,1147.1 L188.0,1147.1 L189.0,1147.1 L190.0,1147.0 L191.0,1147.0 L192.0,1147.0 L193.0,1147.0 L194.0,1147.0 L195.0,1147.0 L196.0,1147.0 L197.0,1146.9 L198.0,1146.9 L199.0,1146.9 L200.0,1146.9 L201.0,1146.9 L202.0,1146.9 L203.0,1146.9 L204.0,1146.8 L205.0,1146.8 L206.0,1146.8 L207.0,1146.8 L208.0,1146.8 L209.0,1146.8 L210.0,1146.8 L211.0,1146.7 L212.0,1146.7 L213.0,1146.7 L214.0,1146.7 L215.0,1146.7 L216.0,1146.7 L217.0,1146.7 L218.0,1146.6 L219.0,1146.6 L220.0,1146.6 L221.0,1146.6 L222.0,1146.6 L223.0,1146.6 L224.0,1146.6 L225.0,1146.6 L226.0,1146.5 L227.0,1146.5 L228.0,1146.5 L229.0,1146.5 L230.0,1146.5 L231.0,1146.5 L232.0,1146.5 L233.0,1146.5 L234.0,1146.5 L235.0,1146.5 L236.0,1146.4 L237.0,1146.4 L238.0,1146.4 L239.0,1146.4 L240.0,1146.4 L241.0,1146.4 L242.0,1146.4 L243.0,1146.4 L244.0,1146.4 L245.0,1146.4 L246.0,1146.4 L247.0,1146.4 L248.0,1146.4 L249.0,1146.4 L250.0,1146.4 L251.0,1146.3 L252.0,1146.3 L253.0,1146.3 L254.0,1146.3 L255.0,1146.3 L256.0,1146.3 L257.0,1146.3 L258.0,1146.3 L259.0,1146.3 L260.0,1146.3 L261.0,1146.3 L262.0,1146.3 L263.0,1146.3 L264.0,1146.3 L265.0,1146.3 L266.0,1146.3 L267.0,1146.3 L268.0,1146.3 L269.0,1146.3 L270.0,1146.4 L271.0,1146.4 L272.0,1146.4 L273.0,1146.4 L274.0,1146.4 L275.0,1146.4 L276.0,1146.3 L277.0,1146.3 L278.0,1146.3 L279.0,1146.2 L280.0,1146.1 L281.0,1146.1 L282.0,1146.0 L283.0,1145.8 L284.0,1145.7 L284.9,1145.6 L285.9,1145.4 L286.9,1145.2 L287.9,1145.0 L288.9,1144.8 L289.9,1144.6 L290.8,1144.5 L291.8,1144.3 L292.8,1144.1 L293.8,1143.9 L294.8,1143.8 L295.8,1143.6 L296.8,1143.5 L297.8,1143.4 L298.7,1143.2 L299.7,1143.1 L300.7,1142.9 L301.7,1142.7 L302.7,1142.6 L303.7,1142.4 L304.6,1142.1 L305.6,1141.9 L306.6,1141.7 L307.5,1141.4 L308.5,1141.1 L309.5,1140.8 L310.4,1140.5 L311.4,1140.2 L312.3,1139.8 L313.2,1139.5 L314.1,1139.1 L315.0,1138.6 L315.9,1138.2 L316.8,1137.7 L317.7,1137.2 L318.5,1136.7 L319.4,1136.2 L320.2,1135.6 L321.0,1135.1 L321.9,1134.5 L322.7,1134.0 L323.5,1133.4 L324.3,1132.8 L325.2,1132.3 L326.0,1131.7 L326.8,1131.1 L327.6,1130.5 L328.4,1129.9 L329.2,1129.3 L329.9,1128.6 L330.6,1127.9 L331.3,1127.2 L331.9,1126.4 L332.4,1125.6 L332.9,1124.7 L333.4,1123.9 L333.9,1123.0 L334.3,1122.1 L334.7,1121.2 L335.1,1120.3 L335.5,1119.3 L335.9,1118.4 L336.2,1117.5 L336.6,1116.5 L336.9,1115.6 L337.3,1114.7 L337.7,1113.7 L338.0,1112.8 L338.4,1111.9 L338.8,1111.0 L339.1,1110.0 L339.5,1109.1 L339.9,1108.2 L340.3,1107.2 L340.6,1106.3 L341.0,1105.4 L341.4,1104.5 L341.8,1103.5 L342.2,1102.6 L342.5,1101.7 L342.9,1100.8 L343.3,1099.8 L343.6,1098.9 L344.0,1098.0 L344.3,1097.0 L344.6,1096.1 L344.9,1095.1 L345.3,1094.2 L345.5,1093.2 L345.8,1092.3 L346.1,1091.3 L346.4,1090.3 L346.6,1089.4 L346.9,1088.4 L347.2,1087.4 L347.4,1086.5 L347.7,1085.5 L347.9,1084.5 L348.2,1083.6 L348.4,1082.6 L348.7,1081.6 L348.9,1080.7 L349.2,1079.7 L349.5,1078.7 L349.7,1077.8 L350.0,1076.8 L350.3,1075.9 L350.7,1074.9 L351.0,1074.0 L351.3,1073.0 L351.7,1072.1 L352.0,1071.2 L352.4,1070.3 L352.8,1069.4 L353.3,1068.5 L353.8,1067.6 L354.3,1066.7 L354.8,1065.9 L355.3,1065.0 L355.9,1064.2 L356.5,1063.4 L357.0,1062.6 L357.6,1061.8 L358.2,1060.9 L358.8,1060.1 L359.4,1059.3 L359.9,1058.5 L360.4,1057.6 L361.0,1056.8 L361.4,1055.9 L361.9,1055.0 L362.3,1054.1 L362.7,1053.2 L363.2,1052.3 L363.5,1051.4 L363.9,1050.5 L364.3,1049.5 L364.7,1048.6 L365.1,1047.7 L365.4,1046.8 L365.8,1045.8 L366.2,1044.9 L366.6,1044.0 L367.0,1043.1 L367.3,1042.1 L367.7,1041.2 L368.1,1040.3 L368.5,1039.4 L368.9,1038.4 L369.3,1037.5 L369.7,1036.6 L370.1,1035.7 L370.5,1034.8 L370.9,1033.9 L371.3,1032.9 L371.7,1032.0 L372.1,1031.1 L372.6,1030.2 L373.0,1029.3 L373.5,1028.4 L373.9,1027.6 L374.4,1026.7 L374.8,1025.8 L375.3,1024.9 L375.8,1024.0 L376.3,1023.2 L376.9,1022.4 L377.4,1021.5 L378.0,1020.7 L378.6,1019.9 L379.3,1019.2 L379.9,1018.4 L380.6,1017.7 L381.4,1017.1 L382.1,1016.4 L382.9,1015.8 L383.7,1015.2 L384.5,1014.7 L385.4,1014.1 L386.2,1013.6 L387.1,1013.1 L388.0,1012.7 L388.9,1012.2 L389.7,1011.7 L390.6,1011.1 L391.4,1010.6 L392.2,1010.0 L393.0,1009.5 L393.8,1008.9 L394.6,1008.2 L395.4,1007.6 L396.2,1007.0 L397.0,1006.4 L397.8,1005.8 L398.6,1005.2 L399.4,1004.6 L400.2,1004.0 L401.0,1003.4 L401.8,1002.8 L402.6,1002.2 L403.4,1001.6 L404.2,1001.0 L404.9,1000.3 L405.7,999.7 L406.4,999.0 L407.1,998.3 L407.8,997.6 L408.5,996.9 L409.2,996.2 L409.9,995.4 L410.7,994.7 L411.4,994.1 L412.1,993.4 L412.9,992.7 L413.6,992.1 L414.4,991.4 L415.1,990.8 L415.9,990.1 L416.7,989.5 L417.5,988.9 L418.3,988.3 L419.1,987.7 L419.9,987.1 L420.7,986.6 L421.6,986.0 L422.4,985.5 L423.2,984.9 L424.1,984.4 L424.9,983.9 L425.8,983.4 L426.7,982.9 L427.6,982.4 L428.4,981.9 L429.3,981.4 L430.2,980.9 L431.1,980.5 L431.9,980.0 L432.8,979.6 L433.7,979.1 L434.6,978.7 L435.5,978.3 L436.5,977.9 L437.4,977.5 L438.3,977.2 L439.3,976.8 L440.2,976.5 L441.2,976.2 L442.1,975.9 L443.1,975.6 L444.0,975.2 L445.0,974.8 L446.0,974.3 L446.9,974.2 L447.9,974.2 L448.9,974.3 L449.9,974.3 L450.9,974.1 L451.9,973.9 L452.8,973.8 L453.8,973.8 L454.8,973.8 L455.8,973.8 L456.8,973.8 L457.8,973.9 L458.8,974.0 L459.8,974.1 L460.8,973.9 L461.8,973.7 L462.8,973.4 L463.8,973.2 L464.8,973.0 L465.8,972.8 L466.8,972.6 L467.8,973.0 L468.8,973.7 L469.8,974.4 L470.8,974.8 L471.8,974.9 L472.8,975.0 L473.7,975.1 L474.7,974.9 L475.7,974.7 L476.6,974.6 L477.6,974.5 L478.5,974.8 L479.5,975.1 L480.4,975.5 L481.3,976.0 L482.3,976.8 L483.2,977.6 L484.1,978.4 L484.9,979.1 L485.8,979.7 L486.7,980.2 L487.5,980.8 L488.4,981.0 L489.3,981.0 L490.1,980.9 L491.0,980.9 L491.9,981.2 L492.7,982.0 L493.6,982.8 L494.5,983.6 L495.3,984.3 L496.2,984.8 L497.0,985.2 L497.9,985.7 L498.8,986.2 L499.6,986.7 L500.5,987.2 L501.5,987.7 L502.4,988.2 L503.3,988.6 L504.3,989.0 L505.3,989.2 L506.2,989.5 L507.2,989.8 L508.2,989.9 L509.1,989.9 L510.1,988.9 L511.0,987.8 L512.0,986.8 L512.9,986.3 L513.8,986.5 L514.7,986.8 L515.7,987.0 L516.6,986.8 L517.5,986.3 L518.4,985.7 L519.3,985.2 L520.2,985.0 L521.1,984.9 L522.0,984.8 L522.9,984.6 L523.8,983.7 L524.8,982.7 L525.7,981.8 L526.6,980.9 L527.5,980.6 L528.5,980.3 L529.4,980.1 L530.4,979.9 L531.3,979.8 L532.3,979.7 L533.2,979.6 L534.2,979.3 L535.2,978.9 L536.2,978.6 L537.1,978.3 L538.1,978.5 L539.1,978.7 L540.1,978.9 L541.1,978.7 L542.1,978.2 L543.1,977.7 L544.1,977.2 L545.1,977.3 L546.1,977.4 L547.0,977.4 L548.0,977.3 L549.0,977.1 L550.0,976.9 L551.0,976.6 L552.0,976.2 L553.0,975.7 L554.0,975.3 L555.0,975.2 L556.0,975.6 L557.0,976.0 L558.0,976.3 L559.0,975.8 L560.0,975.3 L561.0,974.8 L562.0,974.6 L563.0,974.6 L564.0,974.7 L565.0,974.7 L565.9,974.5 L566.9,974.4 L567.9,974.2 L568.9,974.2 L569.9,974.3 L570.9,974.4 L571.9,974.6 L572.9,974.0 L573.9,973.4 L574.9,972.9 L575.9,972.8 L576.9,973.5 L577.9,974.3 L578.9,975.0 L579.9,974.9 L580.9,974.8 L581.9,974.7 L582.9,974.5 L583.9,974.3 L584.9,974.1 L585.9,973.9 L586.9,973.7 L587.9,973.4 L588.9,973.1 L589.9,972.9 L590.9,972.9 L591.9,972.9 L592.9,972.8 L593.9,973.1 L594.9,973.3 L595.9,973.6 L596.9,973.7 L597.9,973.5 L598.9,973.4 L599.9,973.3 L600.9,973.5 L601.9,973.8 L602.9,974.0 L603.9,974.3 L604.9,974.4 L605.9,974.5 L606.9,974.7 L607.9,974.8 L608.9,974.9 L609.9,975.0 L610.9,975.0 L611.9,974.9 L612.9,974.8 L613.9,974.7 L614.9,974.4 L615.9,974.1 L616.9,973.9 L617.9,974.0 L618.9,974.9 L619.9,975.7 L620.9,976.5 L621.9,976.7 L622.9,976.8 L623.9,976.9 L624.9,976.6 L625.9,975.9 L626.9,975.2 L627.9,974.5 L628.9,974.6 L629.9,974.8 L630.9,975.0 L631.9,975.5 L632.9,976.3 L633.9,977.1 L634.9,977.9 L635.9,977.9 L636.9,977.8 L637.9,977.7 L638.8,977.5 L639.8,977.3 L640.8,977.0 L641.8,976.8 L642.8,976.9 L643.8,977.2 L644.8,977.5 L645.8,977.5 L646.8,977.1 L647.8,976.6 L648.8,976.1 L649.8,976.4 L650.8,976.9 L651.7,977.5 L652.7,978.0 L653.7,978.4 L654.7,978.9 L655.7,979.4 L656.7,979.0 L657.7,978.2 L658.7,977.4 L659.7,976.9 L660.7,977.8 L661.7,978.6 L662.7,979.4 L663.7,979.4 L664.7,979.0 L665.7,978.6 L666.7,978.4 L667.7,979.3 L668.7,980.1 L669.7,981.0 L670.7,980.7 L671.7,979.9 L672.7,979.0 L673.6,978.2 L674.6,978.1 L675.6,978.0 L676.6,977.9 L677.6,977.8 L678.6,977.9 L679.6,977.9 L680.6,977.8 L681.6,977.6 L682.5,977.4 L683.5,977.2 L684.5,977.1 L685.5,977.1 L686.4,977.1 L687.4,977.1 L688.4,977.2 L689.4,977.3 L690.3,977.4 L691.3,977.1 L692.3,976.3 L693.3,975.4 L694.3,974.6 L695.3,974.5 L696.3,974.7 L697.3,974.9 L698.3,975.1 L699.3,975.4 L700.3,975.7 L701.2,976.1 L702.2,976.0 L703.2,975.7 L704.2,975.5 L705.2,975.4 L706.2,976.1 L707.1,976.8 L708.1,977.5 L709.1,977.9 L710.0,978.1 L711.0,978.3 L712.0,978.5 L712.9,978.8 L713.9,979.1 L714.9,979.3 L715.8,979.5 L716.8,979.6 L717.8,979.7 L718.7,979.8 L719.7,980.1 L720.7,980.5 L721.7,980.9 L722.7,981.2 L723.7,981.5 L724.7,981.8 L725.7,982.0 L726.7,981.9 L727.7,981.6 L728.7,981.2 L729.7,980.9 L730.7,981.3 L731.7,981.7 L732.7,982.1 L733.7,982.1 L734.7,981.8 L735.7,981.5 L736.7,981.1 L737.7,980.6 L738.7,980.0 L739.7,979.5 L740.7,979.8 L741.7,980.6 L742.7,981.4 L743.7,982.0 L744.7,981.7 L745.7,981.4 L746.6,981.1 L747.6,981.1 L748.6,981.3 L749.6,981.6 L750.6,981.7 L751.6,981.2 L752.6,980.6 L753.6,980.1 L754.6,980.0 L755.6,980.1 L756.6,980.2 L757.6,980.3 L758.6,980.1 L759.6,979.9 L760.6,979.7 L761.6,979.5 L762.6,979.2 L763.6,979.0 L764.6,978.8 L765.6,979.3 L766.6,979.7 L767.6,980.2 L768.6,980.6 L769.6,980.9 L770.6,981.3 L771.6,981.5 L772.6,981.1 L773.6,980.7 L774.6,980.3 L775.6,980.1 L776.6,980.0 L777.6,979.8 L778.6,979.7 L779.6,979.6 L780.6,979.5 L781.6,979.3 L782.6,979.2 L783.6,979.0 L784.6,978.8 L785.6,978.7 L786.6,979.1 L787.6,979.6 L788.6,980.0 L789.6,980.2 L790.6,980.3 L791.6,980.4 L792.6,980.4 L793.6,980.2 L794.6,979.9 L795.6,979.6 L796.6,979.5 L797.6,979.4 L798.6,979.4 L799.6,979.4 L800.6,979.3 L801.6,979.3 L802.6,979.2 L803.6,979.1 L804.6,979.0 L805.6,978.8 L806.6,978.8 L807.6,979.5 L808.6,980.2 L809.6,980.8 L810.6,981.0 L811.6,980.8 L812.6,980.6 L813.6,980.4 L814.6,980.2 L815.6,980.0 L816.6,979.8 L817.6,979.5 L818.6,979.1 L819.6,978.8 L820.6,978.5 L821.6,978.7 L822.6,978.9 L823.6,979.1 L824.6,979.4 L825.6,979.8 L826.6,980.2 L827.6,980.6 L828.6,980.5 L829.6,980.5 L830.6,980.5 L831.6,980.8 L832.6,981.2 L833.6,981.7 L834.6,982.0 L835.6,981.5 L836.6,981.0 L837.6,980.5 L838.6,980.1 L839.6,979.9 L840.6,979.7 L841.6,979.5 L842.6,979.4 L843.6,979.3 L844.6,979.3 L845.6,978.9 L846.6,978.4 L847.6,977.9 L848.6,977.5 L849.6,978.2 L850.6,979.0 L851.6,979.7 L852.6,979.5 L853.6,978.7 L854.6,978.0 L855.6,977.4 L856.6,977.9 L857.6,978.3 L858.6,978.7 L859.6,978.8 L860.6,978.7 L861.6,978.6 L862.6,978.6 L863.6,978.8 L864.6,979.0 L865.6,979.2 L866.6,979.3 L867.6,979.4 L868.6,979.4 L869.6,979.4 L870.6,979.4 L871.6,979.4 L872.6,979.4 L873.6,979.4 L874.6,979.3 L875.6,979.3 L876.6,979.2 L877.6,979.0 L878.6,978.8 L879.6,978.6 L880.6,978.6 L881.6,978.7 L882.6,978.9 L883.6,979.0 L884.6,978.9 L885.6,978.7 L886.6,978.6 L887.6,978.3 L888.6,977.9 L889.6,977.5 L890.6,977.2 L891.6,977.6 L892.6,978.0 L893.6,978.4 L894.6,978.4 L895.6,978.0 L896.6,977.7 L897.6,977.4 L898.6,977.5 L899.6,977.7 L900.6,977.8 L901.6,977.9 L902.6,977.9 L903.6,977.9 L904.6,977.9 L905.6,977.4 L906.6,977.0 L907.6,976.6 L908.6,976.2 L909.5,975.9 L910.5,975.5 L911.5,975.2 L912.5,975.6 L913.5,976.1 L914.5,976.5 L915.5,976.5 L916.5,976.0 L917.5,975.5 L918.5,975.0 L919.5,975.0 L920.5,975.0 L921.5,975.0 L922.5,975.1 L923.5,975.4 L924.5,975.6 L925.5,975.8 L926.5,975.4 L927.5,975.0 L928.5,974.5 L929.5,974.4 L930.5,974.5 L931.5,974.7 L932.5,974.9 L933.5,975.0 L934.5,975.1 L935.5,975.2 L936.5,975.1 L937.5,974.7 L938.5,974.3 L939.5,973.9 L940.5,973.9 L941.5,974.0 L942.5,974.1 L943.5,974.3 L944.5,974.5 L945.5,974.7 L946.5,974.9 L947.5,975.2 L948.5,975.5 L949.5,975.8 L950.5,975.6 L951.5,974.9 L952.5,974.2 L953.5,973.5 L954.5,974.1 L955.5,974.8 L956.4,975.4 L957.4,975.9 L958.4,975.9 L959.4,976.0 L960.4,976.1 L961.4,975.7 L962.4,975.4 L963.4,975.0 L964.4,974.9 L965.4,975.0 L966.4,975.1 L967.4,975.2 L968.4,974.8 L969.4,974.4 L970.4,974.0 L971.4,974.1 L972.4,974.8 L973.4,975.5 L974.4,976.2 L975.4,975.9 L976.4,975.6 L977.4,975.2 L978.4,975.1 L979.4,975.4 L980.4,975.6 L981.4,975.9 L982.4,975.5 L983.4,975.1 L984.4,974.7 L985.4,974.7 L986.4,975.4 L987.4,976.0 L988.4,976.7 L989.4,976.3 L990.4,975.9 L991.4,975.4 L992.4,975.3 L993.4,975.4 L994.4,975.6 L995.4,975.8 L996.4,976.0 L997.4,976.3 L998.4,976.6 L999.4,976.7 L1000.4,976.5 L1001.4,976.4 L1002.4,976.2 L1003.4,975.9 L1004.4,975.7 L1005.4,975.4 L1006.4,975.3 L1007.4,975.6 L1008.4,975.9 L1009.4,976.1 L1010.4,976.3 L1011.4,976.4 L1012.4,976.6 L1013.4,976.6 L1014.4,976.5 L1015.4,976.3 L1016.4,976.2 L1017.4,976.2 L1018.4,976.3 L1019.4,976.3 L1020.4,976.3 L1021.4,976.2 L1022.4,976.1 L1023.4,976.0 L1024.4,976.1 L1025.4,976.1 L1026.4,976.1 L1027.4,976.1 L1028.4,976.2 L1029.4,976.2 L1030.4,976.2 L1031.4,976.1 L1032.4,975.8 L1033.4,975.6 L1034.4,975.7 L1035.4,976.1 L1036.4,976.4 L1037.4,976.8 L1038.4,976.9 L1039.4,976.9 L1040.4,976.9 L1041.4,976.8 L1042.4,976.5 L1043.4,976.2 L1044.4,975.9 L1045.4,975.9 L1046.4,975.8 L1047.4,975.8 L1048.4,975.8 L1049.4,975.8 L1050.4,975.8 L1051.4,975.9 L1052.4,975.8 L1053.4,975.7 L1054.4,975.7 L1055.4,975.7 L1056.4,975.9 L1057.4,976.1 L1058.4,976.4 L1059.4,976.5 L1060.4,976.6 L1061.4,976.7 L1062.4,976.8 L1063.4,976.7 L1064.4,976.6 L1065.4,976.6 L1066.4,976.6 L1067.4,976.7 L1068.4,976.8 L1069.4,976.6 L1070.4,976.1 L1071.4,975.5 L1072.4,975.0 L1073.4,975.4 L1074.4,975.9 L1075.4,976.4 L1076.4,976.5 L1077.4,976.2 L1078.4,975.9 L1079.4,975.5 L1080.4,975.5 L1081.4,975.6 L1082.4,975.7 L1083.4,975.6 L1083.4,975.6" fill="none" stroke="#6c5ca8" stroke-width="4.2" stroke-linejoin="round" stroke-linecap="round"/>
<path d="M186.0,1147.1 L187.0,1147.1 L188.0,1147.1 L189.0,1147.1 L190.0,1147.0 L191.0,1147.0 L192.0,1147.0 L193.0,1147.0 L194.0,1147.0 L195.0,1147.0 L196.0,1147.0 L197.0,1146.9 L198.0,1146.9 L199.0,1146.9 L200.0,1146.9 L201.0,1146.9 L202.0,1146.9 L203.0,1146.9 L204.0,1146.8 L205.0,1146.8 L206.0,1146.8 L207.0,1146.8 L208.0,1146.8 L209.0,1146.8 L210.0,1146.8 L211.0,1146.7 L212.0,1146.7 L213.0,1146.7 L214.0,1146.7 L215.0,1146.7 L216.0,1146.7 L217.0,1146.7 L218.0,1146.6 L219.0,1146.6 L220.0,1146.6 L221.0,1146.6 L222.0,1146.6 L223.0,1146.6 L224.0,1146.6 L225.0,1146.6 L226.0,1146.5 L227.0,1146.5 L228.0,1146.5 L229.0,1146.5 L230.0,1146.5 L231.0,1146.5 L232.0,1146.5 L233.0,1146.5 L234.0,1146.5 L235.0,1146.5 L236.0,1146.4 L237.0,1146.4 L238.0,1146.4 L239.0,1146.4 L240.0,1146.4 L241.0,1146.4 L242.0,1146.4 L243.0,1146.4 L244.0,1146.4 L245.0,1146.4 L246.0,1146.4 L247.0,1146.4 L248.0,1146.4 L249.0,1146.4 L250.0,1146.4 L251.0,1146.3 L252.0,1146.3 L253.0,1146.3 L254.0,1146.3 L255.0,1146.3 L256.0,1146.3 L257.0,1146.3 L258.0,1146.3 L259.0,1146.3 L260.0,1146.3 L261.0,1146.3 L262.0,1146.3 L263.0,1146.3 L264.0,1146.3 L265.0,1146.3 L266.0,1146.3 L267.0,1146.3 L268.0,1146.3 L269.0,1146.3 L270.0,1146.4 L271.0,1146.4 L272.0,1146.4 L273.0,1146.4 L274.0,1146.4 L275.0,1146.4 L276.0,1146.3 L277.0,1146.3 L278.0,1146.3 L279.0,1146.2 L280.0,1146.1 L281.0,1146.1 L282.0,1146.0 L283.0,1145.8 L284.0,1145.7 L284.9,1145.6 L285.9,1145.4 L286.9,1145.2 L287.9,1145.0 L288.9,1144.8 L289.9,1144.6 L290.8,1144.5 L291.8,1144.3 L292.8,1144.1 L293.8,1143.9 L294.8,1143.8 L295.8,1143.6 L296.8,1143.5 L297.8,1143.4 L298.7,1143.2 L299.7,1143.1 L300.7,1142.9 L301.7,1142.7 L302.7,1142.6 L303.7,1142.4 L304.6,1142.1 L305.6,1141.9 L306.6,1141.7 L307.5,1141.4 L308.5,1141.1 L309.5,1140.8 L310.4,1140.5 L311.4,1140.2 L312.3,1139.8 L313.2,1139.5 L314.1,1139.1 L315.0,1138.6 L315.9,1138.2 L316.8,1137.7 L317.7,1137.2 L318.5,1136.7 L319.4,1136.2 L320.2,1135.6 L321.0,1135.1 L321.9,1134.5 L322.7,1134.0 L323.5,1133.4 L324.3,1132.8 L325.2,1132.3 L326.0,1131.7 L326.8,1131.1 L327.6,1130.5 L328.4,1129.9 L329.2,1129.3 L329.9,1128.6 L330.6,1127.9 L331.3,1127.2 L331.9,1126.4 L332.4,1125.6 L332.9,1124.7 L333.4,1123.9 L333.9,1123.0 L334.3,1122.1 L334.7,1121.2 L335.1,1120.3 L335.5,1119.3 L335.9,1118.4 L336.2,1117.5 L336.6,1116.5 L336.9,1115.6 L337.3,1114.7 L337.7,1113.7 L338.0,1112.8 L338.4,1111.9 L338.8,1111.0 L339.1,1110.0 L339.5,1109.1 L339.9,1108.2 L340.3,1107.2 L340.6,1106.3 L341.0,1105.4 L341.4,1104.5 L341.8,1103.5 L342.2,1102.6 L342.5,1101.7 L342.9,1100.8 L343.3,1099.8 L343.6,1098.9 L344.0,1098.0 L344.3,1097.0 L344.6,1096.1 L344.9,1095.1 L345.3,1094.2 L345.5,1093.2 L345.8,1092.3 L346.1,1091.3 L346.4,1090.3 L346.6,1089.4 L346.9,1088.4 L347.2,1087.4 L347.4,1086.5 L347.7,1085.5 L347.9,1084.5 L348.2,1083.6 L348.4,1082.6 L348.7,1081.6 L348.9,1080.7 L349.2,1079.7 L349.5,1078.7 L349.7,1077.8 L350.0,1076.8 L350.3,1075.9 L350.7,1074.9 L351.0,1074.0 L351.3,1073.0 L351.7,1072.1 L352.0,1071.2 L352.4,1070.3 L352.8,1069.4 L353.3,1068.5 L353.8,1067.6 L354.3,1066.7 L354.8,1065.9 L355.3,1065.0 L355.9,1064.2 L356.5,1063.4 L357.0,1062.6 L357.6,1061.8 L358.2,1060.9 L358.8,1060.1 L359.4,1059.3 L359.9,1058.5 L360.4,1057.6 L361.0,1056.8 L361.4,1055.9 L361.9,1055.0 L362.3,1054.1 L362.7,1053.2 L363.2,1052.3 L363.5,1051.4 L363.9,1050.5 L364.3,1049.5 L364.7,1048.6 L365.1,1047.7 L365.4,1046.8 L365.8,1045.8 L366.2,1044.9 L366.6,1044.0 L367.0,1043.1 L367.3,1042.1 L367.7,1041.2 L368.1,1040.3 L368.5,1039.4 L368.9,1038.4 L369.3,1037.5 L369.7,1036.6 L370.1,1035.7 L370.5,1034.8 L370.9,1033.9 L371.3,1032.9 L371.7,1032.0 L372.1,1031.1 L372.6,1030.2 L373.0,1029.3 L373.5,1028.4 L373.9,1027.6 L374.4,1026.7 L374.8,1025.8 L375.3,1024.9 L375.8,1024.0 L376.3,1023.2 L376.9,1022.4 L377.4,1021.5 L378.0,1020.7 L378.6,1019.9 L379.3,1019.2 L379.9,1018.4 L380.6,1017.7 L381.4,1017.1 L382.1,1016.4 L382.9,1015.8 L383.7,1015.2 L384.5,1014.7 L385.4,1014.1 L386.2,1013.6 L387.1,1013.1 L388.0,1012.7 L388.9,1012.2 L389.7,1011.7 L390.6,1011.1 L391.4,1010.6 L392.2,1010.0 L393.0,1009.5 L393.8,1008.9 L394.6,1008.2 L395.4,1007.6 L396.2,1007.0 L397.0,1006.4 L397.8,1005.8 L398.6,1005.2 L399.4,1004.6 L400.2,1004.0 L401.0,1003.4 L401.8,1002.8 L402.6,1002.2 L403.4,1001.6 L404.2,1001.0 L404.9,1000.3 L405.7,999.7 L406.4,999.0 L407.1,998.3 L407.8,997.6 L408.5,996.9 L409.2,996.2 L409.9,995.4 L410.7,994.7 L411.4,994.1 L412.1,993.4 L412.9,992.7 L413.6,992.1 L414.4,991.4 L415.1,990.8 L415.9,990.1 L416.7,989.5 L417.5,988.9 L418.3,988.3 L419.1,987.7 L419.9,987.1 L420.7,986.6 L421.6,986.0 L422.4,985.5 L423.2,984.9 L424.1,984.4 L424.9,983.9 L425.8,983.4 L426.7,982.9 L427.6,982.4 L428.4,981.9 L429.3,981.4 L430.2,980.9 L431.1,980.5 L431.9,980.0 L432.8,979.6 L433.7,979.1 L434.6,978.7 L435.5,978.3 L436.5,977.9 L437.4,977.5 L438.3,977.2 L439.3,976.8 L440.2,976.5 L441.2,976.2 L442.1,975.7 L443.1,975.3 L444.0,975.0 L445.0,974.8 L446.0,974.7 L446.9,974.5 L447.9,974.4 L448.9,974.4 L449.9,974.3 L450.9,974.0 L451.9,973.8 L452.8,973.6 L453.8,973.5 L454.8,973.5 L455.8,973.5 L456.8,973.6 L457.8,973.9 L458.8,974.3 L459.8,974.6 L460.8,974.2 L461.8,973.6 L462.8,973.1 L463.8,972.7 L464.8,972.7 L465.8,972.6 L466.8,972.6 L467.8,972.6 L468.8,972.7 L469.8,972.8 L470.8,973.1 L471.8,973.8 L472.8,974.5 L473.7,975.2 L474.7,975.1 L475.7,974.8 L476.6,974.5 L477.6,974.3 L478.5,975.0 L479.5,975.7 L480.4,976.4 L481.3,976.9 L482.3,976.8 L483.2,976.8 L484.1,976.9 L484.9,977.4 L485.8,978.5 L486.7,979.5 L487.5,980.6 L488.4,981.3 L489.3,981.7 L490.1,982.2 L491.0,982.6 L491.9,983.0 L492.7,983.3 L493.6,983.7 L494.5,984.0 L495.3,984.6 L496.2,985.4 L497.0,986.3 L497.9,987.1 L498.8,987.8 L499.6,988.4 L500.5,988.9 L501.5,989.3 L502.4,989.5 L503.3,989.5 L504.3,989.4 L505.3,989.2 L506.2,989.5 L507.2,989.9 L508.2,990.1 L509.1,990.2 L510.1,989.6 L511.0,989.0 L512.0,988.3 L512.9,987.8 L513.8,987.6 L514.7,987.4 L515.7,987.2 L516.6,986.7 L517.5,986.0 L518.4,985.3 L519.3,984.6 L520.2,984.1 L521.1,983.7 L522.0,983.2 L522.9,982.7 L523.8,982.1 L524.8,981.4 L525.7,980.7 L526.6,980.1 L527.5,980.0 L528.5,979.8 L529.4,979.7 L530.4,979.5 L531.3,979.0 L532.3,978.5 L533.2,978.0 L534.2,977.7 L535.2,977.4 L536.2,977.1 L537.1,976.9 L538.1,976.9 L539.1,977.0 L540.1,977.1 L541.1,976.7 L542.1,976.1 L543.1,975.4 L544.1,974.8 L545.1,975.7 L546.1,976.7 L547.0,977.6 L548.0,977.7 L549.0,977.1 L550.0,976.5 L551.0,976.0 L552.0,975.4 L553.0,974.8 L554.0,974.3 L555.0,974.0 L556.0,974.1 L557.0,974.2 L558.0,974.2 L559.0,974.3 L560.0,974.4 L561.0,974.5 L562.0,974.5 L563.0,974.4 L564.0,974.3 L565.0,974.2 L565.9,974.3 L566.9,974.4 L567.9,974.5 L568.9,974.4 L569.9,974.1 L570.9,973.8 L571.9,973.6 L572.9,973.8 L573.9,974.1 L574.9,974.3 L575.9,974.4 L576.9,974.2 L577.9,974.0 L578.9,973.8 L579.9,973.6 L580.9,973.4 L581.9,973.2 L582.9,973.1 L583.9,973.1 L584.9,973.1 L585.9,973.2 L586.9,973.2 L587.9,973.2 L588.9,973.3 L589.9,973.4 L590.9,973.6 L591.9,973.8 L592.9,974.0 L593.9,974.0 L594.9,974.0 L595.9,974.0 L596.9,973.7 L597.9,973.2 L598.9,972.6 L599.9,972.0 L600.9,972.4 L601.9,973.0 L602.9,973.5 L603.9,973.7 L604.9,973.4 L605.9,973.2 L606.9,973.0 L607.9,973.8 L608.9,974.8 L609.9,975.8 L610.9,976.2 L611.9,975.7 L612.9,975.3 L613.9,974.8 L614.9,974.8 L615.9,974.8 L616.9,974.8 L617.9,974.6 L618.9,974.2 L619.9,973.7 L620.9,973.3 L621.9,973.3 L622.9,973.3 L623.9,973.4 L624.9,973.7 L625.9,974.4 L626.9,975.1 L627.9,975.8 L628.9,975.9 L629.9,975.9 L630.9,975.9 L631.9,975.8 L632.9,975.5 L633.9,975.2 L634.9,974.9 L635.9,975.0 L636.9,975.2 L637.9,975.4 L638.8,975.7 L639.8,976.2 L640.8,976.8 L641.8,977.3 L642.8,977.2 L643.8,977.1 L644.8,976.9 L645.8,976.7 L646.8,976.6 L647.8,976.4 L648.8,976.2 L649.8,976.4 L650.8,976.6 L651.7,976.8 L652.7,977.0 L653.7,977.2 L654.7,977.5 L655.7,977.7 L656.7,977.9 L657.7,978.1 L658.7,978.3 L659.7,978.5 L660.7,978.6 L661.7,978.8 L662.7,978.9 L663.7,978.8 L664.7,978.6 L665.7,978.4 L666.7,978.2 L667.7,978.7 L668.7,979.1 L669.7,979.5 L670.7,979.8 L671.7,979.9 L672.7,980.1 L673.6,980.2 L674.6,980.1 L675.6,979.9 L676.6,979.7 L677.6,979.3 L678.6,978.8 L679.6,978.2 L680.6,977.7 L681.6,977.8 L682.5,977.9 L683.5,977.9 L684.5,977.6 L685.5,977.1 L686.4,976.5 L687.4,976.0 L688.4,976.3 L689.4,976.8 L690.3,977.3 L691.3,977.4 L692.3,976.8 L693.3,976.2 L694.3,975.6 L695.3,975.4 L696.3,975.4 L697.3,975.5 L698.3,975.5 L699.3,975.2 L700.3,975.0 L701.2,974.8 L702.2,975.5 L703.2,976.5 L704.2,977.5 L705.2,978.3 L706.2,978.2 L707.1,978.0 L708.1,977.9 L709.1,977.9 L710.0,977.9 L711.0,977.9 L712.0,977.9 L712.9,978.0 L713.9,978.2 L714.9,978.3 L715.8,978.6 L716.8,979.3 L717.8,980.0 L718.7,980.7 L719.7,980.7 L720.7,980.4 L721.7,980.1 L722.7,979.8 L723.7,979.9 L724.7,980.0 L725.7,980.0 L726.7,980.1 L727.7,980.3 L728.7,980.4 L729.7,980.6 L730.7,981.2 L731.7,981.7 L732.7,982.3 L733.7,982.0 L734.7,981.4 L735.7,980.8 L736.7,980.3 L737.7,980.2 L738.7,980.2 L739.7,980.2 L740.7,980.4 L741.7,980.8 L742.7,981.1 L743.7,981.3 L744.7,980.8 L745.7,980.2 L746.6,979.7 L747.6,979.9 L748.6,980.7 L749.6,981.4 L750.6,981.9 L751.6,981.3 L752.6,980.7 L753.6,980.1 L754.6,980.1 L755.6,980.3 L756.6,980.6 L757.6,980.9 L758.6,980.9 L759.6,980.9 L760.6,980.9 L761.6,980.6 L762.6,980.3 L763.6,979.9 L764.6,979.5 L765.6,979.3 L766.6,979.0 L767.6,978.7 L768.6,978.9 L769.6,979.3 L770.6,979.7 L771.6,980.0 L772.6,979.7 L773.6,979.5 L774.6,979.2 L775.6,979.2 L776.6,979.5 L777.6,979.7 L778.6,979.9 L779.6,980.2 L780.6,980.5 L781.6,980.8 L782.6,980.6 L783.6,980.0 L784.6,979.5 L785.6,979.1 L786.6,979.7 L787.6,980.2 L788.6,980.8 L789.6,980.9 L790.6,980.7 L791.6,980.5 L792.6,980.2 L793.6,979.6 L794.6,979.0 L795.6,978.4 L796.6,978.7 L797.6,979.5 L798.6,980.2 L799.6,980.9 L800.6,980.7 L801.6,980.5 L802.6,980.4 L803.6,980.1 L804.6,979.9 L805.6,979.7 L806.6,979.5 L807.6,979.6 L808.6,979.7 L809.6,979.8 L810.6,980.2 L811.6,980.8 L812.6,981.4 L813.6,981.8 L814.6,981.1 L815.6,980.3 L816.6,979.5 L817.6,979.3 L818.6,979.5 L819.6,979.7 L820.6,979.9 L821.6,980.3 L822.6,980.7 L823.6,981.2 L824.6,980.9 L825.6,980.4 L826.6,979.8 L827.6,979.3 L828.6,979.3 L829.6,979.2 L830.6,979.2 L831.6,979.3 L832.6,979.4 L833.6,979.5 L834.6,979.6 L835.6,979.4 L836.6,979.1 L837.6,978.9 L838.6,978.9 L839.6,979.0 L840.6,979.1 L841.6,979.2 L842.6,979.2 L843.6,979.2 L844.6,979.2 L845.6,979.4 L846.6,979.6 L847.6,979.9 L848.6,980.1 L849.6,979.9 L850.6,979.8 L851.6,979.7 L852.6,979.4 L853.6,979.1 L854.6,978.8 L855.6,978.5 L856.6,978.6 L857.6,978.8 L858.6,978.9 L859.6,979.2 L860.6,979.5 L861.6,979.8 L862.6,980.0 L863.6,980.1 L864.6,980.1 L865.6,980.2 L866.6,980.2 L867.6,980.1 L868.6,980.0 L869.6,979.9 L870.6,979.3 L871.6,978.7 L872.6,978.1 L873.6,977.7 L874.6,977.5 L875.6,977.3 L876.6,977.2 L877.6,977.9 L878.6,978.5 L879.6,979.1 L880.6,978.9 L881.6,978.1 L882.6,977.3 L883.6,976.7 L884.6,977.2 L885.6,977.7 L886.6,978.1 L887.6,978.4 L888.6,978.4 L889.6,978.5 L890.6,978.5 L891.6,978.3 L892.6,978.0 L893.6,977.8 L894.6,977.8 L895.6,978.0 L896.6,978.2 L897.6,978.4 L898.6,978.0 L899.6,977.5 L900.6,977.1 L901.6,977.0 L902.6,977.2 L903.6,977.3 L904.6,977.4 L905.6,977.4 L906.6,977.5 L907.6,977.5 L908.6,977.6 L909.5,978.0 L910.5,978.3 L911.5,978.6 L912.5,977.8 L913.5,977.0 L914.5,976.3 L915.5,975.4 L916.5,974.6 L917.5,973.8 L918.5,973.0 L919.5,973.6 L920.5,974.3 L921.5,975.0 L922.5,975.2 L923.5,974.8 L924.5,974.3 L925.5,973.9 L926.5,974.5 L927.5,975.2 L928.5,975.9 L929.5,976.1 L930.5,975.6 L931.5,975.2 L932.5,974.8 L933.5,974.6 L934.5,974.5 L935.5,974.3 L936.5,974.2 L937.5,974.1 L938.5,974.1 L939.5,974.0 L940.5,974.4 L941.5,974.9 L942.5,975.4 L943.5,975.6 L944.5,975.3 L945.5,975.0 L946.5,974.7 L947.5,974.9 L948.5,975.0 L949.5,975.2 L950.5,975.3 L951.5,975.2 L952.5,975.2 L953.5,975.1 L954.5,975.2 L955.5,975.3 L956.4,975.3 L957.4,975.5 L958.4,975.7 L959.4,975.9 L960.4,976.1 L961.4,976.0 L962.4,976.0 L963.4,976.0 L964.4,975.8 L965.4,975.5 L966.4,975.2 L967.4,974.9 L968.4,975.4 L969.4,975.9 L970.4,976.4 L971.4,976.2 L972.4,975.1 L973.4,974.1 L974.4,973.0 L975.4,973.2 L976.4,973.5 L977.4,973.9 L978.4,974.2 L979.4,974.7 L980.4,975.1 L981.4,975.5 L982.4,975.8 L983.4,976.0 L984.4,976.2 L985.4,976.4 L986.4,976.4 L987.4,976.4 L988.4,976.5 L989.4,976.3 L990.4,976.1 L991.4,975.9 L992.4,976.0 L993.4,976.5 L994.4,976.9 L995.4,977.3 L996.4,976.7 L997.4,976.0 L998.4,975.3 L999.4,975.1 L1000.4,975.5 L1001.4,975.9 L1002.4,976.3 L1003.4,976.2 L1004.4,976.0 L1005.4,975.8 L1006.4,975.8 L1007.4,976.0 L1008.4,976.2 L1009.4,976.4 L1010.4,976.5 L1011.4,976.6 L1012.4,976.7 L1013.4,976.9 L1014.4,977.3 L1015.4,977.7 L1016.4,978.1 L1017.4,977.4 L1018.4,976.6 L1019.4,975.8 L1020.4,975.5 L1021.4,975.7 L1022.4,976.0 L1023.4,976.3 L1024.4,976.1 L1025.4,975.9 L1026.4,975.7 L1027.4,975.8 L1028.4,976.0 L1029.4,976.3 L1030.4,976.6 L1031.4,976.8 L1032.4,977.1 L1033.4,977.3 L1034.4,977.5 L1035.4,977.7 L1036.4,977.8 L1037.4,977.9 L1038.4,977.7 L1039.4,977.4 L1040.4,977.1 L1041.4,976.9 L1042.4,976.9 L1043.4,976.8 L1044.4,976.7 L1045.4,977.0 L1046.4,977.2 L1047.4,977.5 L1048.4,977.6 L1049.4,977.4 L1050.4,977.1 L1051.4,976.9 L1052.4,976.4 L1053.4,975.9 L1054.4,975.4 L1055.4,975.2 L1056.4,975.5 L1057.4,975.8 L1058.4,976.1 L1059.4,976.7 L1060.4,977.4 L1061.4,978.0 L1062.4,978.2 L1063.4,977.8 L1064.4,977.3 L1065.4,976.9 L1066.4,976.6 L1067.4,976.3 L1068.4,976.0 L1069.4,976.1 L1070.4,976.6 L1071.4,977.1 L1072.4,977.7 L1073.4,977.2 L1074.4,976.7 L1075.4,976.2 L1076.4,976.0 L1077.4,976.1 L1078.4,976.2 L1079.4,976.4 L1080.4,976.6 L1081.4,976.8 L1082.4,977.0 L1083.4,977.0 L1083.4,977.0" fill="none" stroke="#382c66" stroke-width="3.0" stroke-linejoin="round" stroke-linecap="round"/>
<path d="M186.0,1312.0 L187.0,1312.0 L188.0,1312.0 L189.0,1312.0 L190.0,1312.0 L191.0,1312.0 L192.0,1312.0 L193.0,1312.0 L194.0,1311.9 L195.0,1311.9 L196.0,1311.9 L197.0,1311.9 L198.0,1311.9 L199.0,1311.9 L200.0,1311.9 L201.0,1311.9 L202.0,1311.9 L203.0,1311.9 L204.0,1311.9 L205.0,1311.9 L206.0,1311.8 L207.0,1311.8 L208.0,1311.8 L209.0,1311.8 L210.0,1311.8 L211.0,1311.7 L212.0,1311.7 L213.0,1311.7 L214.0,1311.6 L215.0,1311.6 L216.0,1311.6 L217.0,1311.5 L218.0,1311.5 L219.0,1311.4 L220.0,1311.3 L221.0,1311.3 L222.0,1311.2 L223.0,1311.1 L224.0,1311.0 L225.0,1311.0 L226.0,1310.9 L227.0,1310.8 L228.0,1310.7 L229.0,1310.6 L229.9,1310.5 L230.9,1310.4 L231.9,1310.3 L232.9,1310.2 L233.9,1310.0 L234.9,1309.9 L235.9,1309.8 L236.9,1309.7 L237.9,1309.6 L238.9,1309.5 L239.9,1309.3 L240.9,1309.2 L241.9,1309.1 L242.9,1309.0 L243.9,1308.9 L244.8,1308.7 L245.8,1308.6 L246.8,1308.4 L247.8,1308.3 L248.8,1308.1 L249.8,1308.0 L250.8,1307.8 L251.8,1307.7 L252.8,1307.6 L253.8,1307.5 L254.7,1307.4 L255.7,1307.2 L256.7,1307.1 L257.7,1307.0 L258.7,1306.8 L259.7,1306.7 L260.7,1306.5 L261.7,1306.3 L262.6,1306.1 L263.6,1305.8 L264.5,1305.5 L265.4,1305.1 L266.4,1304.7 L267.3,1304.3 L268.2,1303.9 L269.1,1303.6 L270.1,1303.2 L271.0,1302.9 L271.9,1302.6 L272.9,1302.3 L273.9,1302.0 L274.8,1301.8 L275.8,1301.5 L276.8,1301.3 L277.7,1301.1 L278.7,1300.8 L279.7,1300.6 L280.7,1300.3 L281.6,1300.0 L282.6,1299.7 L283.5,1299.4 L284.4,1299.0 L285.4,1298.7 L286.3,1298.2 L287.2,1297.8 L288.1,1297.4 L288.9,1296.9 L289.8,1296.4 L290.7,1295.9 L291.6,1295.2 L292.4,1294.5 L293.3,1294.1 L294.2,1293.8 L295.0,1293.6 L295.9,1293.1 L296.7,1292.1 L297.6,1290.9 L298.5,1289.6 L299.3,1288.5 L300.2,1288.3 L301.0,1288.2 L301.9,1288.1 L302.7,1287.8 L303.5,1287.1 L304.3,1286.3 L305.0,1285.5 L305.6,1284.7 L306.2,1284.0 L306.7,1283.7 L307.2,1283.3 L307.6,1282.8 L308.0,1282.3 L308.4,1281.8 L308.9,1281.4 L309.4,1281.0 L309.9,1280.4 L310.5,1279.6 L311.1,1278.9 L311.8,1278.3 L312.5,1277.7 L313.2,1276.9 L313.9,1275.6 L314.5,1274.4 L315.2,1273.1 L315.7,1271.9 L316.3,1270.6 L316.7,1269.7 L317.1,1269.0 L317.5,1268.2 L317.8,1267.4 L318.2,1266.6 L318.4,1265.8 L318.7,1264.9 L319.0,1264.1 L319.3,1263.3 L319.7,1262.5 L320.0,1261.7 L320.3,1260.6 L320.7,1259.6 L321.1,1258.5 L321.4,1257.4 L321.8,1256.3 L322.2,1255.3 L322.5,1254.2 L322.9,1253.1 L323.3,1252.1 L323.6,1251.1 L324.0,1250.3 L324.5,1249.6 L325.0,1248.9 L325.6,1248.3 L326.2,1247.7 L326.9,1247.3 L327.7,1246.4 L328.5,1245.4 L329.3,1244.4 L330.1,1243.4 L330.9,1242.5 L331.6,1241.6 L332.4,1240.6 L333.1,1239.7 L333.8,1238.7 L334.5,1237.9 L335.1,1237.1 L335.8,1236.4 L336.5,1235.6 L337.1,1234.8 L337.8,1234.3 L338.5,1234.2 L339.2,1234.1 L340.0,1234.2 L340.8,1234.3 L341.7,1234.4 L342.6,1234.6 L343.5,1234.8 L344.4,1235.0 L345.3,1234.1 L346.2,1233.0 L347.1,1231.9 L348.0,1230.8 L348.8,1230.1 L349.7,1229.3 L350.5,1228.4 L351.3,1227.6 L352.0,1227.4 L352.8,1227.5 L353.6,1227.5 L354.4,1227.6 L355.1,1227.5 L355.9,1226.3 L356.7,1225.2 L357.4,1224.1 L358.2,1223.0 L359.0,1222.2 L359.8,1221.5 L360.6,1220.9 L361.4,1220.2 L362.2,1219.6 L362.9,1219.0 L363.7,1218.4 L364.5,1217.8 L365.2,1217.2 L366.0,1216.4 L366.7,1215.7 L367.4,1214.9 L368.1,1214.1 L368.9,1213.3 L369.6,1212.5 L370.3,1211.8 L371.0,1211.0 L371.7,1210.2 L372.3,1209.4 L373.0,1208.5 L373.6,1207.4 L374.2,1206.4 L374.8,1205.4 L375.4,1204.3 L375.9,1203.2 L376.5,1202.7 L377.0,1202.3 L377.6,1201.8 L378.1,1201.4 L378.7,1201.0 L379.3,1200.6 L379.9,1199.9 L380.5,1199.0 L381.2,1198.1 L381.8,1197.2 L382.5,1196.3 L383.2,1195.6 L384.0,1195.3 L384.7,1195.0 L385.5,1194.8 L386.3,1194.5 L387.1,1193.7 L387.9,1192.6 L388.7,1191.5 L389.5,1190.5 L390.3,1189.4 L391.0,1188.3 L391.8,1187.2 L392.5,1186.1 L393.2,1185.0 L394.0,1184.5 L394.7,1184.3 L395.5,1184.2 L396.2,1184.0 L397.0,1183.9 L397.8,1183.8 L398.6,1183.7 L399.4,1183.7 L400.2,1183.7 L401.0,1183.0 L401.9,1181.8 L402.8,1180.6 L403.6,1179.5 L404.5,1178.7 L405.5,1178.1 L406.4,1177.6 L407.3,1177.1 L408.3,1176.8 L409.3,1176.5 L410.2,1176.4 L411.2,1176.3 L412.2,1176.4 L413.2,1176.5 L414.2,1176.7 L415.2,1177.0 L416.2,1177.4 L417.1,1177.7 L418.1,1177.9 L419.1,1177.5 L420.0,1176.9 L420.9,1176.3 L421.8,1176.1 L422.7,1176.5 L423.5,1176.8 L424.4,1177.1 L425.2,1177.1 L426.1,1176.0 L426.9,1174.9 L427.8,1173.8 L428.7,1172.9 L429.6,1172.6 L430.5,1172.4 L431.4,1172.1 L432.3,1172.0 L433.3,1172.1 L434.2,1172.2 L435.1,1172.3 L436.1,1172.1 L437.0,1171.7 L437.9,1171.4 L438.8,1170.9 L439.6,1170.1 L440.5,1169.0 L441.3,1167.9 L442.1,1166.8 L442.9,1166.1 L443.7,1165.6 L444.5,1165.1 L445.3,1164.7 L446.1,1164.3 L446.9,1163.9 L447.7,1163.5 L448.6,1163.3 L449.6,1163.2 L450.5,1162.7 L451.5,1162.3 L452.4,1162.0 L453.4,1161.6 L454.4,1161.1 L455.4,1160.6 L456.4,1160.1 L457.4,1160.8 L458.4,1161.6 L459.3,1162.4 L460.3,1162.8 L461.2,1162.6 L462.2,1162.4 L463.1,1162.1 L464.0,1161.6 L464.9,1161.1 L465.9,1160.5 L466.8,1160.0 L467.7,1159.2 L468.6,1158.4 L469.6,1157.6 L470.5,1156.9 L471.5,1156.9 L472.5,1156.9 L473.4,1156.9 L474.4,1156.8 L475.4,1156.4 L476.4,1156.1 L477.3,1155.7 L478.3,1155.5 L479.3,1155.3 L480.2,1155.2 L481.2,1155.1 L482.1,1155.3 L483.1,1155.6 L484.0,1155.8 L485.0,1155.8 L485.9,1155.6 L486.9,1155.3 L487.8,1155.0 L488.7,1154.5 L489.7,1153.8 L490.6,1153.2 L491.6,1152.6 L492.5,1152.2 L493.5,1151.8 L494.4,1151.5 L495.4,1151.2 L496.3,1150.9 L497.3,1150.7 L498.2,1150.5 L499.2,1150.1 L500.2,1149.6 L501.2,1149.1 L502.1,1148.6 L503.1,1148.4 L504.1,1148.1 L505.0,1147.9 L506.0,1147.5 L507.0,1147.0 L507.9,1146.5 L508.9,1146.0 L509.8,1145.9 L510.8,1145.7 L511.7,1145.6 L512.7,1145.6 L513.6,1146.2 L514.6,1146.7 L515.5,1147.3 L516.5,1147.2 L517.5,1146.5 L518.5,1145.8 L519.5,1145.1 L520.4,1144.5 L521.4,1143.9 L522.4,1143.3 L523.4,1142.9 L524.4,1142.8 L525.4,1142.6 L526.4,1142.5 L527.4,1142.2 L528.4,1142.0 L529.4,1141.7 L530.4,1141.7 L531.4,1142.1 L532.4,1142.5 L533.4,1142.8 L534.4,1142.8 L535.4,1142.7 L536.4,1142.7 L537.4,1142.4 L538.3,1141.6 L539.3,1140.8 L540.3,1140.1 L541.3,1140.5 L542.3,1141.1 L543.3,1141.8 L544.3,1142.1 L545.3,1141.6 L546.3,1141.1 L547.3,1140.7 L548.3,1141.1 L549.3,1141.8 L550.3,1142.5 L551.3,1142.8 L552.3,1142.2 L553.3,1141.7 L554.3,1141.2 L555.3,1141.5 L556.3,1142.0 L557.3,1142.5 L558.3,1142.6 L559.3,1141.8 L560.3,1140.9 L561.3,1140.0 L562.3,1139.9 L563.3,1139.9 L564.3,1139.9 L565.3,1140.0 L566.3,1140.1 L567.3,1140.3 L568.3,1140.5 L569.3,1140.7 L570.3,1141.0 L571.3,1141.2 L572.3,1141.3 L573.3,1141.1 L574.3,1140.9 L575.3,1140.7 L576.3,1140.1 L577.3,1139.4 L578.3,1138.7 L579.3,1138.4 L580.3,1138.9 L581.3,1139.4 L582.3,1139.9 L583.3,1139.9 L584.3,1139.8 L585.3,1139.8 L586.3,1139.7 L587.3,1139.5 L588.3,1139.3 L589.3,1139.1 L590.3,1138.9 L591.3,1138.8 L592.3,1138.7 L593.3,1138.9 L594.3,1139.7 L595.3,1140.6 L596.3,1141.4 L597.3,1141.0 L598.3,1140.1 L599.3,1139.3 L600.3,1138.6 L601.3,1138.4 L602.3,1138.2 L603.3,1137.9 L604.3,1138.2 L605.3,1138.7 L606.3,1139.2 L607.3,1139.4 L608.2,1139.2 L609.2,1138.9 L610.2,1138.6 L611.2,1138.4 L612.2,1138.2 L613.2,1138.0 L614.2,1137.9 L615.2,1138.0 L616.2,1138.2 L617.2,1138.4 L618.2,1138.3 L619.2,1138.1 L620.2,1137.8 L621.2,1137.6 L622.1,1137.4 L623.1,1137.3 L624.1,1137.1 L625.1,1137.1 L626.1,1137.2 L627.1,1137.3 L628.1,1137.3 L629.1,1137.0 L630.1,1136.6 L631.1,1136.3 L632.1,1135.9 L633.1,1135.4 L634.1,1135.0 L635.1,1134.6 L636.1,1134.6 L637.1,1134.7 L638.1,1134.7 L639.1,1134.7 L640.0,1134.5 L641.0,1134.5 L642.0,1134.4 L643.0,1134.6 L644.0,1134.9 L645.0,1135.2 L646.0,1135.1 L647.0,1134.6 L648.0,1134.2 L649.0,1133.7 L650.0,1133.5 L651.0,1133.3 L652.0,1133.0 L653.0,1133.3 L654.0,1134.1 L655.0,1134.9 L656.0,1135.7 L657.0,1135.2 L658.0,1134.8 L659.0,1134.4 L660.0,1134.1 L661.0,1134.0 L662.0,1133.8 L663.0,1133.7 L664.0,1134.7 L665.0,1135.6 L666.0,1136.6 L667.0,1137.0 L668.0,1136.7 L669.0,1136.4 L669.9,1136.2 L670.9,1136.7 L671.9,1137.3 L672.9,1137.8 L673.9,1138.1 L674.9,1137.8 L675.9,1137.6 L676.9,1137.3 L677.9,1137.2 L678.9,1137.1 L679.9,1137.1 L680.9,1137.0 L681.8,1137.1 L682.8,1137.2 L683.8,1137.3 L684.8,1137.6 L685.8,1138.0 L686.8,1138.4 L687.8,1138.7 L688.8,1139.0 L689.8,1139.2 L690.8,1139.4 L691.8,1139.4 L692.7,1139.4 L693.7,1139.3 L694.7,1139.4 L695.7,1139.7 L696.7,1140.1 L697.7,1140.4 L698.7,1140.4 L699.7,1140.1 L700.6,1139.8 L701.6,1139.6 L702.6,1140.3 L703.6,1141.1 L704.6,1141.8 L705.6,1141.8 L706.6,1141.3 L707.6,1140.8 L708.5,1140.3 L709.5,1141.0 L710.5,1141.8 L711.5,1142.5 L712.5,1143.1 L713.5,1143.5 L714.5,1144.0 L715.5,1144.4 L716.5,1144.7 L717.5,1144.9 L718.5,1145.2 L719.5,1145.5 L720.5,1145.8 L721.5,1146.2 L722.4,1146.5 L723.4,1145.5 L724.4,1144.4 L725.4,1143.2 L726.4,1143.0 L727.4,1144.0 L728.4,1144.9 L729.4,1145.9 L730.4,1146.2 L731.4,1146.4 L732.4,1146.7 L733.4,1146.8 L734.4,1146.8 L735.4,1146.8 L736.4,1146.8 L737.4,1146.3 L738.4,1145.7 L739.4,1145.0 L740.4,1144.9 L741.4,1145.4 L742.4,1146.0 L743.4,1146.6 L744.4,1147.2 L745.4,1147.8 L746.4,1148.4 L747.4,1148.4 L748.3,1147.3 L749.3,1146.1 L750.3,1144.9 L751.3,1145.4 L752.3,1146.2 L753.3,1147.0 L754.3,1147.6 L755.3,1147.9 L756.3,1148.2 L757.3,1148.5 L758.3,1148.0 L759.3,1147.4 L760.3,1146.8 L761.3,1146.5 L762.3,1147.0 L763.3,1147.5 L764.3,1148.1 L765.3,1147.7 L766.3,1147.1 L767.3,1146.5 L768.3,1146.2 L769.3,1146.3 L770.3,1146.4 L771.3,1146.6 L772.3,1146.6 L773.3,1146.7 L774.3,1146.7 L775.3,1146.9 L776.3,1147.3 L777.3,1147.7 L778.3,1148.1 L779.3,1148.2 L780.3,1148.1 L781.3,1148.0 L782.3,1148.1 L783.3,1148.5 L784.3,1148.9 L785.3,1149.3 L786.3,1148.9 L787.3,1148.2 L788.3,1147.5 L789.3,1147.1 L790.3,1147.4 L791.3,1147.6 L792.3,1147.9 L793.3,1148.3 L794.3,1148.6 L795.3,1149.0 L796.3,1149.2 L797.3,1149.0 L798.3,1148.8 L799.3,1148.5 L800.3,1147.9 L801.3,1147.1 L802.3,1146.2 L803.3,1145.8 L804.3,1146.4 L805.2,1146.9 L806.2,1147.5 L807.2,1147.2 L808.2,1146.6 L809.2,1146.0 L810.1,1145.4 L811.1,1145.5 L812.1,1145.6 L813.1,1145.7 L814.0,1145.6 L815.0,1145.3 L816.0,1145.0 L816.9,1144.7 L817.9,1144.8 L818.9,1144.9 L819.8,1144.9 L820.8,1144.8 L821.8,1144.1 L822.7,1143.5 L823.7,1142.8 L824.7,1141.9 L825.6,1141.0 L826.6,1140.0 L827.6,1139.1 L828.5,1139.1 L829.5,1139.0 L830.5,1138.9 L831.5,1139.2 L832.4,1139.7 L833.4,1140.3 L834.4,1140.9 L835.4,1140.5 L836.4,1140.0 L837.4,1139.5 L838.3,1139.4 L839.3,1139.8 L840.3,1140.4 L841.3,1141.0 L842.3,1141.0 L843.2,1140.9 L844.1,1141.0 L845.0,1141.1 L845.9,1141.3 L846.7,1141.5 L847.4,1141.9 L848.1,1142.3 L848.9,1143.1 L849.6,1144.2 L850.3,1145.4 L851.0,1146.5 L851.8,1147.5 L852.6,1147.6 L853.5,1147.3 L854.4,1146.7 L855.3,1146.0 L856.1,1145.2 L857.0,1144.4 L857.8,1143.6 L858.6,1142.6 L859.4,1142.4 L860.2,1143.0 L860.9,1143.6 L861.8,1144.3 L862.6,1144.7 L863.5,1143.0 L864.4,1141.3 L865.3,1139.7 L866.3,1138.8 L867.2,1139.7 L868.2,1140.6 L869.1,1141.7 L870.1,1142.3 L871.0,1142.7 L872.0,1143.2 L872.9,1143.7 L873.8,1143.8 L874.7,1144.0 L875.6,1144.2 L876.5,1144.4 L877.4,1144.3 L878.3,1144.1 L879.1,1144.0 L880.0,1143.9 L880.9,1145.3 L881.8,1146.6 L882.7,1148.0 L883.6,1149.2 L884.5,1148.8 L885.4,1148.4 L886.3,1148.0 L887.2,1147.7 L888.1,1148.1 L889.1,1148.5 L890.0,1148.9 L891.0,1149.3 L891.9,1149.9 L892.9,1150.5 L893.9,1151.0 L894.9,1151.5 L895.9,1152.0 L896.8,1152.4 L897.8,1152.6 L898.8,1152.3 L899.8,1151.9 L900.8,1151.6 L901.7,1151.4 L902.7,1151.3 L903.7,1151.2 L904.6,1151.0 L905.5,1150.2 L906.5,1149.4 L907.4,1148.6 L908.3,1148.0 L909.2,1147.7 L910.2,1147.4 L911.1,1147.2 L912.0,1146.6 L913.0,1146.0 L913.9,1145.3 L914.8,1144.6 L915.8,1144.5 L916.7,1144.5 L917.7,1144.5 L918.7,1144.5 L919.6,1144.6 L920.6,1144.7 L921.6,1144.9 L922.6,1144.6 L923.6,1144.2 L924.6,1143.7 L925.5,1143.3 L926.5,1143.5 L927.5,1143.7 L928.5,1143.9 L929.5,1143.8 L930.5,1143.3 L931.5,1142.9 L932.5,1142.5 L933.5,1142.4 L934.5,1142.4 L935.5,1142.4 L936.5,1142.5 L937.5,1142.7 L938.5,1142.9 L939.5,1143.1 L940.5,1143.1 L941.5,1143.0 L942.5,1142.9 L943.5,1143.0 L944.5,1143.3 L945.5,1143.6 L946.5,1143.9 L947.5,1143.8 L948.5,1143.6 L949.5,1143.5 L950.5,1143.8 L951.5,1144.4 L952.5,1145.0 L953.5,1145.5 L954.5,1144.8 L955.5,1144.1 L956.5,1143.4 L957.5,1143.1 L958.5,1143.2 L959.5,1143.2 L960.5,1143.2 L961.5,1142.9 L962.5,1142.7 L963.5,1142.4 L964.5,1142.5 L965.5,1142.9 L966.5,1143.3 L967.5,1143.8 L968.5,1144.0 L969.5,1144.3 L970.5,1144.6 L971.5,1144.4 L972.5,1143.9 L973.5,1143.4 L974.5,1142.9 L975.5,1143.2 L976.5,1143.5 L977.5,1143.8 L978.5,1144.0 L979.5,1144.3 L980.5,1144.6 L981.5,1144.9 L982.5,1144.6 L983.5,1144.3 L984.5,1144.0 L985.5,1143.8 L986.5,1143.7 L987.5,1143.5 L988.5,1143.4 L989.5,1144.0 L990.5,1144.5 L991.5,1145.1 L992.5,1145.2 L993.5,1144.9 L994.5,1144.6 L995.5,1144.3 L996.5,1144.4 L997.5,1144.5 L998.5,1144.7 L999.5,1144.9 L1000.5,1145.2 L1001.5,1145.5 L1002.5,1145.8 L1003.5,1145.8 L1004.5,1145.8 L1005.5,1145.8 L1006.5,1145.5 L1007.5,1145.0 L1008.5,1144.4 L1009.5,1143.9 L1010.5,1143.8 L1011.5,1143.8 L1012.5,1143.7 L1013.5,1143.9 L1014.5,1144.2 L1015.5,1144.5 L1016.5,1144.8 L1017.5,1144.6 L1018.5,1144.5 L1019.5,1144.4 L1020.5,1143.9 L1021.5,1143.3 L1022.5,1142.7 L1023.5,1142.0 L1024.5,1143.2 L1025.5,1144.4 L1026.5,1145.6 L1027.5,1145.9 L1028.5,1145.5 L1029.5,1145.0 L1030.5,1144.5 L1031.5,1144.8 L1032.5,1145.1 L1033.5,1145.3 L1034.5,1145.1 L1035.5,1144.4 L1036.5,1143.7 L1037.5,1143.0 L1038.5,1143.9 L1039.5,1144.8 L1040.5,1145.7 L1041.5,1145.8 L1042.5,1145.1 L1043.5,1144.3 L1044.5,1143.7 L1045.5,1143.8 L1046.5,1144.0 L1047.5,1144.1 L1048.5,1144.0 L1049.5,1143.5 L1050.5,1143.0 L1051.5,1142.5 L1052.5,1142.9 L1053.5,1143.4 L1054.5,1143.8 L1055.5,1144.0 L1056.5,1143.9 L1057.5,1143.9 L1058.5,1143.8 L1059.5,1143.8 L1060.5,1143.8 L1061.5,1143.8 L1062.5,1143.9 L1063.5,1144.1 L1064.5,1144.3 L1065.5,1144.5 L1066.5,1144.4 L1067.5,1144.2 L1068.5,1144.0 L1069.5,1144.1 L1070.5,1144.4 L1071.5,1144.8 L1072.5,1145.1 L1073.5,1144.5 L1074.5,1143.9 L1075.5,1143.4 L1076.5,1143.0 L1077.5,1142.8 L1078.5,1142.5 L1079.5,1142.3 L1080.5,1142.7 L1081.5,1143.0 L1082.5,1143.3 L1083.5,1143.6 L1083.5,1143.6" fill="none" stroke="#5a2030" stroke-width="8.5" stroke-linejoin="round" stroke-linecap="round" stroke-opacity="0.28"/>
<path d="M186.0,1310.6 L187.0,1310.6 L188.0,1310.6 L189.0,1310.6 L190.0,1310.6 L191.0,1310.6 L192.0,1310.6 L193.0,1310.6 L194.0,1310.5 L195.0,1310.5 L196.0,1310.5 L197.0,1310.5 L198.0,1310.5 L199.0,1310.5 L200.0,1310.5 L201.0,1310.5 L202.0,1310.5 L203.0,1310.5 L204.0,1310.5 L205.0,1310.5 L206.0,1310.4 L207.0,1310.4 L208.0,1310.4 L209.0,1310.4 L210.0,1310.4 L211.0,1310.3 L212.0,1310.3 L213.0,1310.3 L214.0,1310.2 L215.0,1310.2 L216.0,1310.2 L217.0,1310.1 L218.0,1310.1 L219.0,1310.0 L220.0,1309.9 L221.0,1309.9 L222.0,1309.8 L223.0,1309.7 L224.0,1309.6 L225.0,1309.6 L226.0,1309.5 L227.0,1309.4 L228.0,1309.3 L229.0,1309.2 L229.9,1309.1 L230.9,1309.0 L231.9,1308.9 L232.9,1308.8 L233.9,1308.6 L234.9,1308.5 L235.9,1308.4 L236.9,1308.3 L237.9,1308.2 L238.9,1308.1 L239.9,1307.9 L240.9,1307.8 L241.9,1307.7 L242.9,1307.6 L243.9,1307.5 L244.8,1307.3 L245.8,1307.2 L246.8,1307.0 L247.8,1306.9 L248.8,1306.7 L249.8,1306.6 L250.8,1306.4 L251.8,1306.3 L252.8,1306.2 L253.8,1306.1 L254.7,1306.0 L255.7,1305.8 L256.7,1305.7 L257.7,1305.6 L258.7,1305.4 L259.7,1305.3 L260.7,1305.1 L261.7,1304.9 L262.6,1304.7 L263.6,1304.4 L264.5,1304.1 L265.4,1303.7 L266.4,1303.3 L267.3,1302.9 L268.2,1302.5 L269.1,1302.2 L270.1,1301.8 L271.0,1301.5 L271.9,1301.2 L272.9,1300.9 L273.9,1300.6 L274.8,1300.4 L275.8,1300.1 L276.8,1299.9 L277.7,1299.7 L278.7,1299.4 L279.7,1299.2 L280.7,1298.9 L281.6,1298.6 L282.6,1298.3 L283.5,1298.0 L284.4,1297.6 L285.4,1297.3 L286.3,1296.8 L287.2,1296.4 L288.1,1296.0 L288.9,1295.5 L289.8,1295.0 L290.7,1294.5 L291.6,1294.1 L292.4,1293.6 L293.3,1293.1 L294.2,1292.7 L295.0,1292.2 L295.9,1291.8 L296.7,1291.5 L297.6,1291.2 L298.5,1290.9 L299.3,1290.6 L300.2,1290.2 L301.0,1289.6 L301.9,1289.0 L302.7,1288.4 L303.5,1287.8 L304.3,1287.1 L305.0,1286.3 L305.6,1285.5 L306.2,1284.7 L306.7,1283.9 L307.2,1283.0 L307.6,1282.1 L308.0,1281.1 L308.4,1280.2 L308.9,1279.3 L309.4,1278.4 L309.9,1277.4 L310.5,1276.2 L311.1,1275.1 L311.8,1274.0 L312.5,1272.8 L313.2,1271.7 L313.9,1270.8 L314.5,1269.9 L315.2,1268.9 L315.7,1267.9 L316.3,1266.9 L316.7,1266.0 L317.1,1265.3 L317.5,1264.5 L317.8,1263.6 L318.2,1262.8 L318.4,1261.9 L318.7,1261.1 L319.0,1260.2 L319.3,1259.4 L319.7,1258.5 L320.0,1257.7 L320.3,1257.3 L320.7,1257.0 L321.1,1256.7 L321.4,1256.3 L321.8,1256.0 L322.2,1255.7 L322.5,1255.4 L322.9,1255.1 L323.3,1254.8 L323.6,1254.1 L324.0,1252.7 L324.5,1251.3 L325.0,1249.9 L325.6,1248.4 L326.2,1246.9 L326.9,1245.4 L327.7,1244.5 L328.5,1243.7 L329.3,1242.9 L330.1,1242.0 L330.9,1241.5 L331.6,1241.2 L332.4,1240.8 L333.1,1240.5 L333.8,1240.1 L334.5,1239.4 L335.1,1238.5 L335.8,1237.7 L336.5,1236.8 L337.1,1236.0 L337.8,1235.2 L338.5,1234.7 L339.2,1234.2 L340.0,1233.7 L340.8,1233.3 L341.7,1232.9 L342.6,1232.4 L343.5,1232.1 L344.4,1231.7 L345.3,1230.8 L346.2,1229.9 L347.1,1228.9 L348.0,1227.9 L348.8,1227.4 L349.7,1226.9 L350.5,1226.4 L351.3,1225.8 L352.0,1225.6 L352.8,1225.5 L353.6,1225.4 L354.4,1225.3 L355.1,1225.0 L355.9,1223.8 L356.7,1222.5 L357.4,1221.3 L358.2,1220.1 L359.0,1219.5 L359.8,1219.2 L360.6,1218.9 L361.4,1218.7 L362.2,1218.3 L362.9,1217.4 L363.7,1216.6 L364.5,1215.7 L365.2,1214.8 L366.0,1214.2 L366.7,1213.8 L367.4,1213.4 L368.1,1213.0 L368.9,1212.6 L369.6,1212.0 L370.3,1211.4 L371.0,1210.7 L371.7,1210.1 L372.3,1209.5 L373.0,1208.5 L373.6,1207.4 L374.2,1206.3 L374.8,1205.1 L375.4,1204.0 L375.9,1202.9 L376.5,1202.4 L377.0,1201.9 L377.6,1201.4 L378.1,1201.0 L378.7,1200.5 L379.3,1200.1 L379.9,1199.2 L380.5,1198.0 L381.2,1196.7 L381.8,1195.5 L382.5,1194.3 L383.2,1193.3 L384.0,1192.6 L384.7,1191.9 L385.5,1191.3 L386.3,1190.7 L387.1,1190.2 L387.9,1189.8 L388.7,1189.3 L389.5,1188.9 L390.3,1188.4 L391.0,1187.8 L391.8,1187.3 L392.5,1186.7 L393.2,1186.1 L394.0,1185.3 L394.7,1184.4 L395.5,1183.4 L396.2,1182.5 L397.0,1181.6 L397.8,1180.4 L398.6,1179.2 L399.4,1177.9 L400.2,1176.7 L401.0,1176.4 L401.9,1176.5 L402.8,1176.7 L403.6,1177.0 L404.5,1177.0 L405.5,1177.0 L406.4,1177.1 L407.3,1177.1 L408.3,1177.1 L409.3,1177.0 L410.2,1177.0 L411.2,1177.1 L412.2,1177.0 L413.2,1176.9 L414.2,1176.9 L415.2,1177.6 L416.2,1178.6 L417.1,1179.6 L418.1,1180.4 L419.1,1179.5 L420.0,1178.6 L420.9,1177.5 L421.8,1176.5 L422.7,1175.6 L423.5,1174.6 L424.4,1173.6 L425.2,1172.8 L426.1,1172.6 L426.9,1172.3 L427.8,1172.1 L428.7,1171.9 L429.6,1171.6 L430.5,1171.3 L431.4,1171.1 L432.3,1170.8 L433.3,1170.6 L434.2,1170.3 L435.1,1170.1 L436.1,1169.7 L437.0,1169.4 L437.9,1169.0 L438.8,1168.6 L439.6,1168.1 L440.5,1167.5 L441.3,1166.9 L442.1,1166.2 L442.9,1165.4 L443.7,1164.5 L444.5,1163.5 L445.3,1162.6 L446.1,1161.8 L446.9,1161.9 L447.7,1162.1 L448.6,1162.4 L449.6,1162.8 L450.5,1162.5 L451.5,1162.4 L452.4,1162.3 L453.4,1162.1 L454.4,1161.8 L455.4,1161.4 L456.4,1161.0 L457.4,1160.8 L458.4,1160.6 L459.3,1160.3 L460.3,1160.1 L461.2,1160.2 L462.2,1160.3 L463.1,1160.4 L464.0,1160.1 L464.9,1159.4 L465.9,1158.8 L466.8,1158.1 L467.7,1157.4 L468.6,1156.7 L469.6,1156.0 L470.5,1155.4 L471.5,1155.8 L472.5,1156.3 L473.4,1156.8 L474.4,1156.8 L475.4,1156.2 L476.4,1155.5 L477.3,1154.9 L478.3,1155.3 L479.3,1155.9 L480.2,1156.5 L481.2,1156.4 L482.1,1154.1 L483.1,1151.8 L484.0,1149.6 L485.0,1149.1 L485.9,1150.4 L486.9,1151.6 L487.8,1152.9 L488.7,1152.4 L489.7,1151.4 L490.6,1150.5 L491.6,1149.5 L492.5,1149.1 L493.5,1148.6 L494.4,1148.2 L495.4,1148.0 L496.3,1148.2 L497.3,1148.4 L498.2,1148.7 L499.2,1149.2 L500.2,1149.8 L501.2,1150.5 L502.1,1150.8 L503.1,1149.1 L504.1,1147.4 L505.0,1145.7 L506.0,1145.2 L507.0,1145.7 L507.9,1146.2 L508.9,1146.7 L509.8,1146.5 L510.8,1146.2 L511.7,1145.9 L512.7,1145.6 L513.6,1145.1 L514.6,1144.6 L515.5,1144.2 L516.5,1143.6 L517.5,1143.0 L518.5,1142.4 L519.5,1141.8 L520.4,1141.7 L521.4,1141.7 L522.4,1141.7 L523.4,1142.1 L524.4,1142.9 L525.4,1143.7 L526.4,1144.5 L527.4,1143.7 L528.4,1142.7 L529.4,1141.7 L530.4,1141.1 L531.4,1141.2 L532.4,1141.3 L533.4,1141.4 L534.4,1141.4 L535.4,1141.4 L536.4,1141.4 L537.4,1141.5 L538.3,1141.5 L539.3,1141.6 L540.3,1141.6 L541.3,1141.8 L542.3,1142.0 L543.3,1142.2 L544.3,1142.3 L545.3,1142.3 L546.3,1142.2 L547.3,1142.2 L548.3,1141.5 L549.3,1140.7 L550.3,1139.9 L551.3,1139.2 L552.3,1138.8 L553.3,1138.4 L554.3,1138.0 L555.3,1138.4 L556.3,1139.0 L557.3,1139.6 L558.3,1139.7 L559.3,1138.9 L560.3,1138.2 L561.3,1137.4 L562.3,1137.3 L563.3,1137.4 L564.3,1137.4 L565.3,1137.5 L566.3,1137.7 L567.3,1137.9 L568.3,1138.1 L569.3,1137.9 L570.3,1137.6 L571.3,1137.3 L572.3,1137.1 L573.3,1137.3 L574.3,1137.5 L575.3,1137.7 L576.3,1138.0 L577.3,1138.5 L578.3,1138.9 L579.3,1139.2 L580.3,1139.2 L581.3,1139.2 L582.3,1139.2 L583.3,1139.1 L584.3,1139.0 L585.3,1139.0 L586.3,1138.8 L587.3,1138.3 L588.3,1137.9 L589.3,1137.4 L590.3,1137.9 L591.3,1138.6 L592.3,1139.3 L593.3,1139.7 L594.3,1139.6 L595.3,1139.4 L596.3,1139.2 L597.3,1138.2 L598.3,1137.1 L599.3,1135.9 L600.3,1135.2 L601.3,1135.8 L602.3,1136.5 L603.3,1137.1 L604.3,1137.5 L605.3,1137.9 L606.3,1138.3 L607.3,1138.5 L608.2,1137.9 L609.2,1137.3 L610.2,1136.7 L611.2,1136.8 L612.2,1137.2 L613.2,1137.6 L614.2,1137.8 L615.2,1137.3 L616.2,1136.8 L617.2,1136.3 L618.2,1136.6 L619.2,1137.4 L620.2,1138.2 L621.2,1138.7 L622.1,1137.6 L623.1,1136.5 L624.1,1135.3 L625.1,1134.7 L626.1,1134.3 L627.1,1134.0 L628.1,1133.6 L629.1,1133.9 L630.1,1134.1 L631.1,1134.3 L632.1,1134.2 L633.1,1133.8 L634.1,1133.5 L635.1,1133.1 L636.1,1133.2 L637.1,1133.3 L638.1,1133.3 L639.1,1133.3 L640.0,1133.1 L641.0,1133.0 L642.0,1132.8 L643.0,1132.7 L644.0,1132.5 L645.0,1132.3 L646.0,1132.7 L647.0,1133.5 L648.0,1134.3 L649.0,1135.1 L650.0,1134.7 L651.0,1134.4 L652.0,1134.1 L653.0,1134.0 L654.0,1134.1 L655.0,1134.3 L656.0,1134.4 L657.0,1133.8 L658.0,1133.2 L659.0,1132.6 L660.0,1132.9 L661.0,1134.1 L662.0,1135.4 L663.0,1136.6 L664.0,1135.5 L665.0,1134.4 L666.0,1133.3 L667.0,1133.1 L668.0,1133.8 L669.0,1134.6 L669.9,1135.3 L670.9,1135.6 L671.9,1135.8 L672.9,1136.1 L673.9,1136.0 L674.9,1135.5 L675.9,1134.9 L676.9,1134.4 L677.9,1135.6 L678.9,1136.9 L679.9,1138.3 L680.9,1138.9 L681.8,1138.2 L682.8,1137.5 L683.8,1136.8 L684.8,1136.8 L685.8,1136.9 L686.8,1137.1 L687.8,1137.3 L688.8,1137.7 L689.8,1138.1 L690.8,1138.6 L691.8,1138.9 L692.7,1139.3 L693.7,1139.7 L694.7,1140.0 L695.7,1140.1 L696.7,1140.1 L697.7,1140.2 L698.7,1140.0 L699.7,1139.7 L700.6,1139.3 L701.6,1139.1 L702.6,1139.6 L703.6,1140.1 L704.6,1140.7 L705.6,1140.9 L706.6,1141.0 L707.6,1141.0 L708.5,1141.1 L709.5,1141.6 L710.5,1142.2 L711.5,1142.7 L712.5,1143.0 L713.5,1143.2 L714.5,1143.4 L715.5,1143.6 L716.5,1143.3 L717.5,1143.0 L718.5,1142.7 L719.5,1142.6 L720.5,1142.9 L721.5,1143.1 L722.4,1143.3 L723.4,1143.6 L724.4,1143.9 L725.4,1144.3 L726.4,1144.4 L727.4,1144.1 L728.4,1143.8 L729.4,1143.6 L730.4,1143.7 L731.4,1143.9 L732.4,1144.1 L733.4,1144.3 L734.4,1144.8 L735.4,1145.3 L736.4,1145.7 L737.4,1145.5 L738.4,1145.2 L739.4,1144.9 L740.4,1144.7 L741.4,1144.8 L742.4,1145.0 L743.4,1145.1 L744.4,1144.9 L745.4,1144.6 L746.4,1144.4 L747.4,1144.3 L748.3,1144.4 L749.3,1144.6 L750.3,1144.7 L751.3,1144.9 L752.3,1145.2 L753.3,1145.4 L754.3,1145.7 L755.3,1146.1 L756.3,1146.5 L757.3,1146.8 L758.3,1146.2 L759.3,1145.4 L760.3,1144.6 L761.3,1144.2 L762.3,1144.6 L763.3,1145.1 L764.3,1145.5 L765.3,1145.8 L766.3,1146.1 L767.3,1146.4 L768.3,1146.7 L769.3,1146.9 L770.3,1147.0 L771.3,1147.2 L772.3,1147.1 L773.3,1146.9 L774.3,1146.8 L775.3,1146.6 L776.3,1146.3 L777.3,1146.1 L778.3,1145.8 L779.3,1146.2 L780.3,1146.7 L781.3,1147.2 L782.3,1147.5 L783.3,1147.4 L784.3,1147.2 L785.3,1147.0 L786.3,1147.1 L787.3,1147.2 L788.3,1147.3 L789.3,1147.3 L790.3,1146.8 L791.3,1146.4 L792.3,1145.9 L793.3,1146.1 L794.3,1146.4 L795.3,1146.7 L796.3,1146.8 L797.3,1146.6 L798.3,1146.4 L799.3,1146.1 L800.3,1145.9 L801.3,1145.8 L802.3,1145.6 L803.3,1145.3 L804.3,1144.9 L805.2,1144.4 L806.2,1144.0 L807.2,1143.7 L808.2,1143.5 L809.2,1143.3 L810.1,1143.0 L811.1,1142.6 L812.1,1142.2 L813.1,1141.8 L814.0,1142.1 L815.0,1142.9 L816.0,1143.7 L816.9,1144.5 L817.9,1143.7 L818.9,1142.8 L819.8,1141.8 L820.8,1141.4 L821.8,1142.1 L822.7,1142.7 L823.7,1143.4 L824.7,1142.5 L825.6,1140.8 L826.6,1139.2 L827.6,1137.7 L828.5,1138.0 L829.5,1138.4 L830.5,1138.8 L831.5,1139.1 L832.4,1139.5 L833.4,1139.8 L834.4,1140.2 L835.4,1139.3 L836.4,1138.2 L837.4,1137.1 L838.3,1136.5 L839.3,1136.4 L840.3,1136.5 L841.3,1136.6 L842.3,1137.2 L843.2,1138.0 L844.1,1138.9 L845.0,1139.8 L845.9,1140.3 L846.7,1140.9 L847.4,1141.6 L848.1,1142.3 L848.9,1143.0 L849.6,1143.6 L850.3,1144.1 L851.0,1144.6 L851.8,1145.0 L852.6,1145.1 L853.5,1145.1 L854.4,1144.9 L855.3,1144.5 L856.1,1144.3 L857.0,1144.1 L857.8,1143.8 L858.6,1143.4 L859.4,1143.2 L860.2,1143.2 L860.9,1143.3 L861.8,1143.4 L862.6,1143.4 L863.5,1142.7 L864.4,1142.1 L865.3,1141.5 L866.3,1141.0 L867.2,1140.6 L868.2,1140.3 L869.1,1140.0 L870.1,1139.9 L871.0,1139.9 L872.0,1139.9 L872.9,1140.0 L873.8,1140.5 L874.7,1141.1 L875.6,1141.7 L876.5,1142.3 L877.4,1143.4 L878.3,1144.5 L879.1,1145.7 L880.0,1146.8 L880.9,1147.1 L881.8,1147.4 L882.7,1147.7 L883.6,1147.9 L884.5,1147.4 L885.4,1147.0 L886.3,1146.5 L887.2,1146.2 L888.1,1146.8 L889.1,1147.4 L890.0,1148.0 L891.0,1148.7 L891.9,1149.4 L892.9,1150.1 L893.9,1150.8 L894.9,1151.3 L895.9,1151.8 L896.8,1152.3 L897.8,1152.1 L898.8,1150.8 L899.8,1149.4 L900.8,1148.0 L901.7,1148.0 L902.7,1148.3 L903.7,1148.5 L904.6,1148.8 L905.5,1148.9 L906.5,1148.9 L907.4,1149.0 L908.3,1148.9 L909.2,1148.4 L910.2,1148.0 L911.1,1147.5 L912.0,1146.6 L913.0,1145.4 L913.9,1144.1 L914.8,1142.9 L915.8,1142.7 L916.7,1142.6 L917.7,1142.6 L918.7,1142.7 L919.6,1142.8 L920.6,1143.0 L921.6,1143.3 L922.6,1143.1 L923.6,1142.5 L924.6,1142.0 L925.5,1141.6 L926.5,1141.9 L927.5,1142.3 L928.5,1142.6 L929.5,1142.6 L930.5,1142.3 L931.5,1142.1 L932.5,1141.8 L933.5,1142.2 L934.5,1142.7 L935.5,1143.1 L936.5,1142.8 L937.5,1141.7 L938.5,1140.6 L939.5,1139.6 L940.5,1140.0 L941.5,1140.5 L942.5,1141.0 L943.5,1141.6 L944.5,1142.3 L945.5,1142.9 L946.5,1143.6 L947.5,1142.6 L948.5,1141.7 L949.5,1140.8 L950.5,1140.7 L951.5,1141.4 L952.5,1142.1 L953.5,1142.7 L954.5,1142.3 L955.5,1141.8 L956.5,1141.3 L957.5,1141.1 L958.5,1141.3 L959.5,1141.4 L960.5,1141.5 L961.5,1142.2 L962.5,1142.9 L963.5,1143.6 L964.5,1143.9 L965.5,1143.8 L966.5,1143.7 L967.5,1143.6 L968.5,1143.6 L969.5,1143.7 L970.5,1143.7 L971.5,1143.3 L972.5,1142.5 L973.5,1141.6 L974.5,1140.8 L975.5,1141.4 L976.5,1142.1 L977.5,1142.7 L978.5,1143.0 L979.5,1143.0 L980.5,1143.0 L981.5,1143.0 L982.5,1143.2 L983.5,1143.5 L984.5,1143.8 L985.5,1144.0 L986.5,1144.1 L987.5,1144.2 L988.5,1144.3 L989.5,1143.0 L990.5,1141.7 L991.5,1140.5 L992.5,1140.2 L993.5,1140.9 L994.5,1141.6 L995.5,1142.3 L996.5,1142.5 L997.5,1142.7 L998.5,1142.9 L999.5,1143.0 L1000.5,1143.2 L1001.5,1143.4 L1002.5,1143.5 L1003.5,1143.1 L1004.5,1142.8 L1005.5,1142.4 L1006.5,1142.2 L1007.5,1142.2 L1008.5,1142.2 L1009.5,1142.2 L1010.5,1142.4 L1011.5,1142.6 L1012.5,1142.9 L1013.5,1143.1 L1014.5,1143.2 L1015.5,1143.4 L1016.5,1143.6 L1017.5,1144.1 L1018.5,1144.7 L1019.5,1145.2 L1020.5,1145.0 L1021.5,1144.1 L1022.5,1143.3 L1023.5,1142.4 L1024.5,1142.7 L1025.5,1143.1 L1026.5,1143.4 L1027.5,1143.4 L1028.5,1143.0 L1029.5,1142.6 L1030.5,1142.2 L1031.5,1143.2 L1032.5,1144.2 L1033.5,1145.2 L1034.5,1145.1 L1035.5,1144.1 L1036.5,1143.1 L1037.5,1142.1 L1038.5,1142.5 L1039.5,1142.8 L1040.5,1143.2 L1041.5,1143.6 L1042.5,1144.0 L1043.5,1144.4 L1044.5,1144.8 L1045.5,1143.9 L1046.5,1143.0 L1047.5,1142.0 L1048.5,1141.5 L1049.5,1141.5 L1050.5,1141.4 L1051.5,1141.3 L1052.5,1142.0 L1053.5,1142.7 L1054.5,1143.3 L1055.5,1143.4 L1056.5,1142.9 L1057.5,1142.4 L1058.5,1141.9 L1059.5,1142.7 L1060.5,1143.5 L1061.5,1144.3 L1062.5,1144.3 L1063.5,1143.4 L1064.5,1142.5 L1065.5,1141.6 L1066.5,1141.5 L1067.5,1141.4 L1068.5,1141.2 L1069.5,1141.2 L1070.5,1141.1 L1071.5,1141.1 L1072.5,1141.1 L1073.5,1141.5 L1074.5,1141.8 L1075.5,1142.2 L1076.5,1142.0 L1077.5,1141.1 L1078.5,1140.3 L1079.5,1139.5 L1080.5,1140.3 L1081.5,1141.1 L1082.5,1142.0 L1083.5,1142.4 L1083.5,1142.4" fill="none" stroke="#9a3048" stroke-width="3.4" stroke-linejoin="round" stroke-linecap="round"/>
<path d="M186.0,1312.4 L187.0,1312.4 L188.0,1312.4 L189.0,1312.4 L190.0,1312.4 L191.0,1312.4 L192.0,1312.4 L193.0,1312.4 L194.0,1312.3 L195.0,1312.3 L196.0,1312.3 L197.0,1312.3 L198.0,1312.3 L199.0,1312.3 L200.0,1312.3 L201.0,1312.3 L202.0,1312.3 L203.0,1312.3 L204.0,1312.3 L205.0,1312.3 L206.0,1312.2 L207.0,1312.2 L208.0,1312.2 L209.0,1312.2 L210.0,1312.2 L211.0,1312.1 L212.0,1312.1 L213.0,1312.1 L214.0,1312.0 L215.0,1312.0 L216.0,1312.0 L217.0,1311.9 L218.0,1311.9 L219.0,1311.8 L220.0,1311.7 L221.0,1311.7 L222.0,1311.6 L223.0,1311.5 L224.0,1311.4 L225.0,1311.4 L226.0,1311.3 L227.0,1311.2 L228.0,1311.1 L229.0,1311.0 L229.9,1310.9 L230.9,1310.8 L231.9,1310.7 L232.9,1310.6 L233.9,1310.4 L234.9,1310.3 L235.9,1310.2 L236.9,1310.1 L237.9,1310.0 L238.9,1309.9 L239.9,1309.7 L240.9,1309.6 L241.9,1309.5 L242.9,1309.4 L243.9,1309.3 L244.8,1309.1 L245.8,1309.0 L246.8,1308.8 L247.8,1308.7 L248.8,1308.5 L249.8,1308.4 L250.8,1308.2 L251.8,1308.1 L252.8,1308.0 L253.8,1307.9 L254.7,1307.8 L255.7,1307.6 L256.7,1307.5 L257.7,1307.4 L258.7,1307.2 L259.7,1307.1 L260.7,1306.9 L261.7,1306.7 L262.6,1306.5 L263.6,1306.2 L264.5,1305.9 L265.4,1305.5 L266.4,1305.1 L267.3,1304.7 L268.2,1304.3 L269.1,1304.0 L270.1,1303.6 L271.0,1303.3 L271.9,1303.0 L272.9,1302.7 L273.9,1302.4 L274.8,1302.2 L275.8,1301.9 L276.8,1301.7 L277.7,1301.5 L278.7,1301.2 L279.7,1301.0 L280.7,1300.7 L281.6,1300.4 L282.6,1300.1 L283.5,1299.8 L284.4,1299.4 L285.4,1299.1 L286.3,1298.6 L287.2,1298.2 L288.1,1297.8 L288.9,1297.3 L289.8,1296.8 L290.7,1296.5 L291.6,1296.3 L292.4,1296.0 L293.3,1295.5 L294.2,1294.8 L295.0,1294.0 L295.9,1293.2 L296.7,1292.7 L297.6,1292.3 L298.5,1291.8 L299.3,1291.4 L300.2,1291.0 L301.0,1290.6 L301.9,1290.2 L302.7,1289.6 L303.5,1288.7 L304.3,1287.7 L305.0,1286.7 L305.6,1285.6 L306.2,1284.9 L306.7,1284.5 L307.2,1284.0 L307.6,1283.5 L308.0,1283.0 L308.4,1282.4 L308.9,1281.9 L309.4,1281.5 L309.9,1280.6 L310.5,1279.6 L311.1,1278.6 L311.8,1277.6 L312.5,1276.6 L313.2,1275.7 L313.9,1274.9 L314.5,1274.1 L315.2,1273.3 L315.7,1272.4 L316.3,1271.6 L316.7,1270.8 L317.1,1270.0 L317.5,1269.2 L317.8,1268.3 L318.2,1267.5 L318.4,1266.6 L318.7,1265.7 L319.0,1264.9 L319.3,1264.0 L319.7,1263.1 L320.0,1262.3 L320.3,1261.1 L320.7,1259.9 L321.1,1258.6 L321.4,1257.4 L321.8,1256.2 L322.2,1255.0 L322.5,1253.8 L322.9,1252.5 L323.3,1251.3 L323.6,1250.3 L324.0,1249.7 L324.5,1249.2 L325.0,1248.8 L325.6,1248.5 L326.2,1248.4 L326.9,1248.3 L327.7,1247.5 L328.5,1246.6 L329.3,1245.7 L330.1,1244.8 L330.9,1244.1 L331.6,1243.4 L332.4,1242.7 L333.1,1242.0 L333.8,1241.2 L334.5,1240.6 L335.1,1240.1 L335.8,1239.6 L336.5,1239.0 L337.1,1238.5 L337.8,1237.6 L338.5,1236.3 L339.2,1235.0 L340.0,1233.7 L340.8,1232.5 L341.7,1232.4 L342.6,1232.7 L343.5,1233.0 L344.4,1233.3 L345.3,1233.3 L346.2,1233.3 L347.1,1233.3 L348.0,1233.2 L348.8,1232.5 L349.7,1231.7 L350.5,1230.8 L351.3,1230.0 L352.0,1229.3 L352.8,1228.7 L353.6,1228.1 L354.4,1227.5 L355.1,1226.9 L355.9,1226.2 L356.7,1225.4 L357.4,1224.7 L358.2,1224.0 L359.0,1223.1 L359.8,1222.2 L360.6,1221.3 L361.4,1220.4 L362.2,1219.6 L362.9,1219.1 L363.7,1218.6 L364.5,1218.1 L365.2,1217.6 L366.0,1217.1 L366.7,1216.5 L367.4,1216.0 L368.1,1215.4 L368.9,1214.9 L369.6,1214.1 L370.3,1213.3 L371.0,1212.5 L371.7,1211.6 L372.3,1210.8 L373.0,1209.7 L373.6,1208.5 L374.2,1207.3 L374.8,1206.2 L375.4,1205.0 L375.9,1203.8 L376.5,1203.6 L377.0,1203.5 L377.6,1203.5 L378.1,1203.4 L378.7,1203.4 L379.3,1203.5 L379.9,1202.6 L380.5,1201.2 L381.2,1199.8 L381.8,1198.5 L382.5,1197.1 L383.2,1196.0 L384.0,1195.3 L384.7,1194.6 L385.5,1193.9 L386.3,1193.3 L387.1,1192.6 L387.9,1191.8 L388.7,1191.1 L389.5,1190.3 L390.3,1189.6 L391.0,1189.0 L391.8,1188.3 L392.5,1187.6 L393.2,1187.0 L394.0,1186.4 L394.7,1186.0 L395.5,1185.6 L396.2,1185.2 L397.0,1184.8 L397.8,1184.1 L398.6,1183.4 L399.4,1182.7 L400.2,1182.1 L401.0,1181.6 L401.9,1181.2 L402.8,1180.9 L403.6,1180.6 L404.5,1180.0 L405.5,1179.4 L406.4,1178.8 L407.3,1178.2 L408.3,1177.7 L409.3,1177.2 L410.2,1176.7 L411.2,1176.5 L412.2,1177.0 L413.2,1177.6 L414.2,1178.1 L415.2,1178.4 L416.2,1178.5 L417.1,1178.5 L418.1,1178.5 L419.1,1178.0 L420.0,1177.4 L420.9,1176.7 L421.8,1176.2 L422.7,1176.2 L423.5,1176.1 L424.4,1176.0 L425.2,1175.6 L426.1,1174.6 L426.9,1173.6 L427.8,1172.6 L428.7,1171.7 L429.6,1171.6 L430.5,1171.4 L431.4,1171.3 L432.3,1171.3 L433.3,1171.4 L434.2,1171.5 L435.1,1171.6 L436.1,1171.3 L437.0,1170.7 L437.9,1170.1 L438.8,1169.5 L439.6,1169.3 L440.5,1169.2 L441.3,1169.0 L442.1,1168.8 L442.9,1168.3 L443.7,1167.6 L444.5,1166.9 L445.3,1166.2 L446.1,1165.5 L446.9,1165.0 L447.7,1164.5 L448.6,1164.1 L449.6,1163.8 L450.5,1163.3 L451.5,1162.8 L452.4,1162.5 L453.4,1162.4 L454.4,1162.8 L455.4,1163.2 L456.4,1163.5 L457.4,1163.3 L458.4,1163.0 L459.3,1162.6 L460.3,1162.3 L461.2,1162.3 L462.2,1162.3 L463.1,1162.2 L464.0,1161.8 L464.9,1161.2 L465.9,1160.7 L466.8,1160.1 L467.7,1159.7 L468.6,1159.4 L469.6,1159.2 L470.5,1158.9 L471.5,1158.3 L472.5,1157.6 L473.4,1157.0 L474.4,1156.7 L475.4,1156.7 L476.4,1156.6 L477.3,1156.6 L478.3,1156.8 L479.3,1157.0 L480.2,1157.3 L481.2,1157.2 L482.1,1155.7 L483.1,1154.2 L484.0,1152.7 L485.0,1151.9 L485.9,1151.8 L486.9,1151.7 L487.8,1151.6 L488.7,1151.7 L489.7,1152.0 L490.6,1152.2 L491.6,1152.4 L492.5,1152.1 L493.5,1151.7 L494.4,1151.4 L495.4,1151.1 L496.3,1151.0 L497.3,1150.8 L498.2,1150.7 L499.2,1150.6 L500.2,1150.6 L501.2,1150.5 L502.1,1150.4 L503.1,1150.1 L504.1,1149.9 L505.0,1149.6 L506.0,1149.1 L507.0,1148.5 L507.9,1147.8 L508.9,1147.1 L509.8,1146.9 L510.8,1146.7 L511.7,1146.6 L512.7,1146.4 L513.6,1146.1 L514.6,1145.8 L515.5,1145.6 L516.5,1145.2 L517.5,1144.6 L518.5,1144.1 L519.5,1143.6 L520.4,1143.3 L521.4,1142.9 L522.4,1142.6 L523.4,1142.3 L524.4,1142.2 L525.4,1142.0 L526.4,1141.9 L527.4,1141.7 L528.4,1141.6 L529.4,1141.5 L530.4,1141.7 L531.4,1142.3 L532.4,1142.9 L533.4,1143.5 L534.4,1143.7 L535.4,1143.8 L536.4,1143.9 L537.4,1144.0 L538.3,1144.0 L539.3,1144.1 L540.3,1144.2 L541.3,1143.9 L542.3,1143.6 L543.3,1143.2 L544.3,1142.9 L545.3,1142.8 L546.3,1142.6 L547.3,1142.4 L548.3,1142.4 L549.3,1142.4 L550.3,1142.4 L551.3,1142.3 L552.3,1142.0 L553.3,1141.6 L554.3,1141.2 L555.3,1141.1 L556.3,1141.0 L557.3,1140.8 L558.3,1140.8 L559.3,1140.9 L560.3,1141.0 L561.3,1141.1 L562.3,1141.2 L563.3,1141.2 L564.3,1141.3 L565.3,1141.0 L566.3,1140.0 L567.3,1138.9 L568.3,1137.9 L569.3,1137.9 L570.3,1138.3 L571.3,1138.6 L572.3,1138.9 L573.3,1139.5 L574.3,1140.0 L575.3,1140.6 L576.3,1140.7 L577.3,1140.7 L578.3,1140.7 L579.3,1140.7 L580.3,1140.6 L581.3,1140.4 L582.3,1140.3 L583.3,1139.9 L584.3,1139.4 L585.3,1139.0 L586.3,1138.8 L587.3,1139.5 L588.3,1140.1 L589.3,1140.7 L590.3,1140.5 L591.3,1140.0 L592.3,1139.5 L593.3,1139.2 L594.3,1139.7 L595.3,1140.2 L596.3,1140.7 L597.3,1140.8 L598.3,1140.9 L599.3,1140.9 L600.3,1140.9 L601.3,1140.8 L602.3,1140.6 L603.3,1140.5 L604.3,1139.6 L605.3,1138.6 L606.3,1137.5 L607.3,1137.0 L608.2,1138.1 L609.2,1139.3 L610.2,1140.4 L611.2,1140.2 L612.2,1139.6 L613.2,1139.0 L614.2,1138.7 L615.2,1139.2 L616.2,1139.7 L617.2,1140.2 L618.2,1139.8 L619.2,1139.0 L620.2,1138.1 L621.2,1137.5 L622.1,1137.5 L623.1,1137.6 L624.1,1137.7 L625.1,1137.5 L626.1,1137.2 L627.1,1136.9 L628.1,1136.6 L629.1,1136.4 L630.1,1136.1 L631.1,1135.9 L632.1,1135.8 L633.1,1136.0 L634.1,1136.1 L635.1,1136.3 L636.1,1136.2 L637.1,1136.1 L638.1,1136.0 L639.1,1135.6 L640.0,1135.1 L641.0,1134.6 L642.0,1134.1 L643.0,1134.5 L644.0,1135.0 L645.0,1135.4 L646.0,1136.1 L647.0,1136.9 L648.0,1137.8 L649.0,1138.6 L650.0,1138.5 L651.0,1138.4 L652.0,1138.3 L653.0,1138.0 L654.0,1137.3 L655.0,1136.7 L656.0,1136.1 L657.0,1136.4 L658.0,1136.7 L659.0,1136.9 L660.0,1136.7 L661.0,1135.9 L662.0,1135.1 L663.0,1134.4 L664.0,1135.0 L665.0,1135.7 L666.0,1136.3 L667.0,1136.9 L668.0,1137.5 L669.0,1138.1 L669.9,1138.7 L670.9,1138.7 L671.9,1138.7 L672.9,1138.6 L673.9,1138.6 L674.9,1138.6 L675.9,1138.6 L676.9,1138.6 L677.9,1138.9 L678.9,1139.1 L679.9,1139.4 L680.9,1139.8 L681.8,1140.2 L682.8,1140.7 L683.8,1141.1 L684.8,1140.8 L685.8,1140.4 L686.8,1140.0 L687.8,1139.6 L688.8,1139.4 L689.8,1139.1 L690.8,1138.8 L691.8,1139.2 L692.7,1139.7 L693.7,1140.2 L694.7,1140.7 L695.7,1141.1 L696.7,1141.4 L697.7,1141.8 L698.7,1141.9 L699.7,1141.8 L700.6,1141.8 L701.6,1141.8 L702.6,1141.8 L703.6,1141.8 L704.6,1141.8 L705.6,1142.3 L706.6,1143.2 L707.6,1144.2 L708.5,1145.0 L709.5,1143.8 L710.5,1142.7 L711.5,1141.6 L712.5,1141.3 L713.5,1141.7 L714.5,1142.1 L715.5,1142.4 L716.5,1142.7 L717.5,1142.9 L718.5,1143.1 L719.5,1143.6 L720.5,1144.4 L721.5,1145.2 L722.4,1145.9 L723.4,1145.8 L724.4,1145.5 L725.4,1145.3 L726.4,1145.0 L727.4,1144.7 L728.4,1144.3 L729.4,1143.9 L730.4,1144.5 L731.4,1145.2 L732.4,1145.8 L733.4,1145.8 L734.4,1144.8 L735.4,1143.8 L736.4,1142.8 L737.4,1143.8 L738.4,1145.2 L739.4,1146.6 L740.4,1147.3 L741.4,1147.0 L742.4,1146.7 L743.4,1146.5 L744.4,1146.6 L745.4,1146.9 L746.4,1147.2 L747.4,1147.2 L748.3,1146.7 L749.3,1146.2 L750.3,1145.6 L751.3,1145.9 L752.3,1146.3 L753.3,1146.6 L754.3,1147.0 L755.3,1147.4 L756.3,1147.8 L757.3,1148.2 L758.3,1148.2 L759.3,1148.1 L760.3,1147.9 L761.3,1147.9 L762.3,1148.0 L763.3,1148.1 L764.3,1148.2 L765.3,1148.0 L766.3,1147.9 L767.3,1147.7 L768.3,1147.8 L769.3,1148.4 L770.3,1149.0 L771.3,1149.6 L772.3,1149.5 L773.3,1149.2 L774.3,1148.8 L775.3,1148.6 L776.3,1148.7 L777.3,1148.8 L778.3,1148.8 L779.3,1149.1 L780.3,1149.4 L781.3,1149.7 L782.3,1149.8 L783.3,1149.5 L784.3,1149.2 L785.3,1148.9 L786.3,1148.8 L787.3,1148.8 L788.3,1148.8 L789.3,1148.5 L790.3,1147.8 L791.3,1147.1 L792.3,1146.4 L793.3,1145.7 L794.3,1145.1 L795.3,1144.5 L796.3,1144.4 L797.3,1145.4 L798.3,1146.4 L799.3,1147.4 L800.3,1147.7 L801.3,1147.8 L802.3,1148.0 L803.3,1148.0 L804.3,1147.6 L805.2,1147.2 L806.2,1146.8 L807.2,1146.2 L808.2,1145.5 L809.2,1144.8 L810.1,1144.2 L811.1,1144.4 L812.1,1144.5 L813.1,1144.6 L814.0,1144.8 L815.0,1145.1 L816.0,1145.5 L816.9,1145.8 L817.9,1145.2 L818.9,1144.6 L819.8,1144.0 L820.8,1143.4 L821.8,1142.7 L822.7,1141.9 L823.7,1141.2 L824.7,1141.0 L825.6,1141.1 L826.6,1141.2 L827.6,1141.3 L828.5,1141.9 L829.5,1142.5 L830.5,1143.1 L831.5,1143.1 L832.4,1142.4 L833.4,1141.7 L834.4,1141.0 L835.4,1140.8 L836.4,1140.8 L837.4,1140.7 L838.3,1140.5 L839.3,1140.0 L840.3,1139.4 L841.3,1139.0 L842.3,1139.2 L843.2,1139.7 L844.1,1140.2 L845.0,1140.7 L845.9,1141.2 L846.7,1141.7 L847.4,1142.2 L848.1,1142.8 L848.9,1143.7 L849.6,1144.8 L850.3,1145.8 L851.0,1146.9 L851.8,1147.8 L852.6,1148.0 L853.5,1147.7 L854.4,1147.3 L855.3,1146.7 L856.1,1146.1 L857.0,1145.3 L857.8,1144.5 L858.6,1143.7 L859.4,1143.3 L860.2,1143.5 L860.9,1143.8 L861.8,1144.1 L862.6,1144.3 L863.5,1143.7 L864.4,1143.1 L865.3,1142.6 L866.3,1142.3 L867.2,1142.5 L868.2,1142.7 L869.1,1143.1 L870.1,1143.8 L871.0,1144.8 L872.0,1145.8 L872.9,1146.8 L873.8,1146.2 L874.7,1145.4 L875.6,1144.6 L876.5,1143.8 L877.4,1143.7 L878.3,1143.6 L879.1,1143.5 L880.0,1143.4 L880.9,1144.3 L881.8,1145.1 L882.7,1145.9 L883.6,1146.8 L884.5,1148.4 L885.4,1149.9 L886.3,1151.4 L887.2,1152.6 L888.1,1152.5 L889.1,1152.3 L890.0,1152.1 L891.0,1151.9 L891.9,1151.8 L892.9,1151.6 L893.9,1151.4 L894.9,1151.7 L895.9,1152.2 L896.8,1152.5 L897.8,1152.6 L898.8,1152.1 L899.8,1151.6 L900.8,1151.0 L901.7,1150.5 L902.7,1149.9 L903.7,1149.2 L904.6,1148.6 L905.5,1148.1 L906.5,1147.6 L907.4,1147.1 L908.3,1146.9 L909.2,1147.2 L910.2,1147.5 L911.1,1147.9 L912.0,1147.8 L913.0,1147.3 L913.9,1146.8 L914.8,1146.4 L915.8,1146.1 L916.7,1145.9 L917.7,1145.7 L918.7,1145.5 L919.6,1145.3 L920.6,1145.2 L921.6,1145.1 L922.6,1144.9 L923.6,1144.7 L924.6,1144.5 L925.5,1144.3 L926.5,1144.4 L927.5,1144.5 L928.5,1144.7 L929.5,1144.5 L930.5,1144.1 L931.5,1143.7 L932.5,1143.3 L933.5,1143.8 L934.5,1144.2 L935.5,1144.7 L936.5,1144.7 L937.5,1144.2 L938.5,1143.8 L939.5,1143.3 L940.5,1143.4 L941.5,1143.4 L942.5,1143.4 L943.5,1143.7 L944.5,1144.1 L945.5,1144.5 L946.5,1144.9 L947.5,1144.1 L948.5,1143.3 L949.5,1142.5 L950.5,1142.5 L951.5,1143.1 L952.5,1143.8 L953.5,1144.4 L954.5,1144.2 L955.5,1144.0 L956.5,1143.7 L957.5,1143.3 L958.5,1142.7 L959.5,1142.1 L960.5,1141.5 L961.5,1142.6 L962.5,1143.6 L963.5,1144.6 L964.5,1145.1 L965.5,1145.0 L966.5,1145.0 L967.5,1144.9 L968.5,1144.4 L969.5,1143.9 L970.5,1143.3 L971.5,1143.2 L972.5,1143.3 L973.5,1143.5 L974.5,1143.7 L975.5,1144.4 L976.5,1145.0 L977.5,1145.7 L978.5,1145.8 L979.5,1145.4 L980.5,1145.1 L981.5,1144.7 L982.5,1144.3 L983.5,1143.9 L984.5,1143.5 L985.5,1143.6 L986.5,1144.2 L987.5,1144.8 L988.5,1145.4 L989.5,1145.3 L990.5,1145.3 L991.5,1145.2 L992.5,1144.9 L993.5,1144.3 L994.5,1143.7 L995.5,1143.1 L996.5,1143.6 L997.5,1144.0 L998.5,1144.4 L999.5,1144.6 L1000.5,1144.7 L1001.5,1144.7 L1002.5,1144.7 L1003.5,1144.6 L1004.5,1144.5 L1005.5,1144.4 L1006.5,1144.3 L1007.5,1144.3 L1008.5,1144.4 L1009.5,1144.4 L1010.5,1144.6 L1011.5,1144.8 L1012.5,1145.0 L1013.5,1145.4 L1014.5,1146.1 L1015.5,1146.8 L1016.5,1147.5 L1017.5,1146.6 L1018.5,1145.7 L1019.5,1144.8 L1020.5,1144.4 L1021.5,1144.6 L1022.5,1144.8 L1023.5,1145.0 L1024.5,1144.9 L1025.5,1144.8 L1026.5,1144.7 L1027.5,1144.4 L1028.5,1144.0 L1029.5,1143.6 L1030.5,1143.1 L1031.5,1143.9 L1032.5,1144.6 L1033.5,1145.3 L1034.5,1145.6 L1035.5,1145.5 L1036.5,1145.4 L1037.5,1145.3 L1038.5,1145.5 L1039.5,1145.7 L1040.5,1145.9 L1041.5,1145.9 L1042.5,1145.6 L1043.5,1145.2 L1044.5,1144.9 L1045.5,1145.3 L1046.5,1145.6 L1047.5,1145.9 L1048.5,1146.0 L1049.5,1145.7 L1050.5,1145.4 L1051.5,1145.2 L1052.5,1145.3 L1053.5,1145.5 L1054.5,1145.7 L1055.5,1145.6 L1056.5,1145.4 L1057.5,1145.2 L1058.5,1145.0 L1059.5,1144.6 L1060.5,1144.2 L1061.5,1143.8 L1062.5,1143.7 L1063.5,1144.0 L1064.5,1144.3 L1065.5,1144.6 L1066.5,1144.1 L1067.5,1143.6 L1068.5,1143.0 L1069.5,1142.9 L1070.5,1143.3 L1071.5,1143.6 L1072.5,1143.9 L1073.5,1143.1 L1074.5,1142.3 L1075.5,1141.5 L1076.5,1141.5 L1077.5,1142.0 L1078.5,1142.6 L1079.5,1143.2 L1080.5,1143.7 L1081.5,1144.2 L1082.5,1144.7 L1083.5,1144.6 L1083.5,1144.6" fill="none" stroke="#180a0a" stroke-width="3.2" stroke-linejoin="round" stroke-linecap="round"/>
<text transform="translate(667.24,116.30) scale(0.9037,1)" font-size="85.19" fill="#000">H</text>
<text transform="translate(722.82,116.30) scale(0.9037,1)" font-size="70.71" fill="#000">g</text>
<text transform="translate(754.75,116.30) scale(0.9037,1)" font-size="85.19" fill="#000">(GS)</text>
<text transform="translate(694.29,273.00) scale(0.9887,1)" font-size="82.75" fill="#000">H</text>
<text transform="translate(753.32,273.00) scale(0.9887,1)" font-size="68.68" fill="#000">g</text>
<text transform="translate(787.26,273.00) scale(0.9887,1)" font-size="82.75" fill="#000">S</text>
<text transform="translate(682.42,430.80) scale(0.9764,1)" font-size="81.53" fill="#000">H</text>
<text transform="translate(739.89,430.80) scale(0.9764,1)" font-size="67.67" fill="#000">g</text>
<text transform="translate(772.93,430.80) scale(0.9764,1)" font-size="81.53" fill="#000">C</text>
<text transform="translate(826.01,430.80) scale(0.9764,1)" font-size="75.82" fill="#000">l</text>
<text transform="translate(677.62,614.00) scale(0.9517,1)" font-size="84.27" fill="#000">M</text>
<text transform="translate(748.98,614.00) scale(0.9517,1)" font-size="69.95" fill="#000">e</text>
<text transform="translate(778.55,614.00) scale(0.9517,1)" font-size="84.27" fill="#000">H</text>
<text transform="translate(836.51,614.00) scale(0.9517,1)" font-size="69.95" fill="#000">g</text>
<text transform="translate(869.82,614.00) scale(0.9517,1)" font-size="84.27" fill="#000">C</text>
<text transform="translate(923.35,614.00) scale(0.9517,1)" font-size="78.38" fill="#000">l</text>
<text transform="translate(664.16,792.50) scale(0.9398,1)" font-size="82.71" fill="#000">500S(0)</text>
<text transform="translate(681.49,953.60) scale(0.9327,1)" font-size="82.56" fill="#000">500S(VI)</text>
<text transform="translate(741.79,1118.20) scale(0.9023,1)" font-size="82.75" fill="#000">CK</text>
<text transform="translate(79.21,1586.40) scale(0.9587,1)" font-size="85.41" fill="#000">12250</text>
<text transform="translate(302.48,1586.40) scale(0.9493,1)" font-size="85.41" fill="#000">12300</text>
<text transform="translate(527.69,1586.40) scale(0.9484,1)" font-size="85.41" fill="#000">12350</text>
<text transform="translate(751.88,1586.40) scale(0.9488,1)" font-size="85.41" fill="#000">12400</text>
<text transform="translate(976.51,1586.40) scale(0.9587,1)" font-size="85.41" fill="#000">12450</text>
<text transform="translate(366.76,1655.30) scale(1.0442,1)" font-size="81.83" fill="#000">E</text>
<text transform="translate(418.96,1655.30) scale(1.0442,1)" font-size="67.92" fill="#000">nergy</text>
<text transform="translate(580.62,1655.30) scale(1.0442,1)" font-size="81.83" fill="#000">(</text>
<text transform="translate(609.08,1655.30) scale(1.0442,1)" font-size="67.92" fill="#000">e</text>
<text transform="translate(640.59,1655.30) scale(1.0442,1)" font-size="81.83" fill="#000">V)</text>
<text transform="translate(902.57,144.00) scale(1.1158,1)" font-size="47.15" fill="#000">2</text>
<text transform="translate(849.26,460.20) scale(1.0211,1)" font-size="47.30" fill="#000">2</text>
<g transform="translate(95,1145.6) rotate(-90)"><text transform="translate(-2.16,0.00) scale(0.9170,1)" font-size="85.50" fill="#000">N</text>
<text transform="translate(54.46,0.00) scale(1.0788,1)" font-size="70.96" fill="#000">orma</text>
<text transform="translate(211.85,0.00) scale(1.0788,1)" font-size="79.51" fill="#000">li</text>
<text transform="translate(259.51,0.00) scale(1.0788,1)" font-size="70.96" fill="#000">ze</text>
<text transform="translate(327.50,0.00) scale(1.0788,1)" font-size="79.51" fill="#000">d</text>
<text transform="translate(370.39,0.00) scale(1.0788,1)" font-size="85.50" fill="#000"> </text>
<text transform="translate(393.45,0.00) scale(1.0788,1)" font-size="70.96" fill="#000">a</text>
<text transform="translate(427.44,0.00) scale(1.0788,1)" font-size="79.51" fill="#000">b</text>
<text transform="translate(470.33,0.00) scale(1.0788,1)" font-size="70.96" fill="#000">sor</text>
<text transform="translate(563.94,0.00) scale(1.0788,1)" font-size="79.51" fill="#000">b</text>
<text transform="translate(606.83,0.00) scale(1.0788,1)" font-size="70.96" fill="#000">ance</text></g>
</svg>
</body></html>
